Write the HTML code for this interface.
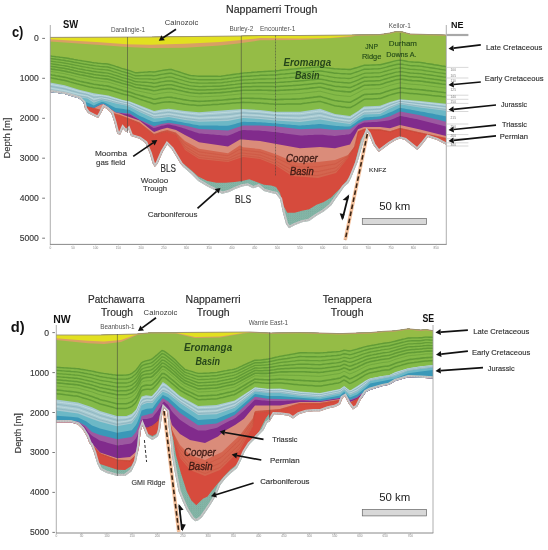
<!DOCTYPE html><html><head><meta charset="utf-8"><style>html,body{margin:0;padding:0;background:#fff;}body{width:548px;height:550px;overflow:hidden;font-family:"Liberation Sans",sans-serif;}svg{display:block}</style></head><body><svg width="548" height="550" viewBox="0 0 548 550" font-family="Liberation Sans, sans-serif"><rect width="548" height="550" fill="#fff"/><defs><pattern id="dots" width="2.2" height="2.2" patternUnits="userSpaceOnUse"><circle cx="0.6" cy="0.6" r="0.45" fill="#4f7a6e" fill-opacity="0.55"/><circle cx="1.7" cy="1.7" r="0.35" fill="#4f7a6e" fill-opacity="0.4"/></pattern></defs>
<clipPath id="clipC"><polygon points="50.0,37.4 100.0,37.2 150.0,37.0 185.0,36.6 240.0,36.0 260.0,35.5 300.0,35.5 350.0,35.0 380.0,34.5 390.0,33.0 396.0,31.5 402.0,31.8 410.0,34.0 446.0,35.0 446.0,144.7 446.2,144.7 437.0,140.0 428.0,137.0 422.5,144.0 417.4,150.0 408.0,142.5 405.0,140.0 400.0,138.5 396.0,140.0 390.0,143.5 386.0,146.6 378.7,152.0 373.2,144.7 368.7,133.8 367.2,132.0 366.5,133.8 363.2,142.5 357.5,162.2 351.0,178.0 348.5,183.0 344.0,187.0 339.9,193.1 335.5,199.0 331.1,205.5 323.8,211.4 316.5,215.8 309.2,220.9 301.9,222.3 294.6,225.3 289.0,228.2 286.0,224.0 283.0,213.0 280.0,199.0 276.0,194.0 271.2,192.9 263.9,191.0 258.5,186.5 253.0,188.3 247.5,185.6 242.0,186.5 234.7,189.2 229.3,192.0 222.0,193.8 216.5,191.0 207.4,186.5 198.2,181.0 191.0,173.7 183.6,167.3 180.3,163.4 176.0,156.1 171.6,148.9 167.2,144.5 162.8,151.8 157.7,163.4 154.8,167.0 152.7,163.4 149.7,153.2 145.4,143.0 139.6,138.7 131.0,136.0 128.5,129.5 126.0,132.0 123.0,128.4 120.0,134.9 117.2,133.5 114.2,121.8 111.3,113.0 106.9,108.7 104.0,107.2 101.1,113.0 98.2,118.1 93.8,116.0 88.0,113.0 85.0,108.7 83.6,102.8 79.2,98.4 71.9,96.2 64.6,94.1 50.0,91.9"/></clipPath>
<g clip-path="url(#clipC)">
<rect x="49" y="21.5" width="398" height="300" fill="#86b8a9"/>
<rect x="49" y="21.5" width="398" height="300" fill="url(#dots)"/>
<polygon points="49.0,21.5 447.0,21.5 447.0,250.0 446.0,250.0 367.6,250.0 366.5,131.0 364.5,133.0 360.8,140.0 357.0,155.0 353.8,167.0 349.5,176.5 346.5,181.0 343.0,185.0 339.9,188.8 335.5,193.1 331.1,197.5 323.8,201.9 316.5,204.8 309.2,209.2 301.9,210.7 294.6,212.8 287.3,212.8 282.9,204.8 280.0,193.0 276.0,187.0 271.2,185.6 263.9,184.7 256.6,181.9 249.3,179.2 242.0,181.0 234.7,181.9 225.6,182.8 216.5,182.8 207.4,181.0 198.2,176.5 191.0,170.1 183.6,163.7 182.0,250.0 50.0,250.0 49.0,250.0" fill="#d64b3d"/>
<polygon points="49.0,21.5 447.0,21.5 447.0,138.5 446.0,138.5 420.0,133.0 400.0,128.5 390.0,131.8 380.0,130.0 364.0,129.5 358.0,132.0 355.0,146.5 348.0,158.0 336.0,173.0 318.0,178.0 292.0,176.0 275.0,165.0 260.0,159.0 243.0,157.0 240.0,158.0 228.0,162.0 199.0,159.0 185.0,150.0 176.0,135.0 167.2,132.0 161.4,133.0 154.1,135.5 139.6,124.0 125.0,118.0 50.0,97.0 49.0,97.0" fill="#d4654f"/>
<polygon points="49.0,21.5 447.0,21.5 447.0,138.2 446.0,138.2 420.0,132.7 400.0,128.3 390.0,131.6 380.0,129.5 364.0,129.2 358.0,131.5 355.0,146.0 348.0,155.0 335.0,160.0 318.0,162.0 300.0,163.0 292.0,161.0 275.0,154.0 260.0,149.0 243.0,147.3 240.0,145.3 228.0,153.2 199.0,148.8 185.0,141.0 176.0,132.5 167.2,130.0 161.4,131.5 154.1,134.0 139.6,122.5 125.0,117.0 120.0,115.0 50.0,96.0 49.0,96.0" fill="#da8c7a"/>
<polygon points="49.0,21.5 447.0,21.5 447.0,136.0 446.0,136.0 420.0,129.4 400.0,125.0 390.0,128.3 380.0,127.0 364.0,127.0 358.0,129.2 350.0,144.5 335.0,148.2 320.0,147.0 300.0,148.2 275.0,143.8 260.0,141.0 243.0,139.5 240.0,139.4 228.0,146.6 199.0,142.2 185.0,135.0 176.0,129.9 167.2,127.8 161.4,129.2 154.1,132.1 151.2,129.9 139.6,120.5 125.0,115.4 120.0,113.5 115.7,112.3 108.4,107.2 104.0,104.0 101.1,104.3 93.8,108.0 86.5,106.5 80.0,101.0 50.0,95.0 49.0,95.0" fill="#812b8c"/>
<polygon points="49.0,21.5 447.0,21.5 447.0,126.5 446.0,126.5 444.0,126.0 442.0,125.5 440.0,125.0 438.0,124.5 436.1,124.0 434.1,123.5 432.1,123.0 430.1,122.4 428.1,121.9 426.1,121.4 424.1,120.9 422.1,120.4 420.1,119.9 418.1,119.5 416.2,119.1 414.2,118.7 412.2,118.3 410.2,117.9 408.2,117.5 406.2,117.1 404.2,116.7 402.2,116.3 400.2,115.9 398.2,116.7 396.3,117.5 394.3,118.4 392.3,119.3 390.3,120.1 388.3,120.5 386.3,120.8 384.3,121.0 382.3,121.3 380.3,121.6 378.3,121.7 376.4,121.9 374.4,122.0 372.4,122.1 370.4,122.2 368.4,122.3 366.4,122.4 364.4,122.6 362.4,123.3 360.4,124.2 358.4,125.1 356.5,127.0 354.5,129.3 352.5,131.5 350.5,133.7 348.5,134.4 346.5,134.6 344.5,134.9 342.5,135.1 340.5,135.3 338.5,135.5 336.6,135.8 334.6,135.9 332.6,135.7 330.6,135.5 328.6,135.4 326.6,135.2 324.6,135.0 322.6,134.8 320.6,134.7 318.6,134.7 316.7,134.7 314.7,134.8 312.7,134.9 310.7,135.0 308.7,135.1 306.7,135.2 304.7,135.3 302.7,135.4 300.7,135.4 298.7,135.3 296.8,135.0 294.8,134.8 292.8,134.5 290.8,134.2 288.8,133.9 286.8,133.7 284.8,133.4 282.8,133.1 280.8,132.9 278.8,132.6 276.9,132.3 274.9,132.1 272.9,131.9 270.9,131.7 268.9,131.5 266.9,131.3 264.9,131.1 262.9,130.9 260.9,130.7 258.9,130.6 257.0,130.5 255.0,130.4 253.0,130.4 251.0,130.3 249.0,130.3 247.0,130.2 245.0,130.1 243.0,130.1 241.0,130.5 239.0,131.1 237.1,132.0 235.1,132.8 233.1,133.7 231.1,134.5 229.1,135.3 227.1,135.7 225.1,135.6 223.1,135.4 221.1,135.2 219.1,135.1 217.2,134.9 215.2,134.8 213.2,134.6 211.2,134.4 209.2,134.3 207.2,134.1 205.2,133.9 203.2,133.8 201.2,133.6 199.2,133.4 197.3,132.8 195.3,132.2 193.3,131.5 191.3,130.8 189.3,130.2 187.3,129.5 185.3,128.8 183.3,128.2 181.3,127.6 179.3,127.0 177.4,126.4 175.4,125.8 173.4,125.4 171.4,125.0 169.4,124.6 167.4,124.6 165.4,124.9 163.4,125.4 161.4,125.8 159.4,126.4 157.5,127.1 155.5,127.8 153.5,127.9 151.5,126.8 149.5,125.6 147.5,124.5 145.5,123.4 143.5,122.2 141.5,121.1 139.5,119.9 137.6,118.8 135.6,117.8 133.6,116.7 131.6,115.6 129.6,114.6 127.6,114.3 125.6,114.0 123.6,113.7 121.6,113.3 119.6,112.9 117.7,112.6 115.7,112.3 113.7,110.9 111.7,109.5 109.7,108.1 107.7,106.7 105.7,105.2 103.7,104.0 101.7,104.2 99.7,105.0 97.8,106.0 95.8,107.0 93.8,108.0 91.8,107.6 89.8,107.2 87.8,106.8 85.8,105.9 83.8,104.2 81.8,102.6 79.8,101.0 77.9,100.6 75.9,100.2 73.9,99.8 71.9,99.4 69.9,99.0 67.9,98.6 65.9,98.2 63.9,97.8 61.9,97.4 59.9,97.0 58.0,96.6 56.0,96.2 54.0,95.8 52.0,95.4 50.0,95.0 49.0,95.0" fill="#9c58a0"/>
<polygon points="49.0,21.5 447.0,21.5 447.0,121.8 446.0,121.8 420.0,115.2 400.0,111.4 390.0,116.3 380.0,119.0 364.0,120.4 358.0,123.4 350.0,129.2 335.0,129.9 320.0,128.5 300.0,129.2 275.0,126.3 260.0,125.5 243.0,125.4 228.0,130.5 199.0,129.1 185.0,125.6 168.7,122.7 161.4,124.1 154.1,126.3 139.6,119.7 130.0,113.5 123.0,113.0 115.7,112.3 108.4,107.2 104.0,104.0 101.1,104.3 93.8,108.0 86.5,106.5 80.0,101.0 50.0,95.0 49.0,95.0" fill="#3a98b8"/>
<polygon points="49.0,21.5 447.0,21.5 447.0,116.3 446.0,116.3 444.0,115.9 442.0,115.5 440.0,115.2 438.0,114.8 436.1,114.4 434.1,114.0 432.1,113.6 430.1,113.3 428.1,112.9 426.1,112.5 424.1,112.1 422.1,111.8 420.1,111.4 418.1,111.0 416.2,110.7 414.2,110.3 412.2,110.0 410.2,109.6 408.2,109.3 406.2,108.9 404.2,108.5 402.2,108.2 400.2,107.8 398.2,108.6 396.3,109.5 394.3,110.5 392.3,111.4 390.3,112.3 388.3,113.1 386.3,113.9 384.3,114.7 382.3,115.5 380.3,116.3 378.3,116.6 376.4,116.7 374.4,116.8 372.4,117.0 370.4,117.1 368.4,117.2 366.4,117.3 364.4,117.5 362.4,118.4 360.4,119.5 358.4,120.6 356.5,121.9 354.5,123.4 352.5,124.8 350.5,126.3 348.5,126.6 346.5,126.5 344.5,126.4 342.5,126.3 340.5,126.2 338.5,126.1 336.6,126.0 334.6,125.8 332.6,125.6 330.6,125.3 328.6,125.1 326.6,124.8 324.6,124.6 322.6,124.3 320.6,124.1 318.6,124.1 316.7,124.3 314.7,124.4 312.7,124.6 310.7,124.7 308.7,124.9 306.7,125.0 304.7,125.2 302.7,125.3 300.7,125.5 298.7,125.4 296.8,125.3 294.8,125.1 292.8,124.9 290.8,124.7 288.8,124.6 286.8,124.4 284.8,124.2 282.8,124.0 280.8,123.9 278.8,123.7 276.9,123.5 274.9,123.3 272.9,123.2 270.9,123.0 268.9,122.9 266.9,122.8 264.9,122.6 262.9,122.5 260.9,122.3 258.9,122.2 257.0,122.2 255.0,122.1 253.0,122.0 251.0,122.0 249.0,121.9 247.0,121.9 245.0,121.8 243.0,121.8 241.0,122.3 239.0,122.8 237.1,123.3 235.1,123.9 233.1,124.4 231.1,124.9 229.1,125.5 227.1,125.7 225.1,125.7 223.1,125.7 221.1,125.7 219.1,125.7 217.2,125.6 215.2,125.6 213.2,125.6 211.2,125.6 209.2,125.6 207.2,125.5 205.2,125.5 203.2,125.5 201.2,125.5 199.2,125.5 197.3,125.1 195.3,124.7 193.3,124.4 191.3,124.0 189.3,123.6 187.3,123.2 185.3,122.9 183.3,122.5 181.3,122.1 179.3,121.8 177.4,121.4 175.4,121.1 173.4,120.7 171.4,120.3 169.4,120.0 167.4,120.1 165.4,120.4 163.4,120.7 161.4,121.0 159.4,121.4 157.5,121.8 155.5,122.1 153.5,122.1 151.5,121.2 149.5,120.3 147.5,119.4 145.5,118.5 143.5,117.6 141.5,116.7 139.5,115.8 137.6,114.7 135.6,113.5 133.6,112.3 131.6,111.2 129.6,110.1 127.6,109.6 125.6,109.4 123.6,109.1 121.6,108.8 119.6,108.5 117.7,108.2 115.7,107.9 113.7,106.9 111.7,105.9 109.7,104.9 107.7,104.0 105.7,103.0 103.7,102.2 101.7,102.1 99.7,102.7 97.8,103.6 95.8,104.5 93.8,105.4 91.8,104.5 89.8,103.6 87.8,102.8 85.8,102.1 83.8,101.2 81.8,100.2 79.8,99.3 77.9,98.9 75.9,98.4 73.9,98.0 71.9,97.5 69.9,97.1 67.9,96.6 65.9,96.2 63.9,95.7 61.9,95.4 59.9,95.0 58.0,94.7 56.0,94.3 54.0,94.0 52.0,93.6 50.0,93.2 49.0,93.2" fill="#6cb8c6"/>
<polygon points="49.0,21.5 447.0,21.5 447.0,110.8 446.0,110.8 420.0,107.5 400.0,104.2 390.0,108.6 380.0,113.9 364.0,114.6 358.0,118.2 350.0,124.1 335.0,121.9 320.0,119.5 300.0,121.9 275.0,120.4 260.0,119.0 243.0,118.1 228.0,121.0 199.0,121.8 185.0,120.0 168.7,117.0 161.4,118.0 154.1,118.5 139.6,112.0 128.0,106.0 115.7,103.5 108.4,101.4 101.1,99.9 93.8,102.8 87.4,98.5 79.2,97.5 64.6,93.8 50.0,91.5 49.0,91.5" fill="#a6c9d0"/>
<polygon points="49.0,21.5 447.0,21.5 447.0,103.7 446.0,103.7 420.0,101.0 400.0,99.3 390.0,102.0 380.0,105.8 364.0,106.6 358.0,111.0 350.0,116.1 335.0,113.9 320.0,108.8 300.0,111.7 275.0,111.7 260.0,110.0 243.0,109.0 228.0,110.1 199.0,112.3 185.0,111.0 168.7,108.8 161.4,109.6 154.1,111.0 139.6,105.2 130.0,101.4 123.0,99.9 108.4,95.5 93.8,93.3 79.2,89.7 64.6,85.3 50.0,82.4 49.0,82.4" fill="#84ba48"/>
<polygon points="49.0,21.5 447.0,21.5 447.0,65.9 446.0,65.9 444.0,65.6 442.0,65.2 440.0,64.9 438.0,64.6 436.1,64.3 434.1,63.9 432.1,63.6 430.1,63.3 428.1,62.9 426.1,62.6 424.1,62.3 422.1,62.0 420.1,61.7 418.1,61.5 416.2,61.5 414.2,61.4 412.2,61.3 410.2,61.2 408.2,60.8 406.2,60.4 404.2,60.1 402.2,59.7 400.2,59.5 398.2,59.7 396.3,59.9 394.3,60.3 392.3,60.9 390.3,61.4 388.3,61.9 386.3,62.4 384.3,62.9 382.3,63.4 380.3,63.9 378.3,64.0 376.4,64.1 374.4,64.2 372.4,64.2 370.4,64.3 368.4,64.4 366.4,64.5 364.4,64.5 362.4,65.1 360.4,65.7 358.4,66.3 356.5,66.9 354.5,67.5 352.5,68.0 350.5,68.6 348.5,68.7 346.5,68.6 344.5,68.5 342.5,68.4 340.5,68.3 338.5,68.2 336.6,68.1 334.6,67.9 332.6,67.7 330.6,67.4 328.6,67.2 326.6,66.9 324.6,66.6 322.6,66.4 320.6,66.1 318.6,66.1 316.7,66.3 314.7,66.4 312.7,66.6 310.7,66.7 308.7,66.9 306.7,67.0 304.7,67.2 302.7,67.3 300.7,67.5 298.7,67.6 296.8,67.9 294.8,68.1 292.8,68.3 290.8,68.5 288.8,68.7 286.8,68.9 284.8,69.1 282.8,69.3 280.8,69.5 278.8,69.8 276.9,70.0 274.9,70.2 272.9,70.3 270.9,70.4 268.9,70.5 266.9,70.6 264.9,70.7 262.9,70.8 260.9,70.9 258.9,71.1 257.0,71.2 255.0,71.4 253.0,71.6 251.0,71.8 249.0,71.9 247.0,72.1 245.0,72.3 243.0,72.4 241.0,72.7 239.0,73.0 237.1,73.3 235.1,73.5 233.1,73.8 231.1,74.1 229.1,74.4 227.1,74.7 225.1,75.0 223.1,75.2 221.1,75.5 219.1,75.7 217.2,75.7 215.2,75.7 213.2,75.7 211.2,75.7 209.2,75.6 207.2,75.6 205.2,75.6 203.2,75.6 201.2,75.6 199.2,75.6 197.3,75.4 195.3,75.2 193.3,75.1 191.3,74.9 189.3,74.5 187.3,73.9 185.3,73.3 183.3,72.6 181.3,72.0 179.3,71.3 177.4,70.6 175.4,70.0 173.4,69.4 171.4,68.7 169.4,68.7 167.4,68.9 165.4,69.2 163.4,69.5 161.4,69.9 159.4,70.3 157.5,70.6 155.5,71.0 153.5,71.3 151.5,71.1 149.5,71.1 147.5,71.3 145.5,71.4 143.5,71.6 141.5,71.8 139.5,71.9 137.6,72.1 135.6,72.2 133.6,71.6 131.6,70.8 129.6,70.1 127.6,69.5 125.6,68.9 123.6,68.3 121.6,67.7 119.6,67.0 117.7,66.4 115.7,65.8 113.7,65.1 111.7,64.5 109.7,63.9 107.7,63.4 105.7,63.2 103.7,63.1 101.7,63.0 99.7,62.8 97.8,62.6 95.8,62.3 93.8,62.1 91.8,61.8 89.8,61.5 87.8,61.1 85.8,60.8 83.8,60.5 81.8,60.2 79.8,59.9 77.9,59.5 75.9,59.2 73.9,58.8 71.9,58.5 69.9,58.1 67.9,57.8 65.9,57.5 63.9,57.1 61.9,56.9 59.9,56.6 58.0,56.4 56.0,56.1 54.0,55.9 52.0,55.6 50.0,55.4 49.0,55.4" fill="#95bc46"/>
<polygon points="49.0,21.5 447.0,21.5 447.0,35.8 446.0,35.8 410.0,34.8 402.0,32.6 396.0,32.3 390.0,33.8 380.0,35.3 356.0,35.8 350.0,37.0 300.0,40.0 260.0,40.3 238.0,43.6 220.0,45.5 185.0,47.8 150.0,48.0 127.0,46.9 100.0,45.0 50.0,41.4 49.0,41.4" fill="#d8a064"/>
<polygon points="49.0,21.5 447.0,21.5 447.0,25.0 446.0,25.0 358.0,25.0 356.0,35.0 350.0,36.0 330.0,38.0 300.0,38.5 260.0,38.0 238.0,40.3 220.0,42.0 185.0,43.8 150.0,44.7 127.0,44.2 100.0,42.3 50.0,39.2 49.0,39.2" fill="#e2e020"/>
<polyline points="50.0,55.9 52.0,56.2 54.0,56.4 56.0,56.7 58.0,56.9 59.9,57.2 61.9,57.4 63.9,57.7 65.9,58.0 67.9,58.3 69.9,58.7 71.9,59.0 73.9,59.4 75.9,59.7 77.9,60.1 79.8,60.4 81.8,60.8 83.8,61.1 85.8,61.4 87.8,61.7 89.8,62.0 91.8,62.4 93.8,62.7 95.8,62.9 97.8,63.2 99.7,63.4 101.7,63.6 103.7,63.7 105.7,63.8 107.7,64.0 109.7,64.5 111.7,65.1 113.7,65.7 115.7,66.4 117.7,67.0 119.6,67.6 121.6,68.3 123.6,68.9 125.6,69.5 127.6,70.1 129.6,70.7 131.6,71.4 133.6,72.2 135.6,72.8 137.6,72.7 139.5,72.5 141.5,72.4 143.5,72.3 145.5,72.1 147.5,72.0 149.5,71.8 151.5,71.9 153.5,72.0 155.5,71.8 157.5,71.4 159.4,71.0 161.4,70.6 163.4,70.3 165.4,70.0 167.4,69.7 169.4,69.4 171.4,69.5 173.4,70.1 175.4,70.8 177.4,71.4 179.3,72.0 181.3,72.7 183.3,73.3 185.3,74.0 187.3,74.6 189.3,75.2 191.3,75.6 193.3,75.7 195.3,75.9 197.3,76.1 199.2,76.3 201.2,76.3 203.2,76.3 205.2,76.3 207.2,76.3 209.2,76.3 211.2,76.3 213.2,76.3 215.2,76.3 217.2,76.3 219.1,76.4 221.1,76.2 223.1,75.9 225.1,75.6 227.1,75.3 229.1,75.1 231.1,74.8 233.1,74.5 235.1,74.2 237.1,73.9 239.0,73.7 241.0,73.4 243.0,73.1 245.0,72.9 247.0,72.8 249.0,72.6 251.0,72.5 253.0,72.3 255.0,72.1 257.0,72.0 258.9,71.8 260.9,71.7 262.9,71.6 264.9,71.5 266.9,71.4 268.9,71.3 270.9,71.2 272.9,71.1 274.9,71.0 276.9,70.8 278.8,70.6 280.8,70.3 282.8,70.1 284.8,69.9 286.8,69.7 288.8,69.5 290.8,69.3 292.8,69.1 294.8,68.9 296.8,68.7 298.7,68.5 300.7,68.3 302.7,68.1 304.7,68.0 306.7,67.8 308.7,67.7 310.7,67.5 312.7,67.4 314.7,67.3 316.7,67.1 318.6,67.0 320.6,66.9 322.6,67.2 324.6,67.5 326.6,67.7 328.6,68.0 330.6,68.3 332.6,68.5 334.6,68.8 336.6,68.9 338.5,69.0 340.5,69.1 342.5,69.2 344.5,69.3 346.5,69.4 348.5,69.5 350.5,69.5 352.5,68.9 354.5,68.3 356.5,67.8 358.4,67.2 360.4,66.5 362.4,65.9 364.4,65.3 366.4,65.3 368.4,65.2 370.4,65.1 372.4,65.0 374.4,65.0 376.4,64.9 378.3,64.8 380.3,64.7 382.3,64.2 384.3,63.7 386.3,63.2 388.3,62.7 390.3,62.2 392.3,61.6 394.3,61.1 396.3,60.6 398.2,60.4 400.2,60.3 402.2,60.4 404.2,60.8 406.2,61.2 408.2,61.6 410.2,61.9 412.2,62.0 414.2,62.1 416.2,62.2 418.1,62.3 420.1,62.4 422.1,62.7 424.1,63.0 426.1,63.4 428.1,63.7 430.1,64.0 432.1,64.3 434.1,64.7 436.1,65.0 438.0,65.3 440.0,65.6 442.0,66.0 444.0,66.3 446.0,66.6" fill="none" stroke="#4e8a2c" stroke-width="1.4" stroke-opacity="0.65"/>
<polyline points="50.0,58.5 52.0,58.7 54.0,59.0 56.0,59.3 58.0,59.5 59.9,59.8 61.9,60.1 63.9,60.3 65.9,60.7 67.9,61.0 69.9,61.4 71.9,61.8 73.9,62.2 75.9,62.5 77.9,62.9 79.8,63.3 81.8,63.6 83.8,64.0 85.8,64.3 87.8,64.6 89.8,65.0 91.8,65.3 93.8,65.6 95.8,65.9 97.8,66.1 99.7,66.4 101.7,66.6 103.7,66.7 105.7,66.9 107.7,67.0 109.7,67.5 111.7,68.1 113.7,68.7 115.7,69.4 117.7,70.0 119.6,70.6 121.6,71.3 123.6,71.9 125.6,72.5 127.6,73.0 129.6,73.6 131.6,74.4 133.6,75.1 135.6,75.7 137.6,75.7 139.5,75.7 141.5,75.6 143.5,75.6 145.5,75.5 147.5,75.5 149.5,75.4 151.5,75.5 153.5,75.7 155.5,75.5 157.5,75.2 159.4,74.8 161.4,74.4 163.4,74.1 165.4,73.8 167.4,73.5 169.4,73.2 171.4,73.3 173.4,73.9 175.4,74.5 177.4,75.1 179.3,75.7 181.3,76.3 183.3,76.9 185.3,77.5 187.3,78.1 189.3,78.7 191.3,79.0 193.3,79.2 195.3,79.4 197.3,79.6 199.2,79.7 201.2,79.7 203.2,79.7 205.2,79.7 207.2,79.7 209.2,79.7 211.2,79.7 213.2,79.7 215.2,79.7 217.2,79.6 219.1,79.6 221.1,79.5 223.1,79.2 225.1,78.9 227.1,78.7 229.1,78.4 231.1,78.1 233.1,77.9 235.1,77.6 237.1,77.3 239.0,77.1 241.0,76.8 243.0,76.5 245.0,76.4 247.0,76.3 249.0,76.2 251.0,76.0 253.0,75.9 255.0,75.7 257.0,75.6 258.9,75.5 260.9,75.3 262.9,75.3 264.9,75.2 266.9,75.2 268.9,75.1 270.9,75.0 272.9,75.0 274.9,74.9 276.9,74.7 278.8,74.5 280.8,74.3 282.8,74.1 284.8,74.0 286.8,73.8 288.8,73.6 290.8,73.4 292.8,73.2 294.8,73.0 296.8,72.8 298.7,72.7 300.7,72.5 302.7,72.3 304.7,72.2 306.7,72.0 308.7,71.8 310.7,71.7 312.7,71.5 314.7,71.3 316.7,71.2 318.6,71.0 320.6,71.0 322.6,71.3 324.6,71.6 326.6,71.9 328.6,72.2 330.6,72.5 332.6,72.8 334.6,73.2 336.6,73.3 338.5,73.4 340.5,73.6 342.5,73.7 344.5,73.8 346.5,73.9 348.5,74.0 350.5,74.0 352.5,73.3 354.5,72.7 356.5,72.0 358.4,71.4 360.4,70.7 362.4,69.9 364.4,69.3 366.4,69.2 368.4,69.2 370.4,69.1 372.4,69.0 374.4,68.9 376.4,68.9 378.3,68.8 380.3,68.6 382.3,68.1 384.3,67.6 386.3,67.1 388.3,66.5 390.3,66.0 392.3,65.5 394.3,65.0 396.3,64.5 398.2,64.2 400.2,64.1 402.2,64.2 404.2,64.6 406.2,64.9 408.2,65.3 410.2,65.6 412.2,65.7 414.2,65.8 416.2,65.9 418.1,66.0 420.1,66.1 422.1,66.4 424.1,66.8 426.1,67.1 428.1,67.4 430.1,67.7 432.1,68.0 434.1,68.3 436.1,68.6 438.0,68.9 440.0,69.3 442.0,69.6 444.0,69.9 446.0,70.2" fill="none" stroke="#4e8a2c" stroke-width="1.4" stroke-opacity="0.65"/>
<polyline points="50.0,61.0 52.0,61.3 54.0,61.6 56.0,61.9 58.0,62.1 59.9,62.4 61.9,62.7 63.9,63.0 65.9,63.3 67.9,63.7 69.9,64.1 71.9,64.5 73.9,64.9 75.9,65.3 77.9,65.7 79.8,66.1 81.8,66.5 83.8,66.8 85.8,67.2 87.8,67.5 89.8,67.9 91.8,68.2 93.8,68.6 95.8,68.9 97.8,69.1 99.7,69.4 101.7,69.5 103.7,69.7 105.7,69.9 107.7,70.0 109.7,70.5 111.7,71.1 113.7,71.8 115.7,72.4 117.7,73.0 119.6,73.6 121.6,74.3 123.6,74.9 125.6,75.4 127.6,76.0 129.6,76.5 131.6,77.3 133.6,78.1 135.6,78.7 137.6,78.7 139.5,78.8 141.5,78.8 143.5,78.9 145.5,78.9 147.5,78.9 149.5,79.0 151.5,79.2 153.5,79.5 155.5,79.3 157.5,78.9 159.4,78.5 161.4,78.1 163.4,77.8 165.4,77.5 167.4,77.2 169.4,77.0 171.4,77.1 173.4,77.7 175.4,78.3 177.4,78.8 179.3,79.4 181.3,79.9 183.3,80.5 185.3,81.1 187.3,81.6 189.3,82.1 191.3,82.5 193.3,82.6 195.3,82.8 197.3,83.0 199.2,83.2 201.2,83.1 203.2,83.1 205.2,83.1 207.2,83.1 209.2,83.0 211.2,83.0 213.2,83.0 215.2,83.0 217.2,82.9 219.1,82.9 221.1,82.8 223.1,82.5 225.1,82.2 227.1,82.0 229.1,81.7 231.1,81.5 233.1,81.2 235.1,81.0 237.1,80.7 239.0,80.5 241.0,80.2 243.0,80.0 245.0,79.9 247.0,79.8 249.0,79.7 251.0,79.6 253.0,79.5 255.0,79.3 257.0,79.2 258.9,79.1 260.9,79.0 262.9,79.0 264.9,79.0 266.9,78.9 268.9,78.9 270.9,78.9 272.9,78.8 274.9,78.8 276.9,78.7 278.8,78.5 280.8,78.3 282.8,78.2 284.8,78.0 286.8,77.8 288.8,77.7 290.8,77.5 292.8,77.3 294.8,77.2 296.8,77.0 298.7,76.8 300.7,76.7 302.7,76.5 304.7,76.3 306.7,76.1 308.7,76.0 310.7,75.8 312.7,75.6 314.7,75.4 316.7,75.3 318.6,75.1 320.6,75.1 322.6,75.4 324.6,75.8 326.6,76.1 328.6,76.5 330.6,76.8 332.6,77.2 334.6,77.5 336.6,77.7 338.5,77.8 340.5,78.0 342.5,78.1 344.5,78.2 346.5,78.4 348.5,78.5 350.5,78.4 352.5,77.7 354.5,77.0 356.5,76.3 358.4,75.6 360.4,74.8 362.4,74.0 364.4,73.3 366.4,73.2 368.4,73.2 370.4,73.1 372.4,73.0 374.4,72.9 376.4,72.8 378.3,72.8 380.3,72.6 382.3,72.1 384.3,71.5 386.3,71.0 388.3,70.4 390.3,69.9 392.3,69.3 394.3,68.8 396.3,68.3 398.2,68.1 400.2,67.8 402.2,68.0 404.2,68.3 406.2,68.7 408.2,69.0 410.2,69.3 412.2,69.4 414.2,69.5 416.2,69.6 418.1,69.8 420.1,69.9 422.1,70.2 424.1,70.5 426.1,70.8 428.1,71.1 430.1,71.4 432.1,71.7 434.1,72.0 436.1,72.3 438.0,72.6 440.0,72.9 442.0,73.2 444.0,73.5 446.0,73.8" fill="none" stroke="#4e8a2c" stroke-width="1.3" stroke-opacity="0.6"/>
<polyline points="50.0,63.6 52.0,63.9 54.0,64.2 56.0,64.5 58.0,64.8 59.9,65.1 61.9,65.4 63.9,65.6 65.9,66.0 67.9,66.4 69.9,66.9 71.9,67.3 73.9,67.7 75.9,68.1 77.9,68.6 79.8,69.0 81.8,69.3 83.8,69.7 85.8,70.1 87.8,70.4 89.8,70.8 91.8,71.2 93.8,71.5 95.8,71.8 97.8,72.1 99.7,72.3 101.7,72.5 103.7,72.7 105.7,72.9 107.7,73.1 109.7,73.6 111.7,74.2 113.7,74.8 115.7,75.4 117.7,76.0 119.6,76.6 121.6,77.3 123.6,77.9 125.6,78.4 127.6,78.9 129.6,79.5 131.6,80.2 133.6,81.0 135.6,81.6 137.6,81.8 139.5,81.9 141.5,82.1 143.5,82.2 145.5,82.3 147.5,82.4 149.5,82.6 151.5,82.8 153.5,83.2 155.5,83.0 157.5,82.7 159.4,82.3 161.4,81.9 163.4,81.6 165.4,81.3 167.4,81.0 169.4,80.9 171.4,81.0 173.4,81.5 175.4,82.0 177.4,82.5 179.3,83.1 181.3,83.6 183.3,84.1 185.3,84.6 187.3,85.1 189.3,85.6 191.3,85.9 193.3,86.1 195.3,86.3 197.3,86.4 199.2,86.6 201.2,86.6 203.2,86.5 205.2,86.5 207.2,86.4 209.2,86.4 211.2,86.4 213.2,86.3 215.2,86.3 217.2,86.2 219.1,86.2 221.1,86.0 223.1,85.8 225.1,85.6 227.1,85.3 229.1,85.1 231.1,84.8 233.1,84.6 235.1,84.4 237.1,84.1 239.0,83.9 241.0,83.7 243.0,83.4 245.0,83.3 247.0,83.3 249.0,83.2 251.0,83.1 253.0,83.0 255.0,83.0 257.0,82.9 258.9,82.8 260.9,82.7 262.9,82.7 264.9,82.7 266.9,82.7 268.9,82.7 270.9,82.7 272.9,82.7 274.9,82.7 276.9,82.6 278.8,82.4 280.8,82.3 282.8,82.2 284.8,82.0 286.8,81.9 288.8,81.7 290.8,81.6 292.8,81.4 294.8,81.3 296.8,81.2 298.7,81.0 300.7,80.8 302.7,80.7 304.7,80.5 306.7,80.3 308.7,80.1 310.7,79.9 312.7,79.7 314.7,79.5 316.7,79.3 318.6,79.2 320.6,79.1 322.6,79.5 324.6,79.9 326.6,80.3 328.6,80.7 330.6,81.1 332.6,81.5 334.6,81.8 336.6,82.1 338.5,82.2 340.5,82.4 342.5,82.5 344.5,82.7 346.5,82.8 348.5,83.0 350.5,82.9 352.5,82.1 354.5,81.4 356.5,80.6 358.4,79.8 360.4,78.9 362.4,78.0 364.4,77.3 366.4,77.2 368.4,77.1 370.4,77.1 372.4,77.0 374.4,76.9 376.4,76.8 378.3,76.7 380.3,76.6 382.3,76.0 384.3,75.4 386.3,74.8 388.3,74.3 390.3,73.7 392.3,73.2 394.3,72.6 396.3,72.1 398.2,71.9 400.2,71.6 402.2,71.8 404.2,72.1 406.2,72.4 408.2,72.7 410.2,73.0 412.2,73.1 414.2,73.3 416.2,73.4 418.1,73.5 420.1,73.6 422.1,73.9 424.1,74.2 426.1,74.5 428.1,74.7 430.1,75.0 432.1,75.3 434.1,75.6 436.1,75.9 438.0,76.2 440.0,76.5 442.0,76.8 444.0,77.1 446.0,77.3" fill="none" stroke="#4e8a2c" stroke-width="1.4" stroke-opacity="0.65"/>
<polyline points="50.0,66.2 52.0,66.5 54.0,66.8 56.0,67.1 58.0,67.4 59.9,67.7 61.9,68.0 63.9,68.3 65.9,68.7 67.9,69.1 69.9,69.6 71.9,70.0 73.9,70.5 75.9,70.9 77.9,71.4 79.8,71.8 81.8,72.2 83.8,72.6 85.8,73.0 87.8,73.3 89.8,73.7 91.8,74.1 93.8,74.5 95.8,74.8 97.8,75.0 99.7,75.3 101.7,75.5 103.7,75.7 105.7,75.9 107.7,76.1 109.7,76.6 111.7,77.2 113.7,77.8 115.7,78.4 117.7,79.0 119.6,79.6 121.6,80.3 123.6,80.9 125.6,81.4 127.6,81.9 129.6,82.4 131.6,83.1 133.6,83.9 135.6,84.5 137.6,84.8 139.5,85.0 141.5,85.3 143.5,85.5 145.5,85.7 147.5,85.9 149.5,86.2 151.5,86.5 153.5,86.9 155.5,86.8 157.5,86.4 159.4,86.0 161.4,85.6 163.4,85.4 165.4,85.1 167.4,84.8 169.4,84.7 171.4,84.8 173.4,85.3 175.4,85.8 177.4,86.2 179.3,86.7 181.3,87.2 183.3,87.7 185.3,88.2 187.3,88.6 189.3,89.1 191.3,89.3 193.3,89.5 195.3,89.7 197.3,89.9 199.2,90.0 201.2,90.0 203.2,89.9 205.2,89.9 207.2,89.8 209.2,89.8 211.2,89.7 213.2,89.7 215.2,89.6 217.2,89.5 219.1,89.5 221.1,89.3 223.1,89.1 225.1,88.9 227.1,88.6 229.1,88.4 231.1,88.2 233.1,88.0 235.1,87.8 237.1,87.5 239.0,87.3 241.0,87.1 243.0,86.9 245.0,86.8 247.0,86.8 249.0,86.7 251.0,86.7 253.0,86.6 255.0,86.6 257.0,86.5 258.9,86.4 260.9,86.4 262.9,86.5 264.9,86.5 266.9,86.5 268.9,86.6 270.9,86.6 272.9,86.6 274.9,86.7 276.9,86.5 278.8,86.4 280.8,86.3 282.8,86.2 284.8,86.0 286.8,85.9 288.8,85.8 290.8,85.7 292.8,85.6 294.8,85.4 296.8,85.3 298.7,85.2 300.7,85.0 302.7,84.8 304.7,84.6 306.7,84.4 308.7,84.2 310.7,84.0 312.7,83.8 314.7,83.6 316.7,83.4 318.6,83.2 320.6,83.2 322.6,83.6 324.6,84.1 326.6,84.5 328.6,84.9 330.6,85.3 332.6,85.8 334.6,86.2 336.6,86.4 338.5,86.6 340.5,86.8 342.5,86.9 344.5,87.1 346.5,87.3 348.5,87.5 350.5,87.4 352.5,86.6 354.5,85.7 356.5,84.9 358.4,84.0 360.4,83.0 362.4,82.1 364.4,81.3 366.4,81.2 368.4,81.1 370.4,81.0 372.4,81.0 374.4,80.9 376.4,80.8 378.3,80.7 380.3,80.5 382.3,79.9 384.3,79.3 386.3,78.7 388.3,78.1 390.3,77.5 392.3,77.0 394.3,76.5 396.3,76.0 398.2,75.7 400.2,75.4 402.2,75.6 404.2,75.8 406.2,76.1 408.2,76.4 410.2,76.7 412.2,76.8 414.2,77.0 416.2,77.1 418.1,77.2 420.1,77.3 422.1,77.6 424.1,77.9 426.1,78.2 428.1,78.4 430.1,78.7 432.1,79.0 434.1,79.3 436.1,79.5 438.0,79.8 440.0,80.1 442.0,80.4 444.0,80.6 446.0,80.9" fill="none" stroke="#4e8a2c" stroke-width="1.5" stroke-opacity="0.65"/>
<polyline points="50.0,68.7 52.0,69.1 54.0,69.4 56.0,69.7 58.0,70.0 59.9,70.3 61.9,70.6 63.9,71.0 65.9,71.4 67.9,71.9 69.9,72.3 71.9,72.8 73.9,73.3 75.9,73.7 77.9,74.2 79.8,74.7 81.8,75.0 83.8,75.4 85.8,75.8 87.8,76.2 89.8,76.6 91.8,77.0 93.8,77.5 95.8,77.7 97.8,78.0 99.7,78.3 101.7,78.5 103.7,78.7 105.7,78.9 107.7,79.1 109.7,79.6 111.7,80.2 113.7,80.8 115.7,81.4 117.7,82.0 119.6,82.6 121.6,83.3 123.6,83.8 125.6,84.3 127.6,84.8 129.6,85.3 131.6,86.0 133.6,86.8 135.6,87.5 137.6,87.8 139.5,88.1 141.5,88.5 143.5,88.8 145.5,89.1 147.5,89.4 149.5,89.7 151.5,90.2 153.5,90.7 155.5,90.5 157.5,90.2 159.4,89.8 161.4,89.4 163.4,89.1 165.4,88.9 167.4,88.6 169.4,88.5 171.4,88.6 173.4,89.1 175.4,89.5 177.4,90.0 179.3,90.4 181.3,90.8 183.3,91.3 185.3,91.7 187.3,92.1 189.3,92.5 191.3,92.8 193.3,93.0 195.3,93.2 197.3,93.3 199.2,93.5 201.2,93.4 203.2,93.3 205.2,93.3 207.2,93.2 209.2,93.1 211.2,93.1 213.2,93.0 215.2,92.9 217.2,92.8 219.1,92.8 221.1,92.6 223.1,92.4 225.1,92.2 227.1,92.0 229.1,91.8 231.1,91.6 233.1,91.3 235.1,91.1 237.1,90.9 239.0,90.7 241.0,90.5 243.0,90.3 245.0,90.3 247.0,90.3 249.0,90.2 251.0,90.2 253.0,90.2 255.0,90.2 257.0,90.1 258.9,90.1 260.9,90.1 262.9,90.2 264.9,90.3 266.9,90.3 268.9,90.4 270.9,90.4 272.9,90.5 274.9,90.6 276.9,90.5 278.8,90.4 280.8,90.3 282.8,90.2 284.8,90.1 286.8,90.0 288.8,89.9 290.8,89.8 292.8,89.7 294.8,89.6 296.8,89.5 298.7,89.4 300.7,89.2 302.7,89.0 304.7,88.8 306.7,88.6 308.7,88.4 310.7,88.1 312.7,87.9 314.7,87.7 316.7,87.5 318.6,87.3 320.6,87.3 322.6,87.7 324.6,88.2 326.6,88.7 328.6,89.1 330.6,89.6 332.6,90.1 334.6,90.5 336.6,90.8 338.5,91.0 340.5,91.2 342.5,91.4 344.5,91.6 346.5,91.8 348.5,91.9 350.5,91.9 352.5,91.0 354.5,90.1 356.5,89.1 358.4,88.2 360.4,87.2 362.4,86.1 364.4,85.3 366.4,85.2 368.4,85.1 370.4,85.0 372.4,84.9 374.4,84.9 376.4,84.8 378.3,84.7 380.3,84.5 382.3,83.9 384.3,83.3 386.3,82.6 388.3,82.0 390.3,81.4 392.3,80.9 394.3,80.3 396.3,79.8 398.2,79.5 400.2,79.2 402.2,79.3 404.2,79.6 406.2,79.9 408.2,80.2 410.2,80.4 412.2,80.6 414.2,80.7 416.2,80.8 418.1,80.9 420.1,81.1 422.1,81.3 424.1,81.6 426.1,81.9 428.1,82.1 430.1,82.4 432.1,82.6 434.1,82.9 436.1,83.2 438.0,83.4 440.0,83.7 442.0,84.0 444.0,84.2 446.0,84.5" fill="none" stroke="#4e8a2c" stroke-width="1.6" stroke-opacity="0.65"/>
<polyline points="50.0,71.3 52.0,71.6 54.0,72.0 56.0,72.3 58.0,72.6 59.9,73.0 61.9,73.3 63.9,73.6 65.9,74.1 67.9,74.6 69.9,75.0 71.9,75.5 73.9,76.0 75.9,76.5 77.9,77.0 79.8,77.5 81.8,77.9 83.8,78.3 85.8,78.7 87.8,79.1 89.8,79.6 91.8,80.0 93.8,80.4 95.8,80.7 97.8,80.9 99.7,81.2 101.7,81.5 103.7,81.7 105.7,81.9 107.7,82.1 109.7,82.6 111.7,83.2 113.7,83.8 115.7,84.4 117.7,85.0 119.6,85.6 121.6,86.3 123.6,86.8 125.6,87.3 127.6,87.8 129.6,88.3 131.6,89.0 133.6,89.7 135.6,90.4 137.6,90.8 139.5,91.3 141.5,91.7 143.5,92.1 145.5,92.5 147.5,92.9 149.5,93.3 151.5,93.8 153.5,94.4 155.5,94.3 157.5,93.9 159.4,93.5 161.4,93.1 163.4,92.9 165.4,92.6 167.4,92.4 169.4,92.3 171.4,92.4 173.4,92.9 175.4,93.3 177.4,93.7 179.3,94.1 181.3,94.5 183.3,94.9 185.3,95.3 187.3,95.6 189.3,96.0 191.3,96.2 193.3,96.4 195.3,96.6 197.3,96.8 199.2,96.9 201.2,96.8 203.2,96.8 205.2,96.7 207.2,96.6 209.2,96.5 211.2,96.4 213.2,96.3 215.2,96.2 217.2,96.1 219.1,96.1 221.1,95.9 223.1,95.7 225.1,95.5 227.1,95.3 229.1,95.1 231.1,94.9 233.1,94.7 235.1,94.5 237.1,94.3 239.0,94.1 241.0,93.9 243.0,93.7 245.0,93.7 247.0,93.8 249.0,93.8 251.0,93.8 253.0,93.8 255.0,93.8 257.0,93.8 258.9,93.8 260.9,93.8 262.9,93.9 264.9,94.0 266.9,94.1 268.9,94.2 270.9,94.3 272.9,94.4 274.9,94.5 276.9,94.4 278.8,94.3 280.8,94.3 282.8,94.2 284.8,94.1 286.8,94.0 288.8,93.9 290.8,93.9 292.8,93.8 294.8,93.7 296.8,93.6 298.7,93.5 300.7,93.4 302.7,93.2 304.7,92.9 306.7,92.7 308.7,92.5 310.7,92.3 312.7,92.0 314.7,91.8 316.7,91.6 318.6,91.3 320.6,91.3 322.6,91.9 324.6,92.4 326.6,92.9 328.6,93.4 330.6,93.9 332.6,94.4 334.6,94.9 336.6,95.2 338.5,95.4 340.5,95.6 342.5,95.8 344.5,96.0 346.5,96.2 348.5,96.4 350.5,96.4 352.5,95.4 354.5,94.4 356.5,93.4 358.4,92.4 360.4,91.3 362.4,90.2 364.4,89.3 366.4,89.2 368.4,89.1 370.4,89.0 372.4,88.9 374.4,88.8 376.4,88.7 378.3,88.7 380.3,88.5 382.3,87.8 384.3,87.2 386.3,86.5 388.3,85.9 390.3,85.2 392.3,84.7 394.3,84.2 396.3,83.7 398.2,83.3 400.2,82.9 402.2,83.1 404.2,83.4 406.2,83.6 408.2,83.9 410.2,84.1 412.2,84.3 414.2,84.4 416.2,84.5 418.1,84.7 420.1,84.8 422.1,85.1 424.1,85.3 426.1,85.6 428.1,85.8 430.1,86.1 432.1,86.3 434.1,86.6 436.1,86.8 438.0,87.1 440.0,87.3 442.0,87.6 444.0,87.8 446.0,88.1" fill="none" stroke="#4e8a2c" stroke-width="0.9" stroke-opacity="0.4"/>
<polyline points="50.0,74.6 52.0,75.0 54.0,75.3 56.0,75.7 58.0,76.0 59.9,76.4 61.9,76.7 63.9,77.1 65.9,77.5 67.9,78.1 69.9,78.6 71.9,79.1 73.9,79.6 75.9,80.2 77.9,80.7 79.8,81.2 81.8,81.6 83.8,82.1 85.8,82.5 87.8,82.9 89.8,83.4 91.8,83.8 93.8,84.2 95.8,84.5 97.8,84.8 99.7,85.1 101.7,85.3 103.7,85.6 105.7,85.8 107.7,86.1 109.7,86.6 111.7,87.2 113.7,87.8 115.7,88.3 117.7,88.9 119.6,89.5 121.6,90.1 123.6,90.7 125.6,91.1 127.6,91.6 129.6,92.1 131.6,92.8 133.6,93.5 135.6,94.2 137.6,94.8 139.5,95.3 141.5,95.9 143.5,96.4 145.5,96.9 147.5,97.5 149.5,98.0 151.5,98.6 153.5,99.2 155.5,99.2 157.5,98.8 159.4,98.4 161.4,98.0 163.4,97.8 165.4,97.5 167.4,97.3 169.4,97.2 171.4,97.4 173.4,97.8 175.4,98.1 177.4,98.5 179.3,98.8 181.3,99.2 183.3,99.6 185.3,99.9 187.3,100.2 189.3,100.5 191.3,100.7 193.3,100.9 195.3,101.1 197.3,101.3 199.2,101.4 201.2,101.3 203.2,101.2 205.2,101.1 207.2,101.0 209.2,100.9 211.2,100.8 213.2,100.6 215.2,100.5 217.2,100.4 219.1,100.3 221.1,100.2 223.1,100.0 225.1,99.8 227.1,99.6 229.1,99.4 231.1,99.3 233.1,99.1 235.1,98.9 237.1,98.7 239.0,98.6 241.0,98.4 243.0,98.2 245.0,98.3 247.0,98.3 249.0,98.3 251.0,98.4 253.0,98.4 255.0,98.5 257.0,98.5 258.9,98.5 260.9,98.6 262.9,98.8 264.9,98.9 266.9,99.0 268.9,99.2 270.9,99.3 272.9,99.5 274.9,99.6 276.9,99.6 278.8,99.5 280.8,99.4 282.8,99.4 284.8,99.3 286.8,99.3 288.8,99.2 290.8,99.2 292.8,99.1 294.8,99.1 296.8,99.0 298.7,99.0 300.7,98.8 302.7,98.6 304.7,98.4 306.7,98.1 308.7,97.9 310.7,97.6 312.7,97.4 314.7,97.1 316.7,96.9 318.6,96.6 320.6,96.6 322.6,97.2 324.6,97.7 326.6,98.3 328.6,98.9 330.6,99.4 332.6,100.0 334.6,100.5 336.6,100.8 338.5,101.1 340.5,101.3 342.5,101.5 344.5,101.8 346.5,102.0 348.5,102.3 350.5,102.2 352.5,101.1 354.5,100.0 356.5,99.0 358.4,97.9 360.4,96.7 362.4,95.4 364.4,94.5 366.4,94.4 368.4,94.3 370.4,94.2 372.4,94.1 374.4,94.0 376.4,93.9 378.3,93.8 380.3,93.6 382.3,92.9 384.3,92.3 386.3,91.6 388.3,90.9 390.3,90.2 392.3,89.7 394.3,89.2 396.3,88.7 398.2,88.2 400.2,87.9 402.2,88.0 404.2,88.2 406.2,88.5 408.2,88.7 410.2,88.9 412.2,89.1 414.2,89.2 416.2,89.4 418.1,89.5 420.1,89.7 422.1,89.9 424.1,90.1 426.1,90.4 428.1,90.6 430.1,90.8 432.1,91.1 434.1,91.3 436.1,91.5 438.0,91.8 440.0,92.0 442.0,92.2 444.0,92.5 446.0,92.7" fill="none" stroke="#4e8a2c" stroke-width="1.6" stroke-opacity="0.65"/>
<polyline points="50.0,77.7 52.0,78.1 54.0,78.4 56.0,78.8 58.0,79.2 59.9,79.5 61.9,79.9 63.9,80.3 65.9,80.8 67.9,81.3 69.9,81.9 71.9,82.4 73.9,83.0 75.9,83.5 77.9,84.1 79.8,84.6 81.8,85.0 83.8,85.5 85.8,86.0 87.8,86.4 89.8,86.9 91.8,87.3 93.8,87.8 95.8,88.1 97.8,88.3 99.7,88.6 101.7,88.9 103.7,89.2 105.7,89.4 107.7,89.7 109.7,90.2 111.7,90.8 113.7,91.4 115.7,92.0 117.7,92.5 119.6,93.1 121.6,93.7 123.6,94.3 125.6,94.7 127.6,95.1 129.6,95.6 131.6,96.3 133.6,97.0 135.6,97.8 137.6,98.4 139.5,99.1 141.5,99.7 143.5,100.4 145.5,101.0 147.5,101.7 149.5,102.3 151.5,103.0 153.5,103.7 155.5,103.7 157.5,103.3 159.4,102.9 161.4,102.5 163.4,102.3 165.4,102.1 167.4,101.9 169.4,101.8 171.4,102.0 173.4,102.3 175.4,102.6 177.4,102.9 179.3,103.3 181.3,103.6 183.3,103.9 185.3,104.2 187.3,104.4 189.3,104.7 191.3,104.9 193.3,105.0 195.3,105.2 197.3,105.4 199.2,105.5 201.2,105.4 203.2,105.3 205.2,105.2 207.2,105.0 209.2,104.9 211.2,104.8 213.2,104.6 215.2,104.5 217.2,104.4 219.1,104.3 221.1,104.1 223.1,104.0 225.1,103.8 227.1,103.6 229.1,103.5 231.1,103.3 233.1,103.1 235.1,103.0 237.1,102.8 239.0,102.7 241.0,102.5 243.0,102.3 245.0,102.4 247.0,102.5 249.0,102.6 251.0,102.6 253.0,102.7 255.0,102.8 257.0,102.9 258.9,102.9 260.9,103.1 262.9,103.2 264.9,103.4 266.9,103.6 268.9,103.8 270.9,103.9 272.9,104.1 274.9,104.3 276.9,104.3 278.8,104.3 280.8,104.2 282.8,104.2 284.8,104.2 286.8,104.1 288.8,104.1 290.8,104.1 292.8,104.1 294.8,104.0 296.8,104.0 298.7,104.0 300.7,103.9 302.7,103.6 304.7,103.3 306.7,103.1 308.7,102.8 310.7,102.6 312.7,102.3 314.7,102.0 316.7,101.8 318.6,101.5 320.6,101.5 322.6,102.1 324.6,102.7 326.6,103.3 328.6,103.9 330.6,104.5 332.6,105.1 334.6,105.7 336.6,106.1 338.5,106.3 340.5,106.6 342.5,106.9 344.5,107.1 346.5,107.4 348.5,107.6 350.5,107.5 352.5,106.4 354.5,105.3 356.5,104.1 358.4,102.9 360.4,101.6 362.4,100.3 364.4,99.2 366.4,99.1 368.4,99.1 370.4,99.0 372.4,98.9 374.4,98.8 376.4,98.7 378.3,98.6 380.3,98.4 382.3,97.7 384.3,97.0 386.3,96.3 388.3,95.5 390.3,94.9 392.3,94.3 394.3,93.8 396.3,93.3 398.2,92.8 400.2,92.4 402.2,92.5 404.2,92.8 406.2,93.0 408.2,93.2 410.2,93.4 412.2,93.5 414.2,93.7 416.2,93.8 418.1,94.0 420.1,94.2 422.1,94.4 424.1,94.6 426.1,94.8 428.1,95.0 430.1,95.2 432.1,95.5 434.1,95.7 436.1,95.9 438.0,96.1 440.0,96.3 442.0,96.6 444.0,96.8 446.0,97.0" fill="none" stroke="#4e8a2c" stroke-width="1.5" stroke-opacity="0.65"/>
<polyline points="50.0,84.2 52.0,84.6 54.0,85.0 56.0,85.4 58.0,85.7 59.9,86.1 61.9,86.5 63.9,86.9 65.9,87.4 67.9,88.0 69.9,88.5 71.9,89.1 73.9,89.7 75.9,90.3 77.9,90.9 79.8,91.4 81.8,91.8 83.8,92.3 85.8,92.7 87.8,93.2 89.8,93.9 91.8,94.5 93.8,95.2 95.8,95.3 97.8,95.4 99.7,95.4 101.7,95.6 103.7,95.9 105.7,96.2 107.7,96.6 109.7,97.1 111.7,97.7 113.7,98.3 115.7,98.9 117.7,99.4 119.6,100.0 121.6,100.5 123.6,101.0 125.6,101.5 127.6,101.9 129.6,102.4 131.6,103.2 133.6,104.0 135.6,104.9 137.6,105.7 139.5,106.5 141.5,107.4 143.5,108.2 145.5,109.0 147.5,109.8 149.5,110.6 151.5,111.4 153.5,112.2 155.5,112.3 157.5,111.9 159.4,111.6 161.4,111.3 163.4,111.0 165.4,110.8 167.4,110.6 169.4,110.5 171.4,110.8 173.4,111.1 175.4,111.4 177.4,111.7 179.3,112.0 181.3,112.3 183.3,112.6 185.3,112.8 187.3,113.0 189.3,113.2 191.3,113.4 193.3,113.6 195.3,113.8 197.3,114.0 199.2,114.2 201.2,114.1 203.2,113.9 205.2,113.8 207.2,113.7 209.2,113.5 211.2,113.4 213.2,113.3 215.2,113.1 217.2,113.0 219.1,112.9 221.1,112.7 223.1,112.6 225.1,112.5 227.1,112.3 229.1,112.2 231.1,112.0 233.1,111.8 235.1,111.6 237.1,111.4 239.0,111.2 241.0,111.0 243.0,110.8 245.0,110.9 247.0,111.1 249.0,111.2 251.0,111.3 253.0,111.4 255.0,111.5 257.0,111.6 258.9,111.7 260.9,111.9 262.9,112.1 264.9,112.3 266.9,112.6 268.9,112.8 270.9,113.0 272.9,113.2 274.9,113.4 276.9,113.5 278.8,113.5 280.8,113.5 282.8,113.5 284.8,113.6 286.8,113.6 288.8,113.6 290.8,113.6 292.8,113.7 294.8,113.7 296.8,113.7 298.7,113.7 300.7,113.6 302.7,113.4 304.7,113.1 306.7,112.8 308.7,112.5 310.7,112.2 312.7,112.0 314.7,111.7 316.7,111.4 318.6,111.1 320.6,111.1 322.6,111.7 324.6,112.3 326.6,112.9 328.6,113.6 330.6,114.2 332.6,114.8 334.6,115.4 336.6,115.7 338.5,116.0 340.5,116.3 342.5,116.6 344.5,116.9 346.5,117.2 348.5,117.5 350.5,117.4 352.5,116.1 354.5,114.8 356.5,113.5 358.4,112.1 360.4,110.7 362.4,109.3 364.4,108.2 366.4,108.1 368.4,108.0 370.4,107.9 372.4,107.8 374.4,107.7 376.4,107.6 378.3,107.5 380.3,107.3 382.3,106.5 384.3,105.7 386.3,104.8 388.3,104.0 390.3,103.2 392.3,102.6 394.3,102.0 396.3,101.4 398.2,100.8 400.2,100.3 402.2,100.5 404.2,100.7 406.2,100.9 408.2,101.1 410.2,101.3 412.2,101.5 414.2,101.7 416.2,101.9 418.1,102.1 420.1,102.3 422.1,102.5 424.1,102.7 426.1,103.0 428.1,103.2 430.1,103.4 432.1,103.6 434.1,103.8 436.1,104.0 438.0,104.3 440.0,104.5 442.0,104.7 444.0,104.9 446.0,105.1" fill="none" stroke="#c4dde2" stroke-width="0.8"/>
<polyline points="50.0,86.2 52.0,86.6 54.0,86.9 56.0,87.3 58.0,87.7 59.9,88.0 61.9,88.4 63.9,88.7 65.9,89.2 67.9,89.8 69.9,90.4 71.9,90.9 73.9,91.5 75.9,92.0 77.9,92.6 79.8,93.1 81.8,93.5 83.8,93.9 85.8,94.3 87.8,94.7 89.8,95.6 91.8,96.4 93.8,97.3 95.8,97.1 97.8,97.0 99.7,96.8 101.7,96.8 103.7,97.2 105.7,97.5 107.7,97.9 109.7,98.4 111.7,99.0 113.7,99.5 115.7,100.1 117.7,100.6 119.6,101.2 121.6,101.7 123.6,102.2 125.6,102.6 127.6,103.0 129.6,103.6 131.6,104.5 133.6,105.4 135.6,106.3 137.6,107.1 139.5,108.0 141.5,108.9 143.5,109.7 145.5,110.5 147.5,111.4 149.5,112.2 151.5,113.1 153.5,113.9 155.5,114.0 157.5,113.7 159.4,113.4 161.4,113.1 163.4,112.9 165.4,112.6 167.4,112.4 169.4,112.4 171.4,112.7 173.4,113.0 175.4,113.3 177.4,113.6 179.3,113.9 181.3,114.2 183.3,114.5 185.3,114.8 187.3,115.0 189.3,115.2 191.3,115.5 193.3,115.7 195.3,115.9 197.3,116.1 199.2,116.3 201.2,116.2 203.2,116.1 205.2,115.9 207.2,115.8 209.2,115.7 211.2,115.6 213.2,115.5 215.2,115.4 217.2,115.3 219.1,115.2 221.1,115.1 223.1,114.9 225.1,114.8 227.1,114.7 229.1,114.5 231.1,114.3 233.1,114.1 235.1,113.8 237.1,113.6 239.0,113.3 241.0,113.1 243.0,112.8 245.0,112.9 247.0,113.0 249.0,113.2 251.0,113.3 253.0,113.4 255.0,113.5 257.0,113.6 258.9,113.7 260.9,113.9 262.9,114.1 264.9,114.3 266.9,114.5 268.9,114.7 270.9,114.9 272.9,115.1 274.9,115.3 276.9,115.4 278.8,115.5 280.8,115.5 282.8,115.6 284.8,115.6 286.8,115.7 288.8,115.7 290.8,115.8 292.8,115.8 294.8,115.9 296.8,115.9 298.7,116.0 300.7,115.9 302.7,115.6 304.7,115.4 306.7,115.1 308.7,114.8 310.7,114.5 312.7,114.3 314.7,114.0 316.7,113.7 318.6,113.5 320.6,113.5 322.6,114.0 324.6,114.5 326.6,115.0 328.6,115.6 330.6,116.1 332.6,116.6 334.6,117.1 336.6,117.5 338.5,117.8 340.5,118.1 342.5,118.4 344.5,118.7 346.5,118.9 348.5,119.2 350.5,119.1 352.5,117.8 354.5,116.4 356.5,115.1 358.4,113.7 360.4,112.4 362.4,111.0 364.4,109.9 366.4,109.8 368.4,109.8 370.4,109.7 372.4,109.6 374.4,109.5 376.4,109.4 378.3,109.3 380.3,109.1 382.3,108.2 384.3,107.3 386.3,106.4 388.3,105.5 390.3,104.7 392.3,104.0 394.3,103.3 396.3,102.6 398.2,102.0 400.2,101.4 402.2,101.6 404.2,101.9 406.2,102.1 408.2,102.3 410.2,102.6 412.2,102.8 414.2,103.0 416.2,103.3 418.1,103.5 420.1,103.7 422.1,104.0 424.1,104.2 426.1,104.4 428.1,104.6 430.1,104.9 432.1,105.1 434.1,105.3 436.1,105.6 438.0,105.8 440.0,106.0 442.0,106.2 444.0,106.5 446.0,106.7" fill="none" stroke="#8ab3bf" stroke-width="0.8"/>
<polyline points="50.0,88.0 52.0,88.4 54.0,88.7 56.0,89.1 58.0,89.4 59.9,89.8 61.9,90.1 63.9,90.5 65.9,90.9 67.9,91.5 69.9,92.0 71.9,92.6 73.9,93.1 75.9,93.6 77.9,94.2 79.8,94.6 81.8,95.0 83.8,95.3 85.8,95.7 87.8,96.1 89.8,97.1 91.8,98.2 93.8,99.2 95.8,98.8 97.8,98.4 99.7,98.1 101.7,97.9 103.7,98.3 105.7,98.7 107.7,99.0 109.7,99.5 111.7,100.1 113.7,100.7 115.7,101.3 117.7,101.8 119.6,102.2 121.6,102.7 123.6,103.2 125.6,103.6 127.6,104.0 129.6,104.7 131.6,105.6 133.6,106.6 135.6,107.5 137.6,108.5 139.5,109.4 141.5,110.2 143.5,111.1 145.5,112.0 147.5,112.8 149.5,113.7 151.5,114.5 153.5,115.4 155.5,115.5 157.5,115.3 159.4,115.0 161.4,114.8 163.4,114.6 165.4,114.3 167.4,114.0 169.4,114.0 171.4,114.3 173.4,114.7 175.4,115.0 177.4,115.3 179.3,115.6 181.3,116.0 183.3,116.3 185.3,116.6 187.3,116.8 189.3,117.1 191.3,117.3 193.3,117.5 195.3,117.8 197.3,118.0 199.2,118.2 201.2,118.1 203.2,118.0 205.2,117.9 207.2,117.8 209.2,117.7 211.2,117.6 213.2,117.5 215.2,117.4 217.2,117.4 219.1,117.3 221.1,117.2 223.1,117.1 225.1,117.0 227.1,116.9 229.1,116.7 231.1,116.4 233.1,116.1 235.1,115.8 237.1,115.5 239.0,115.2 241.0,114.9 243.0,114.6 245.0,114.8 247.0,114.9 249.0,115.0 251.0,115.1 253.0,115.2 255.0,115.3 257.0,115.4 258.9,115.5 260.9,115.7 262.9,115.9 264.9,116.1 266.9,116.3 268.9,116.5 270.9,116.7 272.9,116.9 274.9,117.1 276.9,117.2 278.8,117.2 280.8,117.3 282.8,117.4 284.8,117.5 286.8,117.5 288.8,117.6 290.8,117.7 292.8,117.8 294.8,117.8 296.8,117.9 298.7,118.0 300.7,117.9 302.7,117.7 304.7,117.4 306.7,117.2 308.7,116.9 310.7,116.6 312.7,116.4 314.7,116.1 316.7,115.9 318.6,115.6 320.6,115.6 322.6,116.0 324.6,116.5 326.6,116.9 328.6,117.4 330.6,117.9 332.6,118.3 334.6,118.8 336.6,119.1 338.5,119.4 340.5,119.7 342.5,120.0 344.5,120.3 346.5,120.5 348.5,120.8 350.5,120.7 352.5,119.3 354.5,117.9 356.5,116.5 358.4,115.2 360.4,113.9 362.4,112.6 364.4,111.5 366.4,111.4 368.4,111.4 370.4,111.3 372.4,111.2 374.4,111.1 376.4,111.0 378.3,110.9 380.3,110.7 382.3,109.7 384.3,108.8 386.3,107.8 388.3,106.9 390.3,106.0 392.3,105.2 394.3,104.5 396.3,103.7 398.2,103.0 400.2,102.4 402.2,102.6 404.2,102.9 406.2,103.2 408.2,103.4 410.2,103.7 412.2,104.0 414.2,104.2 416.2,104.5 418.1,104.8 420.1,105.0 422.1,105.3 424.1,105.5 426.1,105.8 428.1,106.0 430.1,106.2 432.1,106.5 434.1,106.7 436.1,106.9 438.0,107.2 440.0,107.4 442.0,107.6 444.0,107.9 446.0,108.1" fill="none" stroke="#c0dbe0" stroke-width="0.8"/>
<polyline points="50.0,89.9 52.0,90.2 54.0,90.5 56.0,90.8 58.0,91.2 59.9,91.5 61.9,91.8 63.9,92.2 65.9,92.6 67.9,93.1 69.9,93.7 71.9,94.2 73.9,94.7 75.9,95.2 77.9,95.7 79.8,96.2 81.8,96.5 83.8,96.8 85.8,97.1 87.8,97.5 89.8,98.7 91.8,99.9 93.8,101.1 95.8,100.5 97.8,99.9 99.7,99.3 101.7,99.0 103.7,99.4 105.7,99.8 107.7,100.2 109.7,100.7 111.7,101.3 113.7,101.9 115.7,102.4 117.7,102.9 119.6,103.3 121.6,103.8 123.6,104.2 125.6,104.6 127.6,105.0 129.6,105.8 131.6,106.8 133.6,107.8 135.6,108.8 137.6,109.8 139.5,110.8 141.5,111.6 143.5,112.5 145.5,113.4 147.5,114.3 149.5,115.1 151.5,116.0 153.5,116.9 155.5,117.0 157.5,116.8 159.4,116.7 161.4,116.5 163.4,116.2 165.4,116.0 167.4,115.7 169.4,115.6 171.4,116.0 173.4,116.3 175.4,116.7 177.4,117.0 179.3,117.4 181.3,117.7 183.3,118.1 185.3,118.4 187.3,118.7 189.3,118.9 191.3,119.1 193.3,119.4 195.3,119.6 197.3,119.9 199.2,120.1 201.2,120.0 203.2,119.9 205.2,119.9 207.2,119.8 209.2,119.7 211.2,119.6 213.2,119.6 215.2,119.5 217.2,119.4 219.1,119.4 221.1,119.3 223.1,119.2 225.1,119.1 227.1,119.1 229.1,118.8 231.1,118.5 233.1,118.2 235.1,117.8 237.1,117.5 239.0,117.1 241.0,116.8 243.0,116.5 245.0,116.6 247.0,116.7 249.0,116.8 251.0,116.9 253.0,117.0 255.0,117.1 257.0,117.2 258.9,117.3 260.9,117.5 262.9,117.7 264.9,117.9 266.9,118.0 268.9,118.2 270.9,118.4 272.9,118.6 274.9,118.8 276.9,118.9 278.8,119.0 280.8,119.1 282.8,119.2 284.8,119.3 286.8,119.4 288.8,119.5 290.8,119.6 292.8,119.7 294.8,119.8 296.8,119.9 298.7,120.0 300.7,120.0 302.7,119.7 304.7,119.5 306.7,119.2 308.7,119.0 310.7,118.7 312.7,118.5 314.7,118.2 316.7,118.0 318.6,117.7 320.6,117.7 322.6,118.1 324.6,118.5 326.6,118.8 328.6,119.2 330.6,119.6 332.6,120.0 334.6,120.4 336.6,120.7 338.5,121.0 340.5,121.3 342.5,121.6 344.5,121.9 346.5,122.1 348.5,122.4 350.5,122.3 352.5,120.9 354.5,119.4 356.5,118.0 358.4,116.6 360.4,115.4 362.4,114.1 364.4,113.1 366.4,113.1 368.4,113.0 370.4,112.9 372.4,112.8 374.4,112.7 376.4,112.6 378.3,112.5 380.3,112.3 382.3,111.3 384.3,110.3 386.3,109.3 388.3,108.3 390.3,107.3 392.3,106.5 394.3,105.7 396.3,104.9 398.2,104.0 400.2,103.4 402.2,103.7 404.2,104.0 406.2,104.3 408.2,104.6 410.2,104.9 412.2,105.2 414.2,105.5 416.2,105.8 418.1,106.0 420.1,106.3 422.1,106.6 424.1,106.8 426.1,107.1 428.1,107.3 430.1,107.6 432.1,107.8 434.1,108.1 436.1,108.3 438.0,108.5 440.0,108.8 442.0,109.0 444.0,109.3 446.0,109.5" fill="none" stroke="#8ab3bf" stroke-width="0.8"/>
<polyline points="50.0,96.3 52.0,96.8 54.0,97.4 56.0,97.9 58.0,98.5 59.9,99.0 61.9,99.6 63.9,100.1 65.9,100.7 67.9,101.2 69.9,101.8 71.9,102.3 73.9,102.8 75.9,103.4 77.9,103.9 79.8,104.5 81.8,105.0 83.8,105.6 85.8,106.1 87.8,106.7 89.8,107.2 91.8,107.8 93.8,108.3 95.8,108.8 97.8,109.4 99.7,109.9 101.7,110.5 103.7,111.0 105.7,111.6 107.7,112.1 109.7,112.7 111.7,113.2 113.7,113.7 115.7,114.3 117.7,114.8 119.6,115.4 121.6,116.1 123.6,116.8 125.6,117.5 127.6,118.3 129.6,119.1 131.6,119.8 133.6,120.6 135.6,121.4 137.6,122.2 139.5,122.9 141.5,124.5 143.5,126.1 145.5,127.6 147.5,129.2 149.5,130.8 151.5,132.4 153.5,134.0 155.5,134.0 157.5,133.3 159.4,132.6 161.4,131.9 163.4,131.5 165.4,131.0 167.4,130.7 169.4,131.3 171.4,131.9 173.4,132.5 175.4,133.1 177.4,134.8 179.3,137.1 181.3,139.4 183.3,141.8 185.3,143.9 187.3,145.0 189.3,146.2 191.3,147.4 193.3,148.5 195.3,149.7 197.3,150.8 199.2,151.9 201.2,152.2 203.2,152.4 205.2,152.7 207.2,153.0 209.2,153.3 211.2,153.5 213.2,153.8 215.2,154.1 217.2,154.4 219.1,154.6 221.1,154.9 223.1,155.2 225.1,155.4 227.1,155.7 229.1,155.2 231.1,154.1 233.1,153.0 235.1,151.9 237.1,150.8 239.0,149.6 241.0,149.5 243.0,150.2 245.0,150.4 247.0,150.6 249.0,150.8 251.0,151.1 253.0,151.3 255.0,151.5 257.0,151.7 258.9,151.9 260.9,152.3 262.9,153.0 264.9,153.7 266.9,154.4 268.9,155.1 270.9,155.8 272.9,156.5 274.9,157.3 276.9,158.2 278.8,159.2 280.8,160.1 282.8,161.1 284.8,162.0 286.8,163.0 288.8,164.0 290.8,164.9 292.8,165.7 294.8,166.0 296.8,166.4 298.7,166.8 300.7,167.1 302.7,167.0 304.7,167.0 306.7,167.0 308.7,166.9 310.7,166.9 312.7,166.9 314.7,166.9 316.7,166.8 318.6,166.7 320.6,166.4 322.6,166.0 324.6,165.7 326.6,165.4 328.6,165.0 330.6,164.7 332.6,164.4 334.6,164.1 336.6,163.3 338.5,162.0 340.5,160.7 342.5,159.4 344.5,158.1 346.5,156.9 348.5,155.2 350.5,152.4 352.5,149.7 354.5,146.9 356.5,139.1 358.4,131.5 360.4,130.7 362.4,129.9 364.4,129.3 366.4,129.3 368.4,129.4 370.4,129.4 372.4,129.5 374.4,129.5 376.4,129.6 378.3,129.6 380.3,129.7 382.3,130.1 384.3,130.5 386.3,130.9 388.3,131.3 390.3,131.6 392.3,130.9 394.3,130.3 396.3,129.6 398.2,128.9 400.2,128.4 402.2,128.9 404.2,129.3 406.2,129.7 408.2,130.2 410.2,130.6 412.2,131.1 414.2,131.5 416.2,131.9 418.1,132.4 420.1,132.8 422.1,133.2 424.1,133.7 426.1,134.1 428.1,134.5 430.1,134.9 432.1,135.3 434.1,135.8 436.1,136.2 438.0,136.6 440.0,137.0 442.0,137.4 444.0,137.9 446.0,138.3" fill="none" stroke="#c84a38" stroke-width="0.6" stroke-opacity="0.6"/>
<polyline points="50.0,96.6 52.0,97.2 54.0,97.7 56.0,98.3 58.0,98.8 59.9,99.4 61.9,99.9 63.9,100.5 65.9,101.0 67.9,101.6 69.9,102.1 71.9,102.7 73.9,103.2 75.9,103.8 77.9,104.3 79.8,104.9 81.8,105.4 83.8,106.0 85.8,106.5 87.8,107.1 89.8,107.6 91.8,108.2 93.8,108.7 95.8,109.3 97.8,109.8 99.7,110.4 101.7,110.9 103.7,111.5 105.7,112.0 107.7,112.6 109.7,113.1 111.7,113.7 113.7,114.2 115.7,114.8 117.7,115.3 119.6,115.9 121.6,116.5 123.6,117.2 125.6,117.8 127.6,118.6 129.6,119.4 131.6,120.2 133.6,121.0 135.6,121.8 137.6,122.6 139.5,123.4 141.5,124.9 143.5,126.5 145.5,128.1 147.5,129.7 149.5,131.2 151.5,132.8 153.5,134.4 155.5,134.4 157.5,133.8 159.4,133.1 161.4,132.4 163.4,132.0 165.4,131.6 167.4,131.3 169.4,131.9 171.4,132.5 173.4,133.2 175.4,133.8 177.4,135.9 179.3,138.6 181.3,141.4 183.3,144.1 185.3,146.6 187.3,147.8 189.3,149.0 191.3,150.2 193.3,151.4 195.3,152.6 197.3,153.9 199.2,155.0 201.2,155.2 203.2,155.4 205.2,155.7 207.2,155.9 209.2,156.2 211.2,156.4 213.2,156.7 215.2,156.9 217.2,157.1 219.1,157.4 221.1,157.6 223.1,157.9 225.1,158.1 227.1,158.4 229.1,158.0 231.1,157.1 233.1,156.1 235.1,155.2 237.1,154.3 239.0,153.4 241.0,153.0 243.0,153.1 245.0,153.3 247.0,153.6 249.0,153.8 251.0,154.0 253.0,154.2 255.0,154.4 257.0,154.7 258.9,154.9 260.9,155.3 262.9,156.1 264.9,156.8 266.9,157.6 268.9,158.3 270.9,159.1 272.9,159.8 274.9,160.5 276.9,161.6 278.8,162.7 280.8,163.8 282.8,164.9 284.8,166.0 286.8,167.1 288.8,168.2 290.8,169.3 292.8,170.1 294.8,170.4 296.8,170.7 298.7,171.0 300.7,171.2 302.7,171.2 304.7,171.3 306.7,171.3 308.7,171.4 310.7,171.4 312.7,171.5 314.7,171.5 316.7,171.6 318.6,171.5 320.6,171.0 322.6,170.6 324.6,170.2 326.6,169.8 328.6,169.3 330.6,168.9 332.6,168.5 334.6,168.1 336.6,167.1 338.5,165.3 340.5,163.5 342.5,161.8 344.5,160.0 346.5,158.2 348.5,156.1 350.5,153.1 352.5,150.1 354.5,147.1 356.5,139.3 358.4,131.6 360.4,130.8 362.4,130.0 364.4,129.4 366.4,129.4 368.4,129.5 370.4,129.5 372.4,129.6 374.4,129.7 376.4,129.7 378.3,129.8 380.3,129.9 382.3,130.2 384.3,130.6 386.3,131.0 388.3,131.4 390.3,131.6 392.3,131.0 394.3,130.3 396.3,129.7 398.2,129.0 400.2,128.5 402.2,128.9 404.2,129.4 406.2,129.8 408.2,130.2 410.2,130.7 412.2,131.1 414.2,131.6 416.2,132.0 418.1,132.5 420.1,132.9 422.1,133.3 424.1,133.7 426.1,134.2 428.1,134.6 430.1,135.0 432.1,135.4 434.1,135.9 436.1,136.3 438.0,136.7 440.0,137.1 442.0,137.5 444.0,138.0 446.0,138.4" fill="none" stroke="#c84a38" stroke-width="0.6" stroke-opacity="0.6"/>
<polyline points="50.0,96.8 52.0,97.4 54.0,98.0 56.0,98.5 58.0,99.1 59.9,99.6 61.9,100.2 63.9,100.7 65.9,101.3 67.9,101.8 69.9,102.4 71.9,103.0 73.9,103.5 75.9,104.1 77.9,104.6 79.8,105.2 81.8,105.7 83.8,106.3 85.8,106.8 87.8,107.4 89.8,107.9 91.8,108.5 93.8,109.1 95.8,109.6 97.8,110.2 99.7,110.7 101.7,111.3 103.7,111.8 105.7,112.4 107.7,112.9 109.7,113.5 111.7,114.0 113.7,114.6 115.7,115.2 117.7,115.7 119.6,116.3 121.6,116.8 123.6,117.4 125.6,118.1 127.6,118.9 129.6,119.7 131.6,120.5 133.6,121.3 135.6,122.1 137.6,122.9 139.5,123.8 141.5,125.3 143.5,126.9 145.5,128.5 147.5,130.0 149.5,131.6 151.5,133.2 153.5,134.8 155.5,134.8 157.5,134.1 159.4,133.4 161.4,132.8 163.4,132.4 165.4,132.0 167.4,131.8 169.4,132.4 171.4,133.1 173.4,133.8 175.4,134.4 177.4,136.7 179.3,139.8 181.3,142.9 183.3,146.0 185.3,148.8 187.3,150.1 189.3,151.4 191.3,152.6 193.3,153.9 195.3,155.1 197.3,156.4 199.2,157.5 201.2,157.7 203.2,157.9 205.2,158.2 207.2,158.4 209.2,158.6 211.2,158.8 213.2,159.0 215.2,159.3 217.2,159.5 219.1,159.7 221.1,159.9 223.1,160.1 225.1,160.4 227.1,160.6 229.1,160.3 231.1,159.5 233.1,158.7 235.1,158.0 237.1,157.2 239.0,156.5 241.0,155.9 243.0,155.5 245.0,155.8 247.0,156.0 249.0,156.2 251.0,156.5 253.0,156.7 255.0,156.9 257.0,157.1 258.9,157.4 260.9,157.9 262.9,158.6 264.9,159.4 266.9,160.2 268.9,161.0 270.9,161.7 272.9,162.5 274.9,163.3 276.9,164.5 278.8,165.7 280.8,166.9 282.8,168.1 284.8,169.4 286.8,170.6 288.8,171.8 290.8,173.0 292.8,173.8 294.8,174.0 296.8,174.2 298.7,174.4 300.7,174.6 302.7,174.7 304.7,174.8 306.7,175.0 308.7,175.1 310.7,175.2 312.7,175.3 314.7,175.4 316.7,175.5 318.6,175.4 320.6,174.9 322.6,174.4 324.6,173.9 326.6,173.4 328.6,172.9 330.6,172.4 332.6,171.9 334.6,171.4 336.6,170.4 338.5,168.1 340.5,165.9 342.5,163.7 344.5,161.5 346.5,159.2 348.5,156.8 350.5,153.6 352.5,150.4 354.5,147.3 356.5,139.4 358.4,131.7 360.4,130.9 362.4,130.1 364.4,129.5 366.4,129.5 368.4,129.6 370.4,129.6 372.4,129.7 374.4,129.8 376.4,129.8 378.3,129.9 380.3,130.0 382.3,130.4 384.3,130.7 386.3,131.1 388.3,131.5 390.3,131.7 392.3,131.0 394.3,130.4 396.3,129.7 398.2,129.1 400.2,128.5 402.2,129.0 404.2,129.4 406.2,129.9 408.2,130.3 410.2,130.8 412.2,131.2 414.2,131.6 416.2,132.1 418.1,132.5 420.1,133.0 422.1,133.4 424.1,133.8 426.1,134.2 428.1,134.7 430.1,135.1 432.1,135.5 434.1,135.9 436.1,136.4 438.0,136.8 440.0,137.2 442.0,137.6 444.0,138.0 446.0,138.5" fill="none" stroke="#c84a38" stroke-width="0.6" stroke-opacity="0.6"/>
<polyline points="50.0,91.9 64.6,94.1 71.9,96.2 79.2,98.4 83.6,102.8 85.0,108.7 88.0,113.0 93.8,116.0 98.2,118.1 101.1,113.0 104.0,107.2 106.9,108.7 111.3,113.0 114.2,121.8 117.2,133.5 120.0,134.9 123.0,128.4 126.0,132.0 128.5,129.5 131.0,136.0 139.6,138.7 145.4,143.0 149.7,153.2 152.7,163.4 154.8,167.0 157.7,163.4 162.8,151.8 167.2,144.5 171.6,148.9 176.0,156.1 180.3,163.4 183.6,167.3 191.0,173.7 198.2,181.0 207.4,186.5 216.5,191.0 222.0,193.8 229.3,192.0 234.7,189.2 242.0,186.5 247.5,185.6 253.0,188.3 258.5,186.5 263.9,191.0 271.2,192.9 276.0,194.0 280.0,199.0 283.0,213.0 286.0,224.0 289.0,228.2 294.6,225.3 301.9,222.3 309.2,220.9 316.5,215.8 323.8,211.4 331.1,205.5 335.5,199.0 339.9,193.1 344.0,187.0 348.5,183.0 351.0,178.0 357.5,162.2 363.2,142.5 366.5,133.8 367.2,132.0 368.7,133.8 373.2,144.7 378.7,152.0 386.0,146.6 390.0,143.5 396.0,140.0 400.0,138.5 405.0,140.0 408.0,142.5 417.4,150.0 422.5,144.0 428.0,137.0 437.0,140.0 446.2,144.7" fill="none" stroke="#c8c8c8" stroke-width="4.4"/>
<polyline points="50.0,90.8 64.6,93.0 71.9,95.1 79.2,97.3 83.6,101.7 85.0,107.6 88.0,111.9 93.8,114.9 98.2,117.0 101.1,111.9 104.0,106.1 106.9,107.6 111.3,111.9 114.2,120.7 117.2,132.4 120.0,133.8 123.0,127.3 126.0,130.9 128.5,128.4 131.0,134.9 139.6,137.6 145.4,141.9 149.7,152.1 152.7,162.3 154.8,165.9 157.7,162.3 162.8,150.7 167.2,143.4 171.6,147.8 176.0,155.0 180.3,162.3 183.6,166.2 191.0,172.6 198.2,179.9 207.4,185.4 216.5,189.9 222.0,192.7 229.3,190.9 234.7,188.1 242.0,185.4 247.5,184.5 253.0,187.2 258.5,185.4 263.9,189.9 271.2,191.8 276.0,192.9 280.0,197.9 283.0,211.9 286.0,222.9 289.0,227.1 294.6,224.2 301.9,221.2 309.2,219.8 316.5,214.7 323.8,210.3 331.1,204.4 335.5,197.9 339.9,192.0 344.0,185.9 348.5,181.9 351.0,176.9 357.5,161.1 363.2,141.4 366.5,132.7 367.2,130.9 368.7,132.7 373.2,143.6 378.7,150.9 386.0,145.5 390.0,142.4 396.0,138.9 400.0,137.4 405.0,138.9 408.0,141.4 417.4,148.9 422.5,142.9 428.0,135.9 437.0,138.9 446.2,143.6" fill="none" stroke="#9a9a9a" stroke-width="0.6" stroke-dasharray="0.8,0.8"/>
</g>
<polyline points="50.0,37.4 100.0,37.2 150.0,37.0 185.0,36.6 240.0,36.0 260.0,35.5 300.0,35.5 350.0,35.0 380.0,34.5 390.0,33.0 396.0,31.5 402.0,31.8 410.0,34.0 446.0,35.0" fill="none" stroke="#9a9070" stroke-width="0.9"/>
<clipPath id="clipD"><polygon points="56.0,335.0 100.0,335.0 137.0,334.0 150.0,332.8 176.0,332.5 250.0,332.0 270.0,333.0 300.0,332.5 340.0,333.6 370.0,332.6 382.7,331.4 395.4,330.7 408.2,328.8 420.9,330.1 426.0,329.5 433.0,330.7 433.0,378.4 433.0,378.4 420.9,377.8 408.2,377.2 395.4,381.0 389.1,384.8 382.7,386.1 370.0,389.9 366.0,391.9 361.0,399.2 357.3,406.5 352.9,409.4 348.6,403.6 344.9,396.3 342.7,397.7 340.0,404.5 335.0,406.9 328.0,408.4 320.0,411.3 313.4,411.3 306.1,412.0 298.8,414.2 293.0,418.6 288.6,415.7 279.8,414.5 274.0,414.2 269.6,421.5 267.0,423.0 263.7,430.0 256.1,437.7 249.7,444.0 244.6,451.7 240.8,460.7 236.9,468.3 230.5,473.4 225.4,478.5 220.3,484.9 216.0,495.5 211.6,503.1 207.2,509.7 201.8,517.4 198.0,520.5 195.2,521.2 191.9,518.5 186.4,509.7 182.3,500.5 178.6,491.4 175.0,473.2 171.8,455.0 170.5,440.0 168.8,427.9 167.2,411.4 163.9,408.1 161.7,417.0 160.0,430.0 157.9,436.6 152.4,439.9 146.9,436.6 144.7,431.1 142.5,425.7 140.7,431.0 139.1,446.5 136.0,462.0 131.4,471.4 125.1,476.0 117.4,476.0 106.5,472.9 100.3,469.8 97.2,463.6 94.1,452.7 91.0,445.0 89.6,443.4 86.7,436.1 82.3,428.8 77.9,424.4 70.6,422.2 56.0,422.2"/></clipPath>
<g clip-path="url(#clipD)">
<rect x="55" y="318.8" width="379" height="300" fill="#86b8a9"/>
<rect x="55" y="318.8" width="379" height="300" fill="url(#dots)"/>
<polygon points="55.0,318.8 434.0,318.8 434.0,500.0 433.0,500.0 270.0,500.0 269.0,414.0 265.7,418.5 258.6,432.6 251.0,440.2 245.9,447.9 240.8,458.1 236.9,464.5 230.5,469.6 224.2,476.0 217.8,483.6 211.4,491.3 207.6,496.4 202.9,498.8 196.3,505.3 191.4,500.5 186.8,491.4 180.9,473.2 175.9,455.0 173.5,440.0 171.0,428.0 168.5,414.0 167.5,500.0 160.5,500.0 159.5,428.0 157.9,433.0 152.4,436.0 146.0,433.0 144.7,500.0 139.0,500.0 138.0,448.0 136.0,457.5 131.4,466.0 125.1,470.0 117.4,469.8 100.0,464.0 95.0,458.0 93.0,500.0 56.0,500.0 55.0,500.0" fill="#d64b3d"/>
<polygon points="55.0,318.8 434.0,318.8 434.0,420.0 433.0,420.0 364.0,420.0 362.0,396.0 350.0,403.5 340.0,400.5 320.0,404.0 300.0,404.0 280.0,410.5 255.0,413.0 253.0,426.0 240.0,450.0 220.0,470.0 205.0,476.0 190.0,470.0 180.0,458.0 172.0,434.0 168.0,416.0 163.9,408.5 157.9,421.5 152.4,426.0 146.9,428.0 141.6,427.0 140.0,444.0 137.0,455.0 130.0,461.0 117.4,460.4 100.0,453.8 92.0,445.0 88.0,442.0 56.0,424.0 55.0,424.0" fill="#d4654f"/>
<polygon points="55.0,318.8 434.0,318.8 434.0,420.0 433.0,420.0 364.0,420.0 362.0,396.0 350.0,403.0 340.0,400.0 320.0,403.0 300.0,403.0 280.0,409.0 255.0,411.0 253.0,418.0 240.0,435.0 222.0,452.0 205.0,460.0 190.0,455.0 180.0,445.0 172.0,430.0 168.0,414.0 163.9,408.0 157.9,421.5 152.4,426.0 146.9,428.0 141.6,426.0 140.0,443.0 137.0,454.0 130.0,460.5 117.4,459.7 100.0,453.5 92.0,444.5 88.0,441.0 56.0,424.0 55.0,424.0" fill="#da8c7a"/>
<polygon points="55.0,318.8 434.0,318.8 434.0,420.0 433.0,420.0 364.0,420.0 362.0,396.0 357.3,399.0 350.0,402.0 344.2,395.0 340.0,399.0 320.0,402.0 300.0,402.0 280.0,405.4 255.0,405.4 244.0,418.8 235.0,425.0 224.0,431.3 218.0,436.4 205.0,443.0 190.0,440.0 180.0,434.0 172.0,425.0 168.0,412.0 163.9,407.0 160.5,418.0 157.9,421.3 152.4,425.7 146.9,427.9 141.6,425.0 139.5,440.0 137.0,451.0 130.0,457.0 117.4,458.2 100.0,452.4 92.0,443.6 88.0,440.0 85.0,430.0 78.0,424.0 56.0,423.0 55.0,423.0" fill="#812b8c"/>
<polygon points="55.0,318.8 434.0,318.8 434.0,420.0 433.0,420.0 431.1,420.0 429.2,420.0 427.3,420.0 425.4,420.0 423.5,420.0 421.6,420.0 419.7,420.0 417.8,420.0 415.9,420.0 414.1,420.0 412.2,420.0 410.3,420.0 408.4,420.0 406.5,420.0 404.6,420.0 402.7,420.0 400.8,420.0 398.9,420.0 397.0,420.0 395.1,420.0 393.2,420.0 391.3,420.0 389.4,420.0 387.5,420.0 385.6,420.0 383.7,420.0 381.8,420.0 380.0,420.0 378.1,420.0 376.2,420.0 374.3,420.0 372.4,420.0 370.5,420.0 368.6,420.0 366.7,420.0 364.8,420.0 362.9,405.8 361.0,394.8 359.1,396.2 357.2,397.7 355.3,398.5 353.4,399.2 351.5,400.0 349.6,400.3 347.7,398.2 345.9,396.1 344.0,394.5 342.1,396.3 340.2,398.0 338.3,398.4 336.4,398.7 334.5,399.0 332.6,399.3 330.7,399.6 328.8,399.9 326.9,400.2 325.0,400.5 323.1,400.8 321.2,401.1 319.3,401.3 317.4,401.2 315.5,401.1 313.6,401.0 311.8,400.9 309.9,400.9 308.0,400.8 306.1,400.7 304.2,400.6 302.3,400.5 300.4,400.4 298.5,400.4 296.6,400.5 294.7,400.6 292.8,400.6 290.9,400.7 289.0,400.8 287.1,400.8 285.2,400.9 283.3,400.9 281.4,401.0 279.5,401.0 277.7,401.0 275.8,401.0 273.9,401.0 272.0,401.0 270.1,400.9 268.2,400.9 266.3,400.8 264.4,400.6 262.5,400.4 260.6,400.2 258.7,400.0 256.8,399.8 254.9,399.7 253.0,401.6 251.1,403.5 249.2,405.4 247.3,407.3 245.4,409.2 243.6,411.0 241.7,412.6 239.8,414.2 237.9,415.8 236.0,417.4 234.1,418.7 232.2,419.7 230.3,420.6 228.4,421.5 226.5,422.5 224.6,423.4 222.7,424.5 220.8,425.6 218.9,426.7 217.0,427.7 215.1,428.3 213.2,428.7 211.3,429.1 209.5,429.6 207.6,430.0 205.7,430.5 203.8,430.6 201.9,430.6 200.0,430.6 198.1,430.6 196.2,429.6 194.3,428.6 192.4,427.6 190.5,426.7 188.6,425.5 186.7,424.3 184.8,423.1 182.9,421.8 181.0,420.6 179.1,419.0 177.2,417.1 175.4,415.2 173.5,413.2 171.6,411.0 169.7,407.7 167.8,404.7 165.9,403.2 164.0,401.6 162.1,403.7 160.2,407.3 158.3,409.9 156.4,412.4 154.5,414.8 152.6,417.3 150.7,417.9 148.8,418.4 146.9,419.0 145.0,419.0 143.1,419.0 141.3,420.6 139.4,429.3 137.5,435.3 135.6,439.0 133.7,441.1 131.8,443.1 129.9,443.8 128.0,444.1 126.1,444.3 124.2,444.6 122.3,444.9 120.4,445.1 118.5,445.4 116.6,445.3 114.7,444.8 112.8,444.3 110.9,443.7 109.0,443.2 107.2,442.7 105.3,442.1 103.4,441.6 101.5,441.1 99.6,440.4 97.7,439.3 95.8,438.1 93.9,437.0 92.0,435.8 90.1,434.0 88.2,432.2 86.3,429.0 84.4,426.6 82.5,425.3 80.6,424.1 78.7,422.8 76.8,422.3 74.9,422.1 73.1,422.0 71.2,421.9 69.3,421.9 67.4,421.8 65.5,421.8 63.6,421.8 61.7,421.7 59.8,421.7 57.9,421.7 56.0,421.7 55.0,421.7" fill="#9c58a0"/>
<polygon points="55.0,318.8 434.0,318.8 434.0,420.0 433.0,420.0 364.0,420.0 362.0,393.0 357.3,397.0 350.0,400.0 344.2,394.0 340.0,397.7 320.0,401.0 300.0,399.6 280.0,398.9 267.6,398.7 255.0,396.7 234.7,415.1 216.5,423.4 198.2,425.2 180.0,413.0 168.2,401.5 162.8,398.2 157.3,406.0 152.4,413.6 150.0,413.8 146.0,414.9 141.6,416.0 139.0,425.0 136.0,432.0 131.8,437.0 117.4,439.3 100.0,434.9 92.0,432.0 86.0,426.0 78.0,421.5 70.6,421.0 56.0,421.0 55.0,421.0" fill="#3a98b8"/>
<polygon points="55.0,318.8 434.0,318.8 434.0,370.1 433.0,370.1 420.9,371.4 408.2,373.3 395.4,378.4 382.7,380.9 370.0,383.5 366.0,387.5 357.3,394.5 350.0,397.5 344.2,392.0 340.0,395.5 320.0,399.2 300.0,397.8 280.0,395.9 267.6,395.9 255.0,394.1 234.7,411.5 216.5,418.8 198.2,420.1 180.0,408.0 168.2,397.6 162.8,394.9 157.3,401.6 152.4,408.3 150.0,408.4 147.1,408.7 146.0,409.1 141.6,410.6 139.0,418.3 137.3,422.5 136.0,424.9 131.8,430.3 117.4,432.7 117.0,432.7 100.0,428.4 92.0,425.4 86.0,421.3 78.0,417.5 70.6,416.7 56.0,415.8 55.0,415.8" fill="#6cb8c6"/>
<polygon points="55.0,318.8 434.0,318.8 434.0,367.6 433.0,367.6 420.9,368.9 408.2,370.8 395.4,375.9 382.7,378.4 370.0,381.0 366.0,385.0 357.3,392.0 350.0,395.0 344.2,390.0 340.0,393.4 320.0,397.4 300.0,396.0 280.0,393.0 267.6,393.0 255.0,391.6 234.7,407.8 216.5,414.2 198.2,415.1 180.0,403.0 168.2,393.8 162.8,391.7 157.3,397.1 152.4,403.0 147.1,402.9 141.6,405.1 137.3,416.0 131.8,423.6 117.0,426.2 100.0,421.8 92.0,418.9 78.0,413.5 56.0,410.5 55.0,410.5" fill="#a6c9d0"/>
<polygon points="55.0,318.8 434.0,318.8 434.0,365.1 433.0,365.1 420.9,366.3 408.2,368.3 395.4,372.1 389.1,375.3 382.7,375.9 370.0,378.4 366.0,380.2 357.3,386.1 350.0,390.4 344.2,386.1 339.8,389.0 320.0,393.0 300.0,391.6 280.0,388.6 267.6,388.7 255.0,387.2 234.7,400.5 216.5,405.1 198.2,406.0 180.0,396.0 173.7,390.6 166.0,384.0 162.8,382.0 157.3,390.0 151.8,396.0 146.0,395.3 141.6,396.4 139.4,401.8 136.2,409.4 131.8,413.8 126.4,416.0 117.0,416.0 100.0,410.9 92.0,407.3 78.0,402.5 56.0,399.6 55.0,399.6" fill="#84ba48"/>
<polygon points="55.0,318.8 434.0,318.8 434.0,336.9 433.0,336.9 431.1,336.8 429.2,336.6 427.3,336.5 425.4,336.5 423.5,336.8 421.6,337.2 419.7,337.3 417.8,337.3 415.9,337.3 414.1,337.3 412.2,337.3 410.3,337.4 408.4,337.4 406.5,337.8 404.6,338.3 402.7,338.7 400.8,339.2 398.9,339.6 397.0,340.1 395.1,340.6 393.2,341.0 391.3,341.4 389.4,341.9 387.5,342.2 385.6,342.4 383.7,342.7 381.8,342.9 380.0,343.3 378.1,343.6 376.2,344.0 374.3,344.3 372.4,344.7 370.5,345.0 368.6,345.4 366.7,345.8 364.8,346.2 362.9,346.8 361.0,347.3 359.1,347.8 357.2,348.3 355.3,348.8 353.4,349.3 351.5,349.9 349.6,350.2 347.7,350.0 345.9,349.7 344.0,349.6 342.1,350.1 340.2,350.7 338.3,350.9 336.4,351.0 334.5,351.2 332.6,351.3 330.7,351.4 328.8,351.6 326.9,351.7 325.0,351.9 323.1,352.0 321.2,352.1 319.3,352.2 317.4,352.2 315.5,352.2 313.6,352.2 311.8,352.1 309.9,352.1 308.0,352.1 306.1,352.1 304.2,352.1 302.3,352.0 300.4,352.0 298.5,352.3 296.6,352.7 294.7,353.0 292.8,353.4 290.9,353.7 289.0,354.1 287.1,354.4 285.2,354.8 283.3,355.1 281.4,355.4 279.5,355.8 277.7,356.3 275.8,356.7 273.9,357.1 272.0,357.6 270.1,358.0 268.2,358.4 266.3,358.7 264.4,359.0 262.5,359.2 260.6,359.5 258.7,359.6 256.8,359.6 254.9,359.7 253.0,360.5 251.1,361.2 249.2,362.1 247.3,362.9 245.4,363.8 243.6,364.6 241.7,365.5 239.8,366.4 237.9,367.2 236.0,368.0 234.1,368.6 232.2,368.9 230.3,369.3 228.4,369.6 226.5,370.0 224.6,370.3 222.7,370.7 220.8,371.0 218.9,371.4 217.0,371.7 215.1,371.9 213.2,372.1 211.3,372.2 209.5,372.4 207.6,372.5 205.7,372.6 203.8,372.7 201.9,372.7 200.0,372.8 198.1,372.8 196.2,372.3 194.3,371.7 192.4,371.1 190.5,370.6 188.6,370.0 186.7,369.4 184.8,368.7 182.9,366.9 181.0,365.2 179.1,363.3 177.2,361.4 175.4,359.5 173.5,357.8 171.6,356.2 169.7,354.7 167.8,353.2 165.9,351.7 164.0,350.5 162.1,349.8 160.2,351.4 158.3,353.1 156.4,354.7 154.5,356.3 152.6,357.9 150.7,359.0 148.8,359.5 146.9,359.9 145.0,360.5 143.1,361.2 141.3,362.3 139.4,364.9 137.5,367.6 135.6,369.8 133.7,371.2 131.8,372.7 129.9,373.6 128.0,374.0 126.1,374.3 124.2,374.4 122.3,374.4 120.4,374.4 118.5,374.4 116.6,374.4 114.7,374.2 112.8,373.9 110.9,373.6 109.0,373.4 107.2,373.1 105.3,372.9 103.4,372.6 101.5,372.4 99.6,372.1 97.7,371.7 95.8,371.3 93.9,370.8 92.0,370.4 90.1,370.1 88.2,369.8 86.3,369.5 84.4,369.2 82.5,368.8 80.6,368.5 78.7,368.2 76.8,368.0 74.9,367.9 73.1,367.8 71.2,367.6 69.3,367.5 67.4,367.4 65.5,367.3 63.6,367.1 61.7,367.0 59.8,366.9 57.9,366.8 56.0,366.7 55.0,366.7" fill="#95bc46"/>
<polygon points="55.0,318.8 434.0,318.8 434.0,331.5 433.0,331.5 426.0,330.3 420.9,330.9 408.2,329.6 395.4,331.5 382.7,332.2 370.0,333.4 340.0,334.4 300.0,333.3 270.0,333.8 250.0,332.8 243.0,333.5 220.0,337.6 195.0,338.0 176.0,333.5 150.0,333.3 137.0,335.0 121.0,342.0 104.0,344.0 88.0,343.2 56.0,340.0 55.0,340.0" fill="#d8a064"/>
<polygon points="55.0,318.8 434.0,318.8 434.0,320.0 433.0,320.0 252.0,320.0 250.0,332.0 243.0,333.0 220.0,336.6 195.0,337.0 176.0,332.8 150.0,332.5 137.0,334.3 121.0,340.0 104.0,341.6 88.0,340.8 56.0,338.3 55.0,338.3" fill="#e2e020"/>
<polyline points="56.0,367.3 57.9,367.4 59.8,367.5 61.7,367.6 63.6,367.8 65.5,367.9 67.4,368.0 69.3,368.1 71.2,368.3 73.1,368.4 74.9,368.5 76.8,368.6 78.7,368.8 80.6,369.2 82.5,369.5 84.4,369.8 86.3,370.1 88.2,370.5 90.1,370.8 92.0,371.1 93.9,371.5 95.8,372.0 97.7,372.4 99.6,372.8 101.5,373.1 103.4,373.4 105.3,373.6 107.2,373.9 109.0,374.2 110.9,374.4 112.8,374.7 114.7,374.9 116.6,375.2 118.5,375.2 120.4,375.2 122.3,375.2 124.2,375.1 126.1,375.1 128.0,374.8 129.9,374.4 131.8,373.5 133.7,372.0 135.6,370.6 137.5,368.3 139.4,365.6 141.3,363.0 143.1,361.9 145.0,361.2 146.9,360.6 148.8,360.2 150.7,359.7 152.6,358.6 154.5,357.0 156.4,355.4 158.3,353.7 160.2,352.0 162.1,350.5 164.0,351.1 165.9,352.4 167.8,353.8 169.7,355.3 171.6,356.8 173.5,358.4 175.4,360.1 177.2,362.0 179.1,363.9 181.0,365.8 182.9,367.5 184.8,369.3 186.7,370.0 188.6,370.6 190.5,371.1 192.4,371.7 194.3,372.3 196.2,372.9 198.1,373.4 200.0,373.4 201.9,373.4 203.8,373.3 205.7,373.2 207.6,373.1 209.5,373.0 211.3,372.8 213.2,372.7 215.1,372.6 217.0,372.4 218.9,372.0 220.8,371.6 222.7,371.3 224.6,370.9 226.5,370.6 228.4,370.2 230.3,369.9 232.2,369.6 234.1,369.2 236.0,368.6 237.9,367.8 239.8,366.9 241.7,366.1 243.6,365.2 245.4,364.3 247.3,363.5 249.2,362.6 251.1,361.8 253.0,361.0 254.9,360.2 256.8,360.2 258.7,360.1 260.6,360.0 262.5,359.8 264.4,359.5 266.3,359.3 268.2,359.0 270.1,358.6 272.0,358.2 273.9,357.7 275.8,357.3 277.7,356.9 279.5,356.4 281.4,356.1 283.3,355.8 285.2,355.4 287.1,355.1 289.0,354.8 290.9,354.4 292.8,354.1 294.7,353.8 296.6,353.4 298.5,353.0 300.4,352.8 302.3,352.8 304.2,352.8 306.1,352.8 308.0,352.9 309.9,352.9 311.8,352.9 313.6,352.9 315.5,353.0 317.4,353.0 319.3,353.0 321.2,352.9 323.1,352.8 325.0,352.6 326.9,352.5 328.8,352.3 330.7,352.2 332.6,352.0 334.5,351.9 336.4,351.8 338.3,351.6 340.2,351.4 342.1,350.8 344.0,350.3 345.9,350.4 347.7,350.7 349.6,351.0 351.5,350.6 353.4,350.1 355.3,349.6 357.2,349.1 359.1,348.5 361.0,348.0 362.9,347.4 364.8,346.9 366.7,346.4 368.6,346.0 370.5,345.6 372.4,345.3 374.3,345.0 376.2,344.6 378.1,344.3 380.0,343.9 381.8,343.6 383.7,343.3 385.6,343.0 387.5,342.8 389.4,342.5 391.3,342.1 393.2,341.6 395.1,341.2 397.0,340.7 398.9,340.2 400.8,339.8 402.7,339.3 404.6,338.9 406.5,338.4 408.4,338.0 410.3,338.0 412.2,337.9 414.1,337.9 415.9,337.9 417.8,337.9 419.7,337.8 421.6,337.7 423.5,337.4 425.4,337.1 427.3,337.1 429.2,337.2 431.1,337.3 433.0,337.4" fill="none" stroke="#4e8a2c" stroke-width="1.4" stroke-opacity="0.65"/>
<polyline points="56.0,370.4 57.9,370.5 59.8,370.6 61.7,370.8 63.6,370.9 65.5,371.1 67.4,371.2 69.3,371.3 71.2,371.5 73.1,371.6 74.9,371.7 76.8,371.9 78.7,372.1 80.6,372.5 82.5,372.8 84.4,373.2 86.3,373.5 88.2,373.9 90.1,374.2 92.0,374.6 93.9,375.1 95.8,375.5 97.7,376.0 99.6,376.5 101.5,376.8 103.4,377.1 105.3,377.4 107.2,377.7 109.0,377.9 110.9,378.2 112.8,378.5 114.7,378.8 116.6,379.1 118.5,379.1 120.4,379.1 122.3,379.1 124.2,379.1 126.1,379.0 128.0,378.7 129.9,378.2 131.8,377.3 133.7,375.8 135.6,374.3 137.5,372.0 139.4,369.1 141.3,366.3 143.1,365.2 145.0,364.5 146.9,364.0 148.8,363.6 150.7,363.2 152.6,362.1 154.5,360.5 156.4,358.8 158.3,357.1 160.2,355.3 162.1,353.6 164.0,354.2 165.9,355.4 167.8,356.9 169.7,358.4 171.6,359.9 173.5,361.5 175.4,363.2 177.2,365.0 179.1,366.9 181.0,368.7 182.9,370.4 184.8,372.1 186.7,372.8 188.6,373.4 190.5,374.1 192.4,374.7 194.3,375.3 196.2,375.9 198.1,376.5 200.0,376.5 201.9,376.5 203.8,376.4 205.7,376.3 207.6,376.2 209.5,376.1 211.3,375.9 213.2,375.8 215.1,375.7 217.0,375.5 218.9,375.1 220.8,374.7 222.7,374.4 224.6,374.0 226.5,373.6 228.4,373.3 230.3,372.9 232.2,372.6 234.1,372.2 236.0,371.5 237.9,370.8 239.8,369.8 241.7,368.9 243.6,368.0 245.4,367.1 247.3,366.2 249.2,365.3 251.1,364.5 253.0,363.6 254.9,362.8 256.8,362.8 258.7,362.8 260.6,362.7 262.5,362.5 264.4,362.3 266.3,362.1 268.2,361.9 270.1,361.5 272.0,361.1 273.9,360.7 275.8,360.3 277.7,359.9 279.5,359.5 281.4,359.3 283.3,359.0 285.2,358.7 287.1,358.5 289.0,358.2 290.9,357.9 292.8,357.6 294.7,357.4 296.6,357.1 298.5,356.8 300.4,356.5 302.3,356.6 304.2,356.6 306.1,356.7 308.0,356.7 309.9,356.7 311.8,356.8 313.6,356.8 315.5,356.8 317.4,356.9 319.3,356.9 321.2,356.8 323.1,356.6 325.0,356.5 326.9,356.3 328.8,356.1 330.7,356.0 332.6,355.8 334.5,355.6 336.4,355.5 338.3,355.3 340.2,355.1 342.1,354.4 344.0,353.8 345.9,354.0 347.7,354.4 349.6,354.8 351.5,354.4 353.4,353.8 355.3,353.3 357.2,352.7 359.1,352.1 361.0,351.5 362.9,350.8 364.8,350.2 366.7,349.7 368.6,349.2 370.5,348.8 372.4,348.5 374.3,348.1 376.2,347.8 378.1,347.5 380.0,347.1 381.8,346.8 383.7,346.5 385.6,346.2 387.5,346.0 389.4,345.7 391.3,345.2 393.2,344.7 395.1,344.2 397.0,343.7 398.9,343.3 400.8,342.8 402.7,342.3 404.6,341.9 406.5,341.4 408.4,341.0 410.3,340.9 412.2,340.8 414.1,340.8 415.9,340.7 417.8,340.7 419.7,340.7 421.6,340.5 423.5,340.2 425.4,339.9 427.3,339.9 429.2,340.0 431.1,340.1 433.0,340.2" fill="none" stroke="#4e8a2c" stroke-width="1.4" stroke-opacity="0.65"/>
<polyline points="56.0,373.5 57.9,373.6 59.8,373.8 61.7,373.9 63.6,374.1 65.5,374.2 67.4,374.4 69.3,374.5 71.2,374.7 73.1,374.8 74.9,375.0 76.8,375.1 78.7,375.4 80.6,375.7 82.5,376.1 84.4,376.5 86.3,376.9 88.2,377.3 90.1,377.7 92.0,378.1 93.9,378.6 95.8,379.1 97.7,379.6 99.6,380.1 101.5,380.5 103.4,380.8 105.3,381.1 107.2,381.4 109.0,381.7 110.9,382.0 112.8,382.4 114.7,382.7 116.6,383.0 118.5,383.0 120.4,383.0 122.3,383.0 124.2,383.0 126.1,383.0 128.0,382.6 129.9,382.1 131.8,381.2 133.7,379.7 135.6,378.1 137.5,375.6 139.4,372.6 141.3,369.6 143.1,368.5 145.0,367.8 146.9,367.3 148.8,367.0 150.7,366.7 152.6,365.6 154.5,364.0 156.4,362.3 158.3,360.5 160.2,358.6 162.1,356.8 164.0,357.3 165.9,358.5 167.8,359.9 169.7,361.5 171.6,363.0 173.5,364.6 175.4,366.3 177.2,368.1 179.1,369.9 181.0,371.7 182.9,373.3 184.8,374.9 186.7,375.6 188.6,376.3 190.5,377.0 192.4,377.6 194.3,378.3 196.2,379.0 198.1,379.6 200.0,379.6 201.9,379.5 203.8,379.5 205.7,379.4 207.6,379.3 209.5,379.2 211.3,379.0 213.2,378.9 215.1,378.8 217.0,378.6 218.9,378.2 220.8,377.8 222.7,377.4 224.6,377.1 226.5,376.7 228.4,376.3 230.3,375.9 232.2,375.6 234.1,375.2 236.0,374.5 237.9,373.7 239.8,372.7 241.7,371.8 243.6,370.8 245.4,369.9 247.3,369.0 249.2,368.0 251.1,367.1 253.0,366.3 254.9,365.4 256.8,365.4 258.7,365.4 260.6,365.4 262.5,365.2 264.4,365.1 266.3,364.9 268.2,364.7 270.1,364.4 272.0,364.1 273.9,363.7 275.8,363.4 277.7,363.0 279.5,362.7 281.4,362.4 283.3,362.2 285.2,362.0 287.1,361.8 289.0,361.6 290.9,361.4 292.8,361.2 294.7,361.0 296.6,360.7 298.5,360.5 300.4,360.3 302.3,360.4 304.2,360.4 306.1,360.5 308.0,360.5 309.9,360.6 311.8,360.6 313.6,360.7 315.5,360.7 317.4,360.7 319.3,360.8 321.2,360.7 323.1,360.5 325.0,360.3 326.9,360.1 328.8,359.9 330.7,359.7 332.6,359.5 334.5,359.3 336.4,359.2 338.3,359.0 340.2,358.7 342.1,358.0 344.0,357.3 345.9,357.6 347.7,358.1 349.6,358.6 351.5,358.2 353.4,357.6 355.3,356.9 357.2,356.3 359.1,355.6 361.0,354.9 362.9,354.2 364.8,353.6 366.7,353.0 368.6,352.5 370.5,352.0 372.4,351.7 374.3,351.3 376.2,351.0 378.1,350.6 380.0,350.3 381.8,349.9 383.7,349.7 385.6,349.4 387.5,349.2 389.4,348.9 391.3,348.3 393.2,347.8 395.1,347.3 397.0,346.8 398.9,346.3 400.8,345.8 402.7,345.3 404.6,344.8 406.5,344.4 408.4,343.9 410.3,343.8 412.2,343.8 414.1,343.7 415.9,343.6 417.8,343.5 419.7,343.5 421.6,343.3 423.5,343.0 425.4,342.7 427.3,342.7 429.2,342.7 431.1,342.8 433.0,342.9" fill="none" stroke="#4e8a2c" stroke-width="1.3" stroke-opacity="0.6"/>
<polyline points="56.0,376.6 57.9,376.7 59.8,376.9 61.7,377.1 63.6,377.2 65.5,377.4 67.4,377.5 69.3,377.7 71.2,377.9 73.1,378.0 74.9,378.2 76.8,378.3 78.7,378.6 80.6,379.0 82.5,379.4 84.4,379.9 86.3,380.3 88.2,380.7 90.1,381.1 92.0,381.5 93.9,382.1 95.8,382.6 97.7,383.2 99.6,383.7 101.5,384.1 103.4,384.5 105.3,384.8 107.2,385.2 109.0,385.5 110.9,385.9 112.8,386.2 114.7,386.6 116.6,386.9 118.5,387.0 120.4,386.9 122.3,386.9 124.2,386.9 126.1,386.9 128.0,386.4 129.9,385.9 131.8,385.1 133.7,383.5 135.6,381.9 137.5,379.3 139.4,376.1 141.3,372.9 143.1,371.8 145.0,371.1 146.9,370.7 148.8,370.5 150.7,370.2 152.6,369.2 154.5,367.4 156.4,365.8 158.3,363.9 160.2,361.9 162.1,360.0 164.0,360.3 165.9,361.6 167.8,363.0 169.7,364.5 171.6,366.1 173.5,367.7 175.4,369.3 177.2,371.1 179.1,372.9 181.0,374.6 182.9,376.1 184.8,377.7 186.7,378.5 188.6,379.2 190.5,379.9 192.4,380.6 194.3,381.3 196.2,382.0 198.1,382.7 200.0,382.7 201.9,382.6 203.8,382.6 205.7,382.5 207.6,382.4 209.5,382.2 211.3,382.1 213.2,382.0 215.1,381.9 217.0,381.7 218.9,381.3 220.8,380.9 222.7,380.5 224.6,380.1 226.5,379.7 228.4,379.4 230.3,379.0 232.2,378.6 234.1,378.2 236.0,377.5 237.9,376.6 239.8,375.6 241.7,374.6 243.6,373.6 245.4,372.7 247.3,371.7 249.2,370.7 251.1,369.8 253.0,368.9 254.9,368.0 256.8,368.0 258.7,368.1 260.6,368.1 262.5,367.9 264.4,367.8 266.3,367.7 268.2,367.6 270.1,367.3 272.0,367.0 273.9,366.7 275.8,366.4 277.7,366.1 279.5,365.8 281.4,365.6 283.3,365.5 285.2,365.3 287.1,365.2 289.0,365.0 290.9,364.9 292.8,364.7 294.7,364.6 296.6,364.4 298.5,364.2 300.4,364.1 302.3,364.2 304.2,364.2 306.1,364.3 308.0,364.3 309.9,364.4 311.8,364.5 313.6,364.5 315.5,364.6 317.4,364.6 319.3,364.7 321.2,364.6 323.1,364.3 325.0,364.1 326.9,363.9 328.8,363.7 330.7,363.5 332.6,363.3 334.5,363.1 336.4,362.9 338.3,362.6 340.2,362.3 342.1,361.6 344.0,360.8 345.9,361.2 347.7,361.8 349.6,362.4 351.5,362.0 353.4,361.3 355.3,360.6 357.2,359.9 359.1,359.2 361.0,358.4 362.9,357.7 364.8,356.9 366.7,356.2 368.6,355.7 370.5,355.2 372.4,354.9 374.3,354.5 376.2,354.2 378.1,353.8 380.0,353.5 381.8,353.1 383.7,352.8 385.6,352.6 387.5,352.4 389.4,352.1 391.3,351.5 393.2,350.9 395.1,350.3 397.0,349.8 398.9,349.3 400.8,348.8 402.7,348.3 404.6,347.8 406.5,347.3 408.4,346.9 410.3,346.8 412.2,346.7 414.1,346.6 415.9,346.5 417.8,346.4 419.7,346.3 421.6,346.1 423.5,345.8 425.4,345.6 427.3,345.5 429.2,345.5 431.1,345.6 433.0,345.6" fill="none" stroke="#4e8a2c" stroke-width="1.4" stroke-opacity="0.65"/>
<polyline points="56.0,379.7 57.9,379.9 59.8,380.0 61.7,380.2 63.6,380.4 65.5,380.5 67.4,380.7 69.3,380.9 71.2,381.1 73.1,381.2 74.9,381.4 76.8,381.6 78.7,381.9 80.6,382.3 82.5,382.8 84.4,383.2 86.3,383.7 88.2,384.1 90.1,384.6 92.0,385.0 93.9,385.6 95.8,386.2 97.7,386.8 99.6,387.4 101.5,387.8 103.4,388.2 105.3,388.5 107.2,388.9 109.0,389.3 110.9,389.7 112.8,390.0 114.7,390.4 116.6,390.8 118.5,390.9 120.4,390.8 122.3,390.8 124.2,390.8 126.1,390.8 128.0,390.3 129.9,389.8 131.8,389.0 133.7,387.3 135.6,385.7 137.5,383.0 139.4,379.6 141.3,376.2 143.1,375.0 145.0,374.4 146.9,374.0 148.8,373.9 150.7,373.7 152.6,372.7 154.5,370.9 156.4,369.2 158.3,367.3 160.2,365.2 162.1,363.1 164.0,363.4 165.9,364.6 167.8,366.1 169.7,367.6 171.6,369.2 173.5,370.8 175.4,372.4 177.2,374.2 179.1,376.0 181.0,377.6 182.9,379.0 184.8,380.5 186.7,381.3 188.6,382.0 190.5,382.8 192.4,383.5 194.3,384.3 196.2,385.1 198.1,385.8 200.0,385.8 201.9,385.7 203.8,385.6 205.7,385.6 207.6,385.5 209.5,385.3 211.3,385.2 213.2,385.1 215.1,385.0 217.0,384.8 218.9,384.4 220.8,384.0 222.7,383.6 224.6,383.2 226.5,382.8 228.4,382.4 230.3,382.0 232.2,381.6 234.1,381.2 236.0,380.4 237.9,379.5 239.8,378.5 241.7,377.5 243.6,376.5 245.4,375.5 247.3,374.5 249.2,373.5 251.1,372.5 253.0,371.5 254.9,370.6 256.8,370.6 258.7,370.7 260.6,370.7 262.5,370.7 264.4,370.6 266.3,370.5 268.2,370.4 270.1,370.2 272.0,369.9 273.9,369.7 275.8,369.4 277.7,369.1 279.5,368.9 281.4,368.8 283.3,368.7 285.2,368.6 287.1,368.5 289.0,368.4 290.9,368.3 292.8,368.3 294.7,368.2 296.6,368.1 298.5,368.0 300.4,367.9 302.3,368.0 304.2,368.0 306.1,368.1 308.0,368.2 309.9,368.2 311.8,368.3 313.6,368.4 315.5,368.4 317.4,368.5 319.3,368.6 321.2,368.4 323.1,368.2 325.0,368.0 326.9,367.7 328.8,367.5 330.7,367.3 332.6,367.0 334.5,366.8 336.4,366.6 338.3,366.3 340.2,366.0 342.1,365.1 344.0,364.3 345.9,364.8 347.7,365.6 349.6,366.3 351.5,365.8 353.4,365.0 355.3,364.3 357.2,363.6 359.1,362.7 361.0,361.9 362.9,361.1 364.8,360.2 366.7,359.5 368.6,358.9 370.5,358.4 372.4,358.1 374.3,357.7 376.2,357.4 378.1,357.0 380.0,356.7 381.8,356.3 383.7,356.0 385.6,355.8 387.5,355.6 389.4,355.3 391.3,354.6 393.2,354.0 395.1,353.3 397.0,352.8 398.9,352.3 400.8,351.8 402.7,351.3 404.6,350.8 406.5,350.3 408.4,349.9 410.3,349.7 412.2,349.6 414.1,349.5 415.9,349.3 417.8,349.2 419.7,349.1 421.6,348.9 423.5,348.6 425.4,348.4 427.3,348.3 429.2,348.3 431.1,348.3 433.0,348.3" fill="none" stroke="#4e8a2c" stroke-width="1.5" stroke-opacity="0.65"/>
<polyline points="56.0,382.8 57.9,383.0 59.8,383.1 61.7,383.3 63.6,383.5 65.5,383.7 67.4,383.9 69.3,384.1 71.2,384.3 73.1,384.4 74.9,384.6 76.8,384.8 78.7,385.1 80.6,385.6 82.5,386.1 84.4,386.6 86.3,387.0 88.2,387.5 90.1,388.0 92.0,388.5 93.9,389.1 95.8,389.7 97.7,390.4 99.6,391.0 101.5,391.5 103.4,391.9 105.3,392.3 107.2,392.7 109.0,393.1 110.9,393.5 112.8,393.9 114.7,394.3 116.6,394.7 118.5,394.8 120.4,394.8 122.3,394.8 124.2,394.7 126.1,394.7 128.0,394.2 129.9,393.6 131.8,392.8 133.7,391.2 135.6,389.5 137.5,386.6 139.4,383.1 141.3,379.5 143.1,378.3 145.0,377.7 146.9,377.4 148.8,377.3 150.7,377.2 152.6,376.3 154.5,374.4 156.4,372.7 158.3,370.6 160.2,368.4 162.1,366.3 164.0,366.5 165.9,367.7 167.8,369.2 169.7,370.7 171.6,372.3 173.5,373.9 175.4,375.5 177.2,377.2 179.1,379.0 181.0,380.5 182.9,381.9 184.8,383.3 186.7,384.1 188.6,384.9 190.5,385.7 192.4,386.5 194.3,387.3 196.2,388.1 198.1,388.9 200.0,388.9 201.9,388.8 203.8,388.7 205.7,388.6 207.6,388.5 209.5,388.4 211.3,388.3 213.2,388.2 215.1,388.1 217.0,387.9 218.9,387.5 220.8,387.1 222.7,386.6 224.6,386.2 226.5,385.8 228.4,385.4 230.3,385.0 232.2,384.6 234.1,384.2 236.0,383.4 237.9,382.4 239.8,381.4 241.7,380.3 243.6,379.3 245.4,378.2 247.3,377.2 249.2,376.2 251.1,375.2 253.0,374.2 254.9,373.2 256.8,373.2 258.7,373.3 260.6,373.4 262.5,373.4 264.4,373.4 266.3,373.4 268.2,373.3 270.1,373.1 272.0,372.9 273.9,372.7 275.8,372.4 277.7,372.2 279.5,372.0 281.4,371.9 283.3,371.9 285.2,371.9 287.1,371.9 289.0,371.8 290.9,371.8 292.8,371.8 294.7,371.8 296.6,371.7 298.5,371.7 300.4,371.7 302.3,371.8 304.2,371.8 306.1,371.9 308.0,372.0 309.9,372.1 311.8,372.2 313.6,372.2 315.5,372.3 317.4,372.4 319.3,372.5 321.2,372.3 323.1,372.1 325.0,371.8 326.9,371.5 328.8,371.3 330.7,371.0 332.6,370.8 334.5,370.5 336.4,370.3 338.3,370.0 340.2,369.6 342.1,368.7 344.0,367.8 345.9,368.4 347.7,369.3 349.6,370.1 351.5,369.6 353.4,368.8 355.3,368.0 357.2,367.2 359.1,366.3 361.0,365.4 362.9,364.5 364.8,363.6 366.7,362.8 368.6,362.2 370.5,361.6 372.4,361.2 374.3,360.9 376.2,360.5 378.1,360.2 380.0,359.8 381.8,359.5 383.7,359.2 385.6,359.0 387.5,358.8 389.4,358.5 391.3,357.8 393.2,357.1 395.1,356.4 397.0,355.9 398.9,355.3 400.8,354.8 402.7,354.3 404.6,353.8 406.5,353.3 408.4,352.8 410.3,352.7 412.2,352.5 414.1,352.4 415.9,352.2 417.8,352.0 419.7,351.9 421.6,351.7 423.5,351.5 425.4,351.2 427.3,351.1 429.2,351.1 431.1,351.0 433.0,351.0" fill="none" stroke="#4e8a2c" stroke-width="1.6" stroke-opacity="0.65"/>
<polyline points="56.0,385.9 57.9,386.1 59.8,386.3 61.7,386.5 63.6,386.7 65.5,386.9 67.4,387.1 69.3,387.3 71.2,387.5 73.1,387.6 74.9,387.8 76.8,388.0 78.7,388.4 80.6,388.9 82.5,389.4 84.4,389.9 86.3,390.4 88.2,390.9 90.1,391.4 92.0,391.9 93.9,392.6 95.8,393.3 97.7,394.0 99.6,394.6 101.5,395.1 103.4,395.6 105.3,396.0 107.2,396.4 109.0,396.9 110.9,397.3 112.8,397.7 114.7,398.2 116.6,398.6 118.5,398.7 120.4,398.7 122.3,398.7 124.2,398.7 126.1,398.6 128.0,398.1 129.9,397.5 131.8,396.7 133.7,395.0 135.6,393.3 137.5,390.3 139.4,386.6 141.3,382.8 143.1,381.6 145.0,381.1 146.9,380.8 148.8,380.7 150.7,380.7 152.6,379.8 154.5,377.9 156.4,376.1 158.3,374.0 160.2,371.7 162.1,369.5 164.0,369.6 165.9,370.7 167.8,372.2 169.7,373.8 171.6,375.4 173.5,376.9 175.4,378.6 177.2,380.2 179.1,382.0 181.0,383.4 182.9,384.7 184.8,386.1 186.7,386.9 188.6,387.8 190.5,388.6 192.4,389.5 194.3,390.3 196.2,391.1 198.1,392.0 200.0,392.0 201.9,391.9 203.8,391.8 205.7,391.7 207.6,391.6 209.5,391.5 211.3,391.4 213.2,391.3 215.1,391.2 217.0,391.0 218.9,390.6 220.8,390.1 222.7,389.7 224.6,389.3 226.5,388.9 228.4,388.5 230.3,388.0 232.2,387.6 234.1,387.2 236.0,386.4 237.9,385.3 239.8,384.3 241.7,383.2 243.6,382.1 245.4,381.0 247.3,380.0 249.2,378.9 251.1,377.8 253.0,376.8 254.9,375.8 256.8,375.8 258.7,376.0 260.6,376.1 262.5,376.1 264.4,376.1 266.3,376.2 268.2,376.2 270.1,376.0 272.0,375.8 273.9,375.6 275.8,375.5 277.7,375.3 279.5,375.1 281.4,375.1 283.3,375.1 285.2,375.2 287.1,375.2 289.0,375.3 290.9,375.3 292.8,375.3 294.7,375.4 296.6,375.4 298.5,375.4 300.4,375.5 302.3,375.6 304.2,375.7 306.1,375.7 308.0,375.8 309.9,375.9 311.8,376.0 313.6,376.1 315.5,376.2 317.4,376.3 319.3,376.4 321.2,376.2 323.1,375.9 325.0,375.6 326.9,375.4 328.8,375.1 330.7,374.8 332.6,374.5 334.5,374.2 336.4,374.0 338.3,373.7 340.2,373.3 342.1,372.3 344.0,371.3 345.9,372.0 347.7,373.0 349.6,373.9 351.5,373.4 353.4,372.5 355.3,371.7 357.2,370.8 359.1,369.8 361.0,368.8 362.9,367.9 364.8,366.9 366.7,366.0 368.6,365.4 370.5,364.8 372.4,364.4 374.3,364.1 376.2,363.7 378.1,363.4 380.0,363.0 381.8,362.7 383.7,362.4 385.6,362.2 387.5,362.0 389.4,361.7 391.3,360.9 393.2,360.2 395.1,359.4 397.0,358.9 398.9,358.4 400.8,357.8 402.7,357.3 404.6,356.8 406.5,356.3 408.4,355.8 410.3,355.6 412.2,355.4 414.1,355.3 415.9,355.1 417.8,354.9 419.7,354.7 421.6,354.5 423.5,354.3 425.4,354.0 427.3,353.9 429.2,353.9 431.1,353.8 433.0,353.7" fill="none" stroke="#4e8a2c" stroke-width="0.9" stroke-opacity="0.4"/>
<polyline points="56.0,389.9 57.9,390.1 59.8,390.3 61.7,390.5 63.6,390.8 65.5,391.0 67.4,391.2 69.3,391.4 71.2,391.6 73.1,391.8 74.9,392.0 76.8,392.2 78.7,392.6 80.6,393.1 82.5,393.7 84.4,394.2 86.3,394.8 88.2,395.3 90.1,395.9 92.0,396.5 93.9,397.2 95.8,397.9 97.7,398.6 99.6,399.4 101.5,399.9 103.4,400.4 105.3,400.8 107.2,401.3 109.0,401.8 110.9,402.3 112.8,402.7 114.7,403.2 116.6,403.7 118.5,403.8 120.4,403.8 122.3,403.8 124.2,403.8 126.1,403.7 128.0,403.2 129.9,402.5 131.8,401.7 133.7,400.0 135.6,398.3 137.5,395.1 139.4,391.1 141.3,387.1 143.1,385.9 145.0,385.4 146.9,385.1 148.8,385.2 150.7,385.2 152.6,384.4 154.5,382.5 156.4,380.6 158.3,378.4 160.2,376.0 162.1,373.6 164.0,373.6 165.9,374.7 167.8,376.2 169.7,377.8 171.6,379.4 173.5,380.9 175.4,382.5 177.2,384.2 179.1,385.9 181.0,387.3 182.9,388.5 184.8,389.7 186.7,390.6 188.6,391.5 190.5,392.4 192.4,393.3 194.3,394.2 196.2,395.1 198.1,396.0 200.0,396.0 201.9,395.9 203.8,395.8 205.7,395.7 207.6,395.6 209.5,395.5 211.3,395.4 213.2,395.3 215.1,395.2 217.0,395.0 218.9,394.6 220.8,394.1 222.7,393.7 224.6,393.3 226.5,392.8 228.4,392.4 230.3,392.0 232.2,391.5 234.1,391.1 236.0,390.2 237.9,389.1 239.8,388.0 241.7,386.9 243.6,385.8 245.4,384.7 247.3,383.5 249.2,382.4 251.1,381.3 253.0,380.2 254.9,379.1 256.8,379.2 258.7,379.4 260.6,379.5 262.5,379.6 264.4,379.7 266.3,379.8 268.2,379.9 270.1,379.8 272.0,379.6 273.9,379.5 275.8,379.4 277.7,379.3 279.5,379.1 281.4,379.2 283.3,379.3 285.2,379.5 287.1,379.6 289.0,379.7 290.9,379.8 292.8,379.9 294.7,380.1 296.6,380.2 298.5,380.3 300.4,380.4 302.3,380.5 304.2,380.6 306.1,380.7 308.0,380.8 309.9,380.9 311.8,381.0 313.6,381.1 315.5,381.2 317.4,381.3 319.3,381.4 321.2,381.3 323.1,380.9 325.0,380.6 326.9,380.3 328.8,380.0 330.7,379.7 332.6,379.4 334.5,379.1 336.4,378.8 338.3,378.4 340.2,378.0 342.1,376.9 344.0,375.9 345.9,376.7 347.7,377.8 349.6,378.9 351.5,378.3 353.4,377.4 355.3,376.4 357.2,375.5 359.1,374.4 361.0,373.4 362.9,372.3 364.8,371.2 366.7,370.3 368.6,369.6 370.5,368.9 372.4,368.6 374.3,368.2 376.2,367.9 378.1,367.5 380.0,367.1 381.8,366.8 383.7,366.5 385.6,366.3 387.5,366.1 389.4,365.8 391.3,365.0 393.2,364.2 395.1,363.4 397.0,362.8 398.9,362.3 400.8,361.8 402.7,361.2 404.6,360.7 406.5,360.2 408.4,359.7 410.3,359.4 412.2,359.2 414.1,359.0 415.9,358.8 417.8,358.6 419.7,358.4 421.6,358.1 423.5,357.9 425.4,357.7 427.3,357.6 429.2,357.5 431.1,357.4 433.0,357.3" fill="none" stroke="#4e8a2c" stroke-width="1.6" stroke-opacity="0.65"/>
<polyline points="56.0,393.6 57.9,393.9 59.8,394.1 61.7,394.3 63.6,394.5 65.5,394.8 67.4,395.0 69.3,395.2 71.2,395.4 73.1,395.7 74.9,395.9 76.8,396.1 78.7,396.5 80.6,397.1 82.5,397.7 84.4,398.3 86.3,398.8 88.2,399.4 90.1,400.0 92.0,400.6 93.9,401.4 95.8,402.2 97.7,402.9 99.6,403.7 101.5,404.3 103.4,404.8 105.3,405.3 107.2,405.8 109.0,406.3 110.9,406.8 112.8,407.3 114.7,407.9 116.6,408.4 118.5,408.5 120.4,408.5 122.3,408.5 124.2,408.5 126.1,408.5 128.0,407.9 129.9,407.2 131.8,406.4 133.7,404.6 135.6,402.8 137.5,399.5 139.4,395.3 141.3,391.0 143.1,389.9 145.0,389.4 146.9,389.2 148.8,389.3 150.7,389.4 152.6,388.6 154.5,386.7 156.4,384.7 158.3,382.5 160.2,379.9 162.1,377.4 164.0,377.2 165.9,378.4 167.8,379.9 169.7,381.5 171.6,383.1 173.5,384.6 175.4,386.2 177.2,387.9 179.1,389.5 181.0,390.8 182.9,391.9 184.8,393.0 186.7,394.0 188.6,395.0 190.5,395.9 192.4,396.9 194.3,397.8 196.2,398.8 198.1,399.7 200.0,399.7 201.9,399.6 203.8,399.5 205.7,399.4 207.6,399.3 209.5,399.2 211.3,399.1 213.2,399.0 215.1,398.9 217.0,398.7 218.9,398.3 220.8,397.8 222.7,397.4 224.6,396.9 226.5,396.5 228.4,396.0 230.3,395.6 232.2,395.1 234.1,394.7 236.0,393.8 237.9,392.6 239.8,391.5 241.7,390.3 243.6,389.2 245.4,388.0 247.3,386.8 249.2,385.7 251.1,384.5 253.0,383.4 254.9,382.2 256.8,382.4 258.7,382.6 260.6,382.7 262.5,382.9 264.4,383.1 266.3,383.2 268.2,383.3 270.1,383.2 272.0,383.2 273.9,383.1 275.8,383.0 277.7,383.0 279.5,382.9 281.4,383.0 283.3,383.2 285.2,383.4 287.1,383.6 289.0,383.8 290.9,384.0 292.8,384.2 294.7,384.4 296.6,384.6 298.5,384.8 300.4,384.9 302.3,385.0 304.2,385.2 306.1,385.3 308.0,385.4 309.9,385.5 311.8,385.6 313.6,385.7 315.5,385.9 317.4,386.0 319.3,386.1 321.2,385.9 323.1,385.6 325.0,385.2 326.9,384.9 328.8,384.6 330.7,384.2 332.6,383.9 334.5,383.5 336.4,383.2 338.3,382.9 340.2,382.4 342.1,381.2 344.0,380.1 345.9,381.0 347.7,382.2 349.6,383.5 351.5,382.9 353.4,381.9 355.3,380.9 357.2,379.8 359.1,378.7 361.0,377.5 362.9,376.4 364.8,375.2 366.7,374.2 368.6,373.4 370.5,372.8 372.4,372.4 374.3,372.1 376.2,371.7 378.1,371.3 380.0,371.0 381.8,370.6 383.7,370.3 385.6,370.1 387.5,370.0 389.4,369.7 391.3,368.8 393.2,367.9 395.1,367.0 397.0,366.5 398.9,365.9 400.8,365.4 402.7,364.8 404.6,364.3 406.5,363.7 408.4,363.2 410.3,363.0 412.2,362.7 414.1,362.5 415.9,362.2 417.8,362.0 419.7,361.7 421.6,361.5 423.5,361.3 425.4,361.1 427.3,360.9 429.2,360.8 431.1,360.7 433.0,360.5" fill="none" stroke="#4e8a2c" stroke-width="1.5" stroke-opacity="0.65"/>
<polyline points="56.0,401.8 57.9,402.0 59.8,402.3 61.7,402.5 63.6,402.8 65.5,403.0 67.4,403.3 69.3,403.5 71.2,403.8 73.1,404.0 74.9,404.3 76.8,404.5 78.7,405.0 80.6,405.6 82.5,406.3 84.4,407.0 86.3,407.6 88.2,408.3 90.1,409.0 92.0,409.6 93.9,410.4 95.8,411.3 97.7,412.1 99.6,412.9 101.5,413.5 103.4,414.1 105.3,414.6 107.2,415.2 109.0,415.7 110.9,416.3 112.8,416.8 114.7,417.4 116.6,417.9 118.5,418.0 120.4,417.9 122.3,417.9 124.2,417.8 126.1,417.7 128.0,417.1 129.9,416.5 131.8,415.8 133.7,413.7 135.6,411.7 137.5,408.2 139.4,403.7 141.3,399.0 143.1,397.7 145.0,397.2 146.9,396.9 148.8,397.1 150.7,397.3 152.6,396.6 154.5,394.5 156.4,392.4 158.3,390.1 160.2,387.5 162.1,384.9 164.0,384.6 165.9,385.7 167.8,387.1 169.7,388.7 171.6,390.3 173.5,391.9 175.4,393.5 177.2,395.1 179.1,396.7 181.0,398.0 182.9,399.1 184.8,400.2 186.7,401.2 188.6,402.3 190.5,403.4 192.4,404.5 194.3,405.6 196.2,406.7 198.1,407.8 200.0,407.7 201.9,407.6 203.8,407.5 205.7,407.5 207.6,407.4 209.5,407.3 211.3,407.2 213.2,407.1 215.1,407.0 217.0,406.8 218.9,406.3 220.8,405.7 222.7,405.2 224.6,404.7 226.5,404.2 228.4,403.7 230.3,403.2 232.2,402.6 234.1,402.1 236.0,401.1 237.9,399.8 239.8,398.5 241.7,397.2 243.6,395.9 245.4,394.6 247.3,393.3 249.2,392.0 251.1,390.7 253.0,389.4 254.9,388.1 256.8,388.3 258.7,388.5 260.6,388.7 262.5,389.0 264.4,389.2 266.3,389.4 268.2,389.6 270.1,389.5 272.0,389.5 273.9,389.5 275.8,389.5 277.7,389.5 279.5,389.5 281.4,389.7 283.3,390.0 285.2,390.3 287.1,390.5 289.0,390.8 290.9,391.1 292.8,391.4 294.7,391.7 296.6,392.0 298.5,392.3 300.4,392.5 302.3,392.6 304.2,392.8 306.1,392.9 308.0,393.0 309.9,393.2 311.8,393.3 313.6,393.4 315.5,393.6 317.4,393.7 319.3,393.8 321.2,393.6 323.1,393.3 325.0,392.9 326.9,392.5 328.8,392.1 330.7,391.7 332.6,391.3 334.5,391.0 336.4,390.6 338.3,390.2 340.2,389.7 342.1,388.4 344.0,387.0 345.9,388.1 347.7,389.6 349.6,391.0 351.5,390.5 353.4,389.4 355.3,388.4 357.2,387.3 359.1,386.0 361.0,384.7 362.9,383.3 364.8,382.0 366.7,380.8 368.6,379.7 370.5,378.8 372.4,378.4 374.3,378.1 376.2,377.7 378.1,377.3 380.0,376.9 381.8,376.6 383.7,376.3 385.6,376.1 387.5,375.8 389.4,375.5 391.3,374.7 393.2,373.8 395.1,373.0 397.0,372.4 398.9,371.8 400.8,371.1 402.7,370.5 404.6,369.9 406.5,369.3 408.4,368.8 410.3,368.5 412.2,368.2 414.1,367.9 415.9,367.6 417.8,367.3 419.7,367.0 421.6,366.7 423.5,366.6 425.4,366.4 427.3,366.2 429.2,366.0 431.1,365.8 433.0,365.6" fill="none" stroke="#c4dde2" stroke-width="0.8"/>
<polyline points="56.0,404.2 57.9,404.4 59.8,404.7 61.7,404.9 63.6,405.2 65.5,405.4 67.4,405.7 69.3,406.0 71.2,406.2 73.1,406.5 74.9,406.7 76.8,407.0 78.7,407.4 80.6,408.1 82.5,408.8 84.4,409.4 86.3,410.1 88.2,410.8 90.1,411.5 92.0,412.2 93.9,413.0 95.8,413.7 97.7,414.5 99.6,415.3 101.5,415.9 103.4,416.4 105.3,417.0 107.2,417.5 109.0,418.0 110.9,418.6 112.8,419.1 114.7,419.6 116.6,420.2 118.5,420.2 120.4,420.0 122.3,419.9 124.2,419.8 126.1,419.6 128.0,419.1 129.9,418.5 131.8,417.9 133.7,415.7 135.6,413.5 137.5,410.3 139.4,405.6 141.3,400.9 143.1,399.6 145.0,399.0 146.9,398.6 148.8,398.7 150.7,398.9 152.6,398.3 154.5,396.2 156.4,394.0 158.3,391.7 160.2,389.3 162.1,387.0 164.0,386.7 165.9,387.7 167.8,388.9 169.7,390.4 171.6,392.0 173.5,393.5 175.4,395.1 177.2,396.7 179.1,398.2 181.0,399.6 182.9,400.7 184.8,401.8 186.7,403.0 188.6,404.1 190.5,405.2 192.4,406.4 194.3,407.5 196.2,408.6 198.1,409.8 200.0,409.7 201.9,409.6 203.8,409.5 205.7,409.5 207.6,409.4 209.5,409.3 211.3,409.2 213.2,409.1 215.1,409.0 217.0,408.8 218.9,408.2 220.8,407.7 222.7,407.1 224.6,406.5 226.5,406.0 228.4,405.4 230.3,404.9 232.2,404.3 234.1,403.7 236.0,402.7 237.9,401.3 239.8,399.9 241.7,398.6 243.6,397.2 245.4,395.9 247.3,394.5 249.2,393.2 251.1,391.8 253.0,390.5 254.9,389.1 256.8,389.3 258.7,389.5 260.6,389.7 262.5,389.9 264.4,390.1 266.3,390.4 268.2,390.5 270.1,390.5 272.0,390.5 273.9,390.5 275.8,390.5 277.7,390.5 279.5,390.5 281.4,390.7 283.3,390.9 285.2,391.2 287.1,391.5 289.0,391.8 290.9,392.1 292.8,392.4 294.7,392.7 296.6,392.9 298.5,393.2 300.4,393.5 302.3,393.6 304.2,393.7 306.1,393.9 308.0,394.0 309.9,394.1 311.8,394.3 313.6,394.4 315.5,394.5 317.4,394.7 319.3,394.8 321.2,394.6 323.1,394.2 325.0,393.8 326.9,393.5 328.8,393.1 330.7,392.7 332.6,392.3 334.5,391.9 336.4,391.6 338.3,391.2 340.2,390.6 342.1,389.3 344.0,387.9 345.9,389.0 347.7,390.5 349.6,392.0 351.5,391.5 353.4,390.6 355.3,389.6 357.2,388.6 359.1,387.3 361.0,385.9 362.9,384.5 364.8,383.1 366.7,381.7 368.6,380.5 370.5,379.4 372.4,379.0 374.3,378.6 376.2,378.3 378.1,377.9 380.0,377.5 381.8,377.1 383.7,376.8 385.6,376.5 387.5,376.3 389.4,375.9 391.3,375.2 393.2,374.5 395.1,373.8 397.0,373.2 398.9,372.5 400.8,371.9 402.7,371.2 404.6,370.6 406.5,369.9 408.4,369.3 410.3,369.0 412.2,368.7 414.1,368.4 415.9,368.2 417.8,367.9 419.7,367.6 421.6,367.3 423.5,367.1 425.4,366.9 427.3,366.7 429.2,366.5 431.1,366.3 433.0,366.2" fill="none" stroke="#8ab3bf" stroke-width="0.8"/>
<polyline points="56.0,406.4 57.9,406.6 59.8,406.9 61.7,407.1 63.6,407.4 65.5,407.6 67.4,407.9 69.3,408.1 71.2,408.4 73.1,408.7 74.9,408.9 76.8,409.2 78.7,409.6 80.6,410.3 82.5,411.0 84.4,411.7 86.3,412.4 88.2,413.1 90.1,413.8 92.0,414.5 93.9,415.2 95.8,416.0 97.7,416.7 99.6,417.5 101.5,418.1 103.4,418.6 105.3,419.1 107.2,419.6 109.0,420.1 110.9,420.7 112.8,421.2 114.7,421.7 116.6,422.2 118.5,422.2 120.4,422.0 122.3,421.7 124.2,421.5 126.1,421.3 128.0,420.9 129.9,420.4 131.8,419.9 133.7,417.6 135.6,415.2 137.5,412.1 139.4,407.4 141.3,402.7 143.1,401.3 145.0,400.6 146.9,400.1 148.8,400.2 150.7,400.3 152.6,399.8 154.5,397.6 156.4,395.4 158.3,393.2 160.2,391.0 162.1,388.8 164.0,388.6 165.9,389.5 167.8,390.6 169.7,392.0 171.6,393.5 173.5,395.0 175.4,396.6 177.2,398.1 179.1,399.6 181.0,401.0 182.9,402.2 184.8,403.3 186.7,404.5 188.6,405.7 190.5,406.9 192.4,408.0 194.3,409.2 196.2,410.4 198.1,411.6 200.0,411.6 201.9,411.5 203.8,411.4 205.7,411.3 207.6,411.2 209.5,411.1 211.3,411.0 213.2,410.9 215.1,410.8 217.0,410.6 218.9,410.0 220.8,409.4 222.7,408.8 224.6,408.2 226.5,407.6 228.4,407.0 230.3,406.4 232.2,405.8 234.1,405.2 236.0,404.1 237.9,402.7 239.8,401.3 241.7,399.9 243.6,398.4 245.4,397.0 247.3,395.6 249.2,394.2 251.1,392.8 253.0,391.4 254.9,390.0 256.8,390.1 258.7,390.4 260.6,390.6 262.5,390.8 264.4,391.0 266.3,391.2 268.2,391.4 270.1,391.4 272.0,391.4 273.9,391.3 275.8,391.3 277.7,391.3 279.5,391.3 281.4,391.5 283.3,391.8 285.2,392.1 287.1,392.4 289.0,392.7 290.9,393.0 292.8,393.2 294.7,393.5 296.6,393.8 298.5,394.1 300.4,394.4 302.3,394.5 304.2,394.6 306.1,394.8 308.0,394.9 309.9,395.0 311.8,395.2 313.6,395.3 315.5,395.4 317.4,395.5 319.3,395.7 321.2,395.5 323.1,395.1 325.0,394.7 326.9,394.3 328.8,394.0 330.7,393.6 332.6,393.2 334.5,392.8 336.4,392.4 338.3,392.1 340.2,391.5 342.1,390.1 344.0,388.7 345.9,389.9 347.7,391.4 349.6,393.0 351.5,392.5 353.4,391.6 355.3,390.7 357.2,389.8 359.1,388.4 361.0,387.0 362.9,385.5 364.8,384.1 366.7,382.6 368.6,381.1 370.5,379.9 372.4,379.5 374.3,379.2 376.2,378.8 378.1,378.4 380.0,378.0 381.8,377.6 383.7,377.3 385.6,377.0 387.5,376.7 389.4,376.3 391.3,375.7 393.2,375.1 395.1,374.5 397.0,373.9 398.9,373.2 400.8,372.5 402.7,371.8 404.6,371.2 406.5,370.5 408.4,369.8 410.3,369.5 412.2,369.2 414.1,369.0 415.9,368.7 417.8,368.4 419.7,368.1 421.6,367.8 423.5,367.6 425.4,367.4 427.3,367.2 429.2,367.0 431.1,366.8 433.0,366.7" fill="none" stroke="#c0dbe0" stroke-width="0.8"/>
<polyline points="56.0,408.5 57.9,408.8 59.8,409.1 61.7,409.3 63.6,409.6 65.5,409.8 67.4,410.1 69.3,410.3 71.2,410.6 73.1,410.8 74.9,411.1 76.8,411.4 78.7,411.8 80.6,412.5 82.5,413.2 84.4,413.9 86.3,414.7 88.2,415.4 90.1,416.1 92.0,416.8 93.9,417.5 95.8,418.2 97.7,419.0 99.6,419.7 101.5,420.2 103.4,420.7 105.3,421.2 107.2,421.7 109.0,422.2 110.9,422.8 112.8,423.3 114.7,423.8 116.6,424.3 118.5,424.1 120.4,423.9 122.3,423.6 124.2,423.3 126.1,423.1 128.0,422.7 129.9,422.3 131.8,421.8 133.7,419.4 135.6,416.9 137.5,413.9 139.4,409.2 141.3,404.4 143.1,403.0 145.0,402.3 146.9,401.6 148.8,401.6 150.7,401.7 152.6,401.4 154.5,399.1 156.4,396.9 158.3,394.8 160.2,392.7 162.1,390.7 164.0,390.5 165.9,391.3 167.8,392.2 169.7,393.5 171.6,395.0 173.5,396.5 175.4,398.1 177.2,399.6 179.1,401.1 181.0,402.4 182.9,403.6 184.8,404.8 186.7,406.1 188.6,407.3 190.5,408.5 192.4,409.7 194.3,410.9 196.2,412.2 198.1,413.4 200.0,413.4 201.9,413.3 203.8,413.2 205.7,413.1 207.6,413.0 209.5,412.9 211.3,412.8 213.2,412.7 215.1,412.6 217.0,412.4 218.9,411.8 220.8,411.1 222.7,410.5 224.6,409.9 226.5,409.2 228.4,408.6 230.3,408.0 232.2,407.3 234.1,406.7 236.0,405.5 237.9,404.0 239.8,402.6 241.7,401.1 243.6,399.6 245.4,398.2 247.3,396.7 249.2,395.3 251.1,393.8 253.0,392.3 254.9,390.9 256.8,391.0 258.7,391.2 260.6,391.4 262.5,391.7 264.4,391.9 266.3,392.1 268.2,392.2 270.1,392.2 272.0,392.2 273.9,392.2 275.8,392.2 277.7,392.2 279.5,392.2 281.4,392.4 283.3,392.7 285.2,393.0 287.1,393.3 289.0,393.6 290.9,393.8 292.8,394.1 294.7,394.4 296.6,394.7 298.5,395.0 300.4,395.2 302.3,395.4 304.2,395.5 306.1,395.6 308.0,395.8 309.9,395.9 311.8,396.0 313.6,396.2 315.5,396.3 317.4,396.4 319.3,396.6 321.2,396.4 323.1,396.0 325.0,395.6 326.9,395.2 328.8,394.8 330.7,394.5 332.6,394.1 334.5,393.7 336.4,393.3 338.3,392.9 340.2,392.5 342.1,391.0 344.0,389.5 345.9,390.7 347.7,392.3 349.6,393.9 351.5,393.5 353.4,392.7 355.3,391.8 357.2,391.0 359.1,389.5 361.0,388.0 362.9,386.6 364.8,385.1 366.7,383.5 368.6,381.8 370.5,380.4 372.4,380.0 374.3,379.7 376.2,379.3 378.1,378.9 380.0,378.5 381.8,378.1 383.7,377.8 385.6,377.4 387.5,377.1 389.4,376.7 391.3,376.2 393.2,375.8 395.1,375.3 397.0,374.6 398.9,373.9 400.8,373.2 402.7,372.4 404.6,371.7 406.5,371.0 408.4,370.3 410.3,370.0 412.2,369.8 414.1,369.5 415.9,369.2 417.8,368.9 419.7,368.6 421.6,368.4 423.5,368.2 425.4,368.0 427.3,367.8 429.2,367.6 431.1,367.4 433.0,367.2" fill="none" stroke="#8ab3bf" stroke-width="0.8"/>
<polyline points="56.0,424.0 57.9,425.0 59.8,426.0 61.7,427.1 63.6,428.1 65.5,429.1 67.4,430.1 69.3,431.2 71.2,432.2 73.1,433.2 74.9,434.2 76.8,435.3 78.7,436.3 80.6,437.3 82.5,438.3 84.4,439.4 86.3,440.4 88.2,441.5 90.1,443.1 92.0,444.6 93.9,446.8 95.8,448.9 97.7,451.0 99.6,453.1 101.5,454.1 103.4,454.8 105.3,455.5 107.2,456.2 109.0,456.9 110.9,457.6 112.8,458.3 114.7,458.9 116.6,459.6 118.5,460.0 120.4,460.1 122.3,460.2 124.2,460.3 126.1,460.4 128.0,460.5 129.9,460.6 131.8,459.0 133.7,457.3 135.6,455.6 137.5,452.6 139.4,445.7 141.3,430.0 143.1,426.8 145.0,427.4 146.9,428.0 148.8,427.3 150.7,426.6 152.6,425.8 154.5,424.3 156.4,422.7 158.3,420.6 160.2,416.4 162.1,412.2 164.0,408.3 165.9,411.3 167.8,414.2 169.7,421.5 171.6,429.4 173.5,434.4 175.4,438.6 177.2,442.8 179.1,447.0 181.0,450.0 182.9,452.0 184.8,454.0 186.7,456.0 188.6,458.0 190.5,459.7 192.4,460.3 194.3,461.0 196.2,461.7 198.1,462.4 200.0,463.0 201.9,463.7 203.8,464.4 205.7,464.5 207.6,463.7 209.5,462.8 211.3,461.9 213.2,461.1 215.1,460.2 217.0,459.4 218.9,458.5 220.8,457.5 222.7,456.1 224.6,454.3 226.5,452.5 228.4,450.7 230.3,448.8 232.2,447.0 234.1,445.2 236.0,443.4 237.9,441.5 239.8,439.7 241.7,437.1 243.6,434.3 245.4,431.5 247.3,428.7 249.2,425.9 251.1,423.1 253.0,420.3 254.9,412.0 256.8,411.4 258.7,411.3 260.6,411.1 262.5,411.0 264.4,410.8 266.3,410.6 268.2,410.5 270.1,410.3 272.0,410.1 273.9,410.0 275.8,409.8 277.7,409.7 279.5,409.5 281.4,409.0 283.3,408.4 285.2,407.8 287.1,407.3 289.0,406.7 290.9,406.1 292.8,405.5 294.7,404.9 296.6,404.3 298.5,403.8 300.4,403.3 302.3,403.3 304.2,403.3 306.1,403.3 308.0,403.3 309.9,403.3 311.8,403.3 313.6,403.3 315.5,403.3 317.4,403.3 319.3,403.3 321.2,403.1 323.1,402.8 325.0,402.5 326.9,402.2 328.8,401.9 330.7,401.6 332.6,401.3 334.5,401.0 336.4,400.7 338.3,400.4 340.2,400.2 342.1,400.8 344.0,401.3 345.9,401.9 347.7,402.5 349.6,403.0 351.5,402.2 353.4,401.1 355.3,400.0 357.2,398.8 359.1,397.7 361.0,396.6 362.9,406.9 364.8,420.0 366.7,420.0 368.6,420.0 370.5,420.0 372.4,420.0 374.3,420.0 376.2,420.0 378.1,420.0 380.0,420.0 381.8,420.0 383.7,420.0 385.6,420.0 387.5,420.0 389.4,420.0 391.3,420.0 393.2,420.0 395.1,420.0 397.0,420.0 398.9,420.0 400.8,420.0 402.7,420.0 404.6,420.0 406.5,420.0 408.4,420.0 410.3,420.0 412.2,420.0 414.1,420.0 415.9,420.0 417.8,420.0 419.7,420.0 421.6,420.0 423.5,420.0 425.4,420.0 427.3,420.0 429.2,420.0 431.1,420.0 433.0,420.0" fill="none" stroke="#c84a38" stroke-width="0.6" stroke-opacity="0.6"/>
<polyline points="56.0,424.0 57.9,425.0 59.8,426.1 61.7,427.1 63.6,428.2 65.5,429.2 67.4,430.3 69.3,431.3 71.2,432.3 73.1,433.4 74.9,434.4 76.8,435.5 78.7,436.5 80.6,437.5 82.5,438.6 84.4,439.6 86.3,440.7 88.2,441.8 90.1,443.3 92.0,444.8 93.9,446.9 95.8,449.0 97.7,451.1 99.6,453.2 101.5,454.2 103.4,454.9 105.3,455.6 107.2,456.3 109.0,457.0 110.9,457.7 112.8,458.4 114.7,459.1 116.6,459.8 118.5,460.2 120.4,460.3 122.3,460.4 124.2,460.5 126.1,460.6 128.0,460.7 129.9,460.8 131.8,459.2 133.7,457.5 135.6,455.9 137.5,452.9 139.4,446.0 141.3,430.3 143.1,427.0 145.0,427.5 146.9,428.0 148.8,427.3 150.7,426.6 152.6,425.8 154.5,424.3 156.4,422.7 158.3,420.6 160.2,416.4 162.1,412.3 164.0,408.4 165.9,411.6 167.8,414.8 169.7,422.4 171.6,430.5 173.5,436.1 175.4,440.9 177.2,445.8 179.1,450.6 181.0,454.0 182.9,456.1 184.8,458.2 186.7,460.3 188.6,462.4 190.5,464.2 192.4,464.9 194.3,465.6 196.2,466.3 198.1,467.0 200.0,467.7 201.9,468.4 203.8,469.1 205.7,469.3 207.6,468.5 209.5,467.7 211.3,466.9 213.2,466.1 215.1,465.3 217.0,464.4 218.9,463.6 220.8,462.5 222.7,460.9 224.6,459.0 226.5,457.2 228.4,455.3 230.3,453.5 232.2,451.6 234.1,449.8 236.0,447.9 237.9,446.1 239.8,444.2 241.7,441.3 243.6,438.2 245.4,435.1 247.3,432.0 249.2,428.9 251.1,425.8 253.0,422.7 254.9,412.6 256.8,412.0 258.7,411.9 260.6,411.7 262.5,411.5 264.4,411.3 266.3,411.2 268.2,411.0 270.1,410.8 272.0,410.6 273.9,410.5 275.8,410.3 277.7,410.1 279.5,409.9 281.4,409.4 283.3,408.8 285.2,408.3 287.1,407.7 289.0,407.1 290.9,406.5 292.8,405.9 294.7,405.3 296.6,404.7 298.5,404.1 300.4,403.6 302.3,403.6 304.2,403.6 306.1,403.6 308.0,403.6 309.9,403.6 311.8,403.6 313.6,403.6 315.5,403.6 317.4,403.6 319.3,403.6 321.2,403.4 323.1,403.1 325.0,402.8 326.9,402.5 328.8,402.1 330.7,401.8 332.6,401.5 334.5,401.2 336.4,400.9 338.3,400.6 340.2,400.4 342.1,400.9 344.0,401.5 345.9,402.1 347.7,402.6 349.6,403.2 351.5,402.4 353.4,401.2 355.3,400.1 357.2,398.9 359.1,397.8 361.0,396.6 362.9,406.9 364.8,420.0 366.7,420.0 368.6,420.0 370.5,420.0 372.4,420.0 374.3,420.0 376.2,420.0 378.1,420.0 380.0,420.0 381.8,420.0 383.7,420.0 385.6,420.0 387.5,420.0 389.4,420.0 391.3,420.0 393.2,420.0 395.1,420.0 397.0,420.0 398.9,420.0 400.8,420.0 402.7,420.0 404.6,420.0 406.5,420.0 408.4,420.0 410.3,420.0 412.2,420.0 414.1,420.0 415.9,420.0 417.8,420.0 419.7,420.0 421.6,420.0 423.5,420.0 425.4,420.0 427.3,420.0 429.2,420.0 431.1,420.0 433.0,420.0" fill="none" stroke="#c84a38" stroke-width="0.6" stroke-opacity="0.6"/>
<polyline points="56.0,424.0 57.9,425.1 59.8,426.1 61.7,427.2 63.6,428.2 65.5,429.3 67.4,430.3 69.3,431.4 71.2,432.5 73.1,433.5 74.9,434.6 76.8,435.6 78.7,436.7 80.6,437.7 82.5,438.8 84.4,439.9 86.3,440.9 88.2,442.0 90.1,443.5 92.0,444.9 93.9,447.0 95.8,449.1 97.7,451.2 99.6,453.3 101.5,454.3 103.4,455.0 105.3,455.7 107.2,456.4 109.0,457.2 110.9,457.9 112.8,458.6 114.7,459.3 116.6,460.0 118.5,460.4 120.4,460.4 122.3,460.5 124.2,460.6 126.1,460.7 128.0,460.8 129.9,460.9 131.8,459.4 133.7,457.7 135.6,456.1 137.5,453.2 139.4,446.2 141.3,430.6 143.1,427.2 145.0,427.6 146.9,428.0 148.8,427.3 150.7,426.6 152.6,425.8 154.5,424.3 156.4,422.7 158.3,420.6 160.2,416.5 162.1,412.4 164.0,408.6 165.9,411.9 167.8,415.3 169.7,423.1 171.6,431.5 173.5,437.5 175.4,442.9 177.2,448.3 179.1,453.6 181.0,457.3 182.9,459.5 184.8,461.7 186.7,463.9 188.6,466.1 190.5,467.9 192.4,468.7 194.3,469.4 196.2,470.2 198.1,470.9 200.0,471.6 201.9,472.4 203.8,473.1 205.7,473.3 207.6,472.5 209.5,471.8 211.3,471.0 213.2,470.2 215.1,469.4 217.0,468.7 218.9,467.9 220.8,466.7 222.7,464.9 224.6,463.0 226.5,461.1 228.4,459.3 230.3,457.4 232.2,455.5 234.1,453.6 236.0,451.7 237.9,449.9 239.8,448.0 241.7,444.8 243.6,441.5 245.4,438.1 247.3,434.8 249.2,431.4 251.1,428.1 253.0,424.6 254.9,413.2 256.8,412.5 258.7,412.3 260.6,412.2 262.5,412.0 264.4,411.8 266.3,411.6 268.2,411.4 270.1,411.2 272.0,411.1 273.9,410.9 275.8,410.7 277.7,410.5 279.5,410.3 281.4,409.8 283.3,409.2 285.2,408.6 287.1,408.0 289.0,407.4 290.9,406.8 292.8,406.2 294.7,405.6 296.6,404.9 298.5,404.3 300.4,403.9 302.3,403.9 304.2,403.9 306.1,403.9 308.0,403.9 309.9,403.9 311.8,403.9 313.6,403.9 315.5,403.9 317.4,403.9 319.3,403.9 321.2,403.6 323.1,403.3 325.0,403.0 326.9,402.7 328.8,402.3 330.7,402.0 332.6,401.7 334.5,401.4 336.4,401.0 338.3,400.7 340.2,400.5 342.1,401.0 344.0,401.6 345.9,402.2 347.7,402.7 349.6,403.3 351.5,402.5 353.4,401.3 355.3,400.1 357.2,399.0 359.1,397.8 361.0,396.6 362.9,406.9 364.8,420.0 366.7,420.0 368.6,420.0 370.5,420.0 372.4,420.0 374.3,420.0 376.2,420.0 378.1,420.0 380.0,420.0 381.8,420.0 383.7,420.0 385.6,420.0 387.5,420.0 389.4,420.0 391.3,420.0 393.2,420.0 395.1,420.0 397.0,420.0 398.9,420.0 400.8,420.0 402.7,420.0 404.6,420.0 406.5,420.0 408.4,420.0 410.3,420.0 412.2,420.0 414.1,420.0 415.9,420.0 417.8,420.0 419.7,420.0 421.6,420.0 423.5,420.0 425.4,420.0 427.3,420.0 429.2,420.0 431.1,420.0 433.0,420.0" fill="none" stroke="#c84a38" stroke-width="0.6" stroke-opacity="0.6"/>
<polyline points="56.0,422.2 70.6,422.2 77.9,424.4 82.3,428.8 86.7,436.1 89.6,443.4 91.0,445.0 94.1,452.7 97.2,463.6 100.3,469.8 106.5,472.9 117.4,476.0 125.1,476.0 131.4,471.4 136.0,462.0 139.1,446.5 140.7,431.0 142.5,425.7 144.7,431.1 146.9,436.6 152.4,439.9 157.9,436.6 160.0,430.0 161.7,417.0 163.9,408.1 167.2,411.4 168.8,427.9 170.5,440.0 171.8,455.0 175.0,473.2 178.6,491.4 182.3,500.5 186.4,509.7 191.9,518.5 195.2,521.2 198.0,520.5 201.8,517.4 207.2,509.7 211.6,503.1 216.0,495.5 220.3,484.9 225.4,478.5 230.5,473.4 236.9,468.3 240.8,460.7 244.6,451.7 249.7,444.0 256.1,437.7 263.7,430.0 267.0,423.0 269.6,421.5 274.0,414.2 279.8,414.5 288.6,415.7 293.0,418.6 298.8,414.2 306.1,412.0 313.4,411.3 320.0,411.3 328.0,408.4 335.0,406.9 340.0,404.5 342.7,397.7 344.9,396.3 348.6,403.6 352.9,409.4 357.3,406.5 361.0,399.2 366.0,391.9 370.0,389.9 382.7,386.1 389.1,384.8 395.4,381.0 408.2,377.2 420.9,377.8 433.0,378.4" fill="none" stroke="#c8c8c8" stroke-width="4.4"/>
<polyline points="56.0,421.1 70.6,421.1 77.9,423.3 82.3,427.7 86.7,435.0 89.6,442.3 91.0,443.9 94.1,451.6 97.2,462.5 100.3,468.7 106.5,471.8 117.4,474.9 125.1,474.9 131.4,470.3 136.0,460.9 139.1,445.4 140.7,429.9 142.5,424.6 144.7,430.0 146.9,435.5 152.4,438.8 157.9,435.5 160.0,428.9 161.7,415.9 163.9,407.0 167.2,410.3 168.8,426.8 170.5,438.9 171.8,453.9 175.0,472.1 178.6,490.3 182.3,499.4 186.4,508.6 191.9,517.4 195.2,520.1 198.0,519.4 201.8,516.3 207.2,508.6 211.6,502.0 216.0,494.4 220.3,483.8 225.4,477.4 230.5,472.3 236.9,467.2 240.8,459.6 244.6,450.6 249.7,442.9 256.1,436.6 263.7,428.9 267.0,421.9 269.6,420.4 274.0,413.1 279.8,413.4 288.6,414.6 293.0,417.5 298.8,413.1 306.1,410.9 313.4,410.2 320.0,410.2 328.0,407.3 335.0,405.8 340.0,403.4 342.7,396.6 344.9,395.2 348.6,402.5 352.9,408.3 357.3,405.4 361.0,398.1 366.0,390.8 370.0,388.8 382.7,385.0 389.1,383.7 395.4,379.9 408.2,376.1 420.9,376.7 433.0,377.3" fill="none" stroke="#9a9a9a" stroke-width="0.6" stroke-dasharray="0.8,0.8"/>
</g>
<polyline points="56.0,335.0 100.0,335.0 137.0,334.0 150.0,332.8 176.0,332.5 250.0,332.0 270.0,333.0 300.0,332.5 340.0,333.6 370.0,332.6 382.7,331.4 395.4,330.7 408.2,328.8 420.9,330.1 426.0,329.5 433.0,330.7" fill="none" stroke="#9a9070" stroke-width="0.9"/>
<g stroke="#9a9a9a" stroke-width="0.8" fill="none">
<line x1="50.3" y1="25" x2="50.3" y2="244.4"/><line x1="446.3" y1="25" x2="446.3" y2="244.4"/>
<line x1="56.3" y1="325" x2="56.3" y2="533"/><line x1="433" y1="325" x2="433" y2="533"/>
<line x1="50" y1="244.4" x2="446.6" y2="244.4" stroke="#7a7a7a" stroke-width="0.9"/><line x1="56" y1="533" x2="433.3" y2="533" stroke="#7a7a7a" stroke-width="0.9"/>
</g>
<line x1="50.3" y1="244" x2="50.3" y2="245.5" stroke="#999" stroke-width="0.5"/><line x1="73.0" y1="244" x2="73.0" y2="245.5" stroke="#999" stroke-width="0.5"/><line x1="95.7" y1="244" x2="95.7" y2="245.5" stroke="#999" stroke-width="0.5"/><line x1="118.4" y1="244" x2="118.4" y2="245.5" stroke="#999" stroke-width="0.5"/><line x1="141.1" y1="244" x2="141.1" y2="245.5" stroke="#999" stroke-width="0.5"/><line x1="163.8" y1="244" x2="163.8" y2="245.5" stroke="#999" stroke-width="0.5"/><line x1="186.5" y1="244" x2="186.5" y2="245.5" stroke="#999" stroke-width="0.5"/><line x1="209.2" y1="244" x2="209.2" y2="245.5" stroke="#999" stroke-width="0.5"/><line x1="231.9" y1="244" x2="231.9" y2="245.5" stroke="#999" stroke-width="0.5"/><line x1="254.6" y1="244" x2="254.6" y2="245.5" stroke="#999" stroke-width="0.5"/><line x1="277.3" y1="244" x2="277.3" y2="245.5" stroke="#999" stroke-width="0.5"/><line x1="300.0" y1="244" x2="300.0" y2="245.5" stroke="#999" stroke-width="0.5"/><line x1="322.7" y1="244" x2="322.7" y2="245.5" stroke="#999" stroke-width="0.5"/><line x1="345.4" y1="244" x2="345.4" y2="245.5" stroke="#999" stroke-width="0.5"/><line x1="368.1" y1="244" x2="368.1" y2="245.5" stroke="#999" stroke-width="0.5"/><line x1="390.8" y1="244" x2="390.8" y2="245.5" stroke="#999" stroke-width="0.5"/><line x1="413.5" y1="244" x2="413.5" y2="245.5" stroke="#999" stroke-width="0.5"/><line x1="436.2" y1="244" x2="436.2" y2="245.5" stroke="#999" stroke-width="0.5"/><line x1="56.3" y1="533" x2="56.3" y2="534.5" stroke="#999" stroke-width="0.5"/><line x1="81.6" y1="533" x2="81.6" y2="534.5" stroke="#999" stroke-width="0.5"/><line x1="106.9" y1="533" x2="106.9" y2="534.5" stroke="#999" stroke-width="0.5"/><line x1="132.2" y1="533" x2="132.2" y2="534.5" stroke="#999" stroke-width="0.5"/><line x1="157.5" y1="533" x2="157.5" y2="534.5" stroke="#999" stroke-width="0.5"/><line x1="182.8" y1="533" x2="182.8" y2="534.5" stroke="#999" stroke-width="0.5"/><line x1="208.1" y1="533" x2="208.1" y2="534.5" stroke="#999" stroke-width="0.5"/><line x1="233.4" y1="533" x2="233.4" y2="534.5" stroke="#999" stroke-width="0.5"/><line x1="258.7" y1="533" x2="258.7" y2="534.5" stroke="#999" stroke-width="0.5"/><line x1="284.0" y1="533" x2="284.0" y2="534.5" stroke="#999" stroke-width="0.5"/><line x1="309.3" y1="533" x2="309.3" y2="534.5" stroke="#999" stroke-width="0.5"/><line x1="334.6" y1="533" x2="334.6" y2="534.5" stroke="#999" stroke-width="0.5"/><line x1="359.9" y1="533" x2="359.9" y2="534.5" stroke="#999" stroke-width="0.5"/><line x1="385.2" y1="533" x2="385.2" y2="534.5" stroke="#999" stroke-width="0.5"/><line x1="410.5" y1="533" x2="410.5" y2="534.5" stroke="#999" stroke-width="0.5"/><text filter="url(#gaa)" x="50.3" y="248.6" font-size="3.2" fill="#888" text-anchor="middle">0</text><text filter="url(#gaa)" x="73.0" y="248.6" font-size="3.2" fill="#888" text-anchor="middle">50</text><text filter="url(#gaa)" x="95.7" y="248.6" font-size="3.2" fill="#888" text-anchor="middle">100</text><text filter="url(#gaa)" x="118.4" y="248.6" font-size="3.2" fill="#888" text-anchor="middle">150</text><text filter="url(#gaa)" x="141.1" y="248.6" font-size="3.2" fill="#888" text-anchor="middle">200</text><text filter="url(#gaa)" x="163.8" y="248.6" font-size="3.2" fill="#888" text-anchor="middle">250</text><text filter="url(#gaa)" x="186.5" y="248.6" font-size="3.2" fill="#888" text-anchor="middle">300</text><text filter="url(#gaa)" x="209.2" y="248.6" font-size="3.2" fill="#888" text-anchor="middle">350</text><text filter="url(#gaa)" x="231.9" y="248.6" font-size="3.2" fill="#888" text-anchor="middle">400</text><text filter="url(#gaa)" x="254.6" y="248.6" font-size="3.2" fill="#888" text-anchor="middle">450</text><text filter="url(#gaa)" x="277.3" y="248.6" font-size="3.2" fill="#888" text-anchor="middle">500</text><text filter="url(#gaa)" x="300.0" y="248.6" font-size="3.2" fill="#888" text-anchor="middle">550</text><text filter="url(#gaa)" x="322.7" y="248.6" font-size="3.2" fill="#888" text-anchor="middle">600</text><text filter="url(#gaa)" x="345.4" y="248.6" font-size="3.2" fill="#888" text-anchor="middle">650</text><text filter="url(#gaa)" x="368.1" y="248.6" font-size="3.2" fill="#888" text-anchor="middle">700</text><text filter="url(#gaa)" x="390.8" y="248.6" font-size="3.2" fill="#888" text-anchor="middle">750</text><text filter="url(#gaa)" x="413.5" y="248.6" font-size="3.2" fill="#888" text-anchor="middle">800</text><text filter="url(#gaa)" x="436.2" y="248.6" font-size="3.2" fill="#888" text-anchor="middle">850</text><text filter="url(#gaa)" x="56.3" y="537.3" font-size="3.2" fill="#888" text-anchor="middle">0</text><text filter="url(#gaa)" x="81.6" y="537.3" font-size="3.2" fill="#888" text-anchor="middle">50</text><text filter="url(#gaa)" x="106.9" y="537.3" font-size="3.2" fill="#888" text-anchor="middle">100</text><text filter="url(#gaa)" x="132.2" y="537.3" font-size="3.2" fill="#888" text-anchor="middle">150</text><text filter="url(#gaa)" x="157.5" y="537.3" font-size="3.2" fill="#888" text-anchor="middle">200</text><text filter="url(#gaa)" x="182.8" y="537.3" font-size="3.2" fill="#888" text-anchor="middle">250</text><text filter="url(#gaa)" x="208.1" y="537.3" font-size="3.2" fill="#888" text-anchor="middle">300</text><text filter="url(#gaa)" x="233.4" y="537.3" font-size="3.2" fill="#888" text-anchor="middle">350</text><text filter="url(#gaa)" x="258.7" y="537.3" font-size="3.2" fill="#888" text-anchor="middle">400</text><text filter="url(#gaa)" x="284.0" y="537.3" font-size="3.2" fill="#888" text-anchor="middle">450</text><text filter="url(#gaa)" x="309.3" y="537.3" font-size="3.2" fill="#888" text-anchor="middle">500</text><text filter="url(#gaa)" x="334.6" y="537.3" font-size="3.2" fill="#888" text-anchor="middle">550</text><text filter="url(#gaa)" x="359.9" y="537.3" font-size="3.2" fill="#888" text-anchor="middle">600</text><text filter="url(#gaa)" x="385.2" y="537.3" font-size="3.2" fill="#888" text-anchor="middle">650</text><text filter="url(#gaa)" x="410.5" y="537.3" font-size="3.2" fill="#888" text-anchor="middle">700</text>
<g stroke="#3a3a3a" stroke-width="0.5">
<line x1="127.5" y1="37" x2="127.5" y2="133"/><line x1="241.3" y1="36" x2="241.3" y2="182"/><line x1="275.5" y1="35.5" x2="275.5" y2="176" stroke-dasharray="2,1"/><line x1="400.3" y1="33" x2="400.3" y2="137"/>
<line x1="117.4" y1="334" x2="117.4" y2="476"/><line x1="269.7" y1="332" x2="269.7" y2="420"/>
</g>
<line x1="446.5" y1="35" x2="468.4" y2="35" stroke="#a8a8a8" stroke-width="2.2"/><line x1="446.5" y1="67.4" x2="468.4" y2="67.4" stroke="#bdbdbd" stroke-width="0.6"/><line x1="446.5" y1="78" x2="468.4" y2="78" stroke="#bdbdbd" stroke-width="0.6"/><line x1="446.5" y1="95.2" x2="468.4" y2="95.2" stroke="#bdbdbd" stroke-width="0.6"/><line x1="446.5" y1="99.3" x2="468.4" y2="99.3" stroke="#bdbdbd" stroke-width="0.6"/><line x1="446.5" y1="103.4" x2="468.4" y2="103.4" stroke="#bdbdbd" stroke-width="0.6"/><line x1="446.5" y1="111.5" x2="468.4" y2="111.5" stroke="#bdbdbd" stroke-width="0.6"/><line x1="446.5" y1="124" x2="468.4" y2="124" stroke="#bdbdbd" stroke-width="0.6"/><line x1="446.5" y1="134.6" x2="468.4" y2="134.6" stroke="#bdbdbd" stroke-width="0.6"/><line x1="446.5" y1="138.7" x2="468.4" y2="138.7" stroke="#bdbdbd" stroke-width="0.6"/><line x1="446.5" y1="142.8" x2="468.4" y2="142.8" stroke="#bdbdbd" stroke-width="0.6"/><line x1="446.5" y1="146" x2="468.4" y2="146" stroke="#bdbdbd" stroke-width="0.6"/><text filter="url(#gaa)" x="450.6" y="70.8" font-size="3.2" fill="#777">100</text><text filter="url(#gaa)" x="450.6" y="76.6" font-size="3.2" fill="#777">105</text><text filter="url(#gaa)" x="450.6" y="81.5" font-size="3.2" fill="#777">110</text><text filter="url(#gaa)" x="450.6" y="90.5" font-size="3.2" fill="#777">125</text><text filter="url(#gaa)" x="450.6" y="98" font-size="3.2" fill="#777">140</text><text filter="url(#gaa)" x="450.6" y="103" font-size="3.2" fill="#777">150</text><text filter="url(#gaa)" x="450.6" y="119.2" font-size="3.2" fill="#777">215</text><text filter="url(#gaa)" x="450.6" y="128" font-size="3.2" fill="#777">250</text><text filter="url(#gaa)" x="450.6" y="137" font-size="3.2" fill="#777">260</text><text filter="url(#gaa)" x="450.6" y="145.5" font-size="3.2" fill="#777">300</text>
<line x1="367.3" y1="134" x2="345.2" y2="240" stroke="#f3c09c" stroke-width="3.6"/><line x1="367.3" y1="134" x2="345.2" y2="240" stroke="#3a2414" stroke-width="1.6" stroke-dasharray="4.6,2.6"/>
<line x1="164" y1="411" x2="178.8" y2="532" stroke="#f3c09c" stroke-width="3.6"/><line x1="164" y1="411" x2="178.8" y2="532" stroke="#3a2414" stroke-width="1.6" stroke-dasharray="4.6,2.6"/>
<line x1="144.4" y1="440" x2="146.6" y2="462" stroke="#333" stroke-width="1" stroke-dasharray="3,2"/>
<line x1="348.3" y1="196" x2="342.6" y2="218.5" stroke="#111" stroke-width="1.8"/><polygon points="349.3,194.3 342.6,199.9 347.6,200.6" fill="#111"/><polygon points="342.3,220.6 339.7,213.2 344.6,214.3" fill="#111"/>
<line x1="179.2" y1="505.5" x2="182" y2="530" stroke="#111" stroke-width="1.8"/><polygon points="178.5,503.8 183.6,509.8 179.6,510.6" fill="#111"/><polygon points="182.2,531.6 185.8,524.6 181.2,524" fill="#111"/>
<rect x="362.3" y="218.4" width="64.2" height="6" fill="#d8d8d8" stroke="#666" stroke-width="0.7"/>
<rect x="362.3" y="509.4" width="64.2" height="6.5" fill="#d8d8d8" stroke="#666" stroke-width="0.7"/>
<line x1="480.8" y1="44.8" x2="453.7" y2="48.2" stroke="#111" stroke-width="1.7"/><polygon points="448.5,48.8 453.3,45.2 454.0,51.2" fill="#111"/>
<line x1="480.8" y1="82" x2="453.7" y2="84.5" stroke="#111" stroke-width="1.7"/><polygon points="448.5,85 453.4,81.5 454.0,87.5" fill="#111"/>
<line x1="496" y1="105" x2="453.7" y2="109.3" stroke="#111" stroke-width="1.7"/><polygon points="448.5,109.8 453.4,106.3 454.0,112.3" fill="#111"/>
<line x1="496" y1="125.2" x2="453.7" y2="129.5" stroke="#111" stroke-width="1.7"/><polygon points="448.5,130 453.4,126.5 454.0,132.5" fill="#111"/>
<line x1="496" y1="135.8" x2="453.7" y2="140.4" stroke="#111" stroke-width="1.7"/><polygon points="448.5,141 453.3,137.4 454.0,143.4" fill="#111"/>
<line x1="467.9" y1="330.2" x2="440.7" y2="332.1" stroke="#111" stroke-width="1.7"/><polygon points="435.5,332.5 440.5,329.1 440.9,335.1" fill="#111"/>
<line x1="467.9" y1="351.2" x2="441.2" y2="354.1" stroke="#111" stroke-width="1.7"/><polygon points="436,354.7 440.8,351.1 441.5,357.1" fill="#111"/>
<line x1="483" y1="367.6" x2="440.7" y2="370.6" stroke="#111" stroke-width="1.7"/><polygon points="435.5,371 440.5,367.6 440.9,373.6" fill="#111"/>
<line x1="176" y1="29.2" x2="163.1" y2="37.8" stroke="#111" stroke-width="1.7"/><polygon points="158.8,40.7 161.4,35.3 164.8,40.3" fill="#111"/>
<line x1="133.2" y1="156.4" x2="153.0" y2="142.9" stroke="#111" stroke-width="1.7"/><polygon points="157.3,140 154.7,145.4 151.3,140.4" fill="#111"/>
<line x1="197.5" y1="208.3" x2="216.6" y2="191.4" stroke="#111" stroke-width="1.7"/><polygon points="220.5,187.9 218.6,193.6 214.6,189.1" fill="#111"/>
<line x1="156" y1="317.8" x2="142.2" y2="327.9" stroke="#111" stroke-width="1.7"/><polygon points="138,331 140.4,325.5 144.0,330.4" fill="#111"/>
<line x1="263.5" y1="439.3" x2="224.8" y2="432.5" stroke="#111" stroke-width="1.7"/><polygon points="219.7,431.6 225.3,429.5 224.3,435.5" fill="#111"/>
<line x1="261.3" y1="460" x2="236.8" y2="455.5" stroke="#111" stroke-width="1.7"/><polygon points="231.7,454.6 237.4,452.6 236.3,458.5" fill="#111"/>
<line x1="253.6" y1="483" x2="216.0" y2="494.7" stroke="#111" stroke-width="1.7"/><polygon points="211,496.2 215.1,491.8 216.9,497.5" fill="#111"/>
<filter id="gaa"><feOffset dx="0" dy="0"/></filter><g filter="url(#gaa)"><text x="11.9" y="36.8" font-size="15.5" fill="#111" font-weight="bold" font-style="normal" text-anchor="start" textLength="11.5" lengthAdjust="spacingAndGlyphs" >c)</text>
<text x="10.8" y="331.7" font-size="15.5" fill="#111" font-weight="bold" font-style="normal" text-anchor="start" textLength="13.9" lengthAdjust="spacingAndGlyphs" >d)</text>
<text x="63" y="27.6" font-size="10" fill="#111" font-weight="bold" font-style="normal" text-anchor="start" textLength="15.2" lengthAdjust="spacingAndGlyphs" >SW</text>
<text x="451" y="27.7" font-size="9.6" fill="#111" font-weight="bold" font-style="normal" text-anchor="start" textLength="12.5" lengthAdjust="spacingAndGlyphs" >NE</text>
<text x="53.2" y="322.7" font-size="10.5" fill="#111" font-weight="bold" font-style="normal" text-anchor="start" textLength="17.4" lengthAdjust="spacingAndGlyphs" >NW</text>
<text x="422.4" y="322.4" font-size="10.5" fill="#111" font-weight="bold" font-style="normal" text-anchor="start" textLength="11.7" lengthAdjust="spacingAndGlyphs" >SE</text>
<text x="226" y="13.2" font-size="11.5" fill="#2a2a2a" stroke="#2a2a2a" stroke-width="0.18" font-weight="normal" font-style="normal" text-anchor="start" textLength="91.4" lengthAdjust="spacingAndGlyphs" >Nappamerri Trough</text>
<text x="164.8" y="25.1" font-size="7.6" fill="#3a3a3a" font-weight="normal" font-style="normal" text-anchor="start" textLength="33.4" lengthAdjust="spacingAndGlyphs" >Cainozoic</text>
<text x="110.9" y="32" font-size="6.3" fill="#505050" font-weight="normal" font-style="normal" text-anchor="start" textLength="34.2" lengthAdjust="spacingAndGlyphs" >Daralingie-1</text>
<text x="229.4" y="30.6" font-size="6.3" fill="#505050" font-weight="normal" font-style="normal" text-anchor="start" textLength="23.9" lengthAdjust="spacingAndGlyphs" >Burley-2</text>
<text x="260" y="30.6" font-size="6.3" fill="#505050" font-weight="normal" font-style="normal" text-anchor="start" textLength="35.4" lengthAdjust="spacingAndGlyphs" >Encounter-1</text>
<text x="388.8" y="27.5" font-size="6.3" fill="#505050" font-weight="normal" font-style="normal" text-anchor="start" textLength="21.9" lengthAdjust="spacingAndGlyphs" >Keilor-1</text>
<text x="38.9" y="41.4" font-size="8.6" fill="#333" stroke="#333" stroke-width="0.12" font-weight="normal" font-style="normal" text-anchor="end" >0</text>
<line x1="42.2" y1="38.4" x2="45" y2="38.4" stroke="#555" stroke-width="0.8"/>
<text x="49.1" y="335.6" font-size="8.6" fill="#333" stroke="#333" stroke-width="0.12" font-weight="normal" font-style="normal" text-anchor="end" >0</text>
<line x1="52.4" y1="332.6" x2="54.9" y2="332.6" stroke="#555" stroke-width="0.8"/>
<text x="38.9" y="81.35" font-size="8.6" fill="#333" stroke="#333" stroke-width="0.12" font-weight="normal" font-style="normal" text-anchor="end" >1000</text>
<line x1="42.2" y1="78.3" x2="45" y2="78.3" stroke="#555" stroke-width="0.8"/>
<text x="49.1" y="375.55" font-size="8.6" fill="#333" stroke="#333" stroke-width="0.12" font-weight="normal" font-style="normal" text-anchor="end" >1000</text>
<line x1="52.4" y1="372.6" x2="54.9" y2="372.6" stroke="#555" stroke-width="0.8"/>
<text x="38.9" y="121.30000000000001" font-size="8.6" fill="#333" stroke="#333" stroke-width="0.12" font-weight="normal" font-style="normal" text-anchor="end" >2000</text>
<line x1="42.2" y1="118.3" x2="45" y2="118.3" stroke="#555" stroke-width="0.8"/>
<text x="49.1" y="415.5" font-size="8.6" fill="#333" stroke="#333" stroke-width="0.12" font-weight="normal" font-style="normal" text-anchor="end" >2000</text>
<line x1="52.4" y1="412.5" x2="54.9" y2="412.5" stroke="#555" stroke-width="0.8"/>
<text x="38.9" y="161.25" font-size="8.6" fill="#333" stroke="#333" stroke-width="0.12" font-weight="normal" font-style="normal" text-anchor="end" >3000</text>
<line x1="42.2" y1="158.2" x2="45" y2="158.2" stroke="#555" stroke-width="0.8"/>
<text x="49.1" y="455.45000000000005" font-size="8.6" fill="#333" stroke="#333" stroke-width="0.12" font-weight="normal" font-style="normal" text-anchor="end" >3000</text>
<line x1="52.4" y1="452.5" x2="54.9" y2="452.5" stroke="#555" stroke-width="0.8"/>
<text x="38.9" y="201.20000000000002" font-size="8.6" fill="#333" stroke="#333" stroke-width="0.12" font-weight="normal" font-style="normal" text-anchor="end" >4000</text>
<line x1="42.2" y1="198.2" x2="45" y2="198.2" stroke="#555" stroke-width="0.8"/>
<text x="49.1" y="495.40000000000003" font-size="8.6" fill="#333" stroke="#333" stroke-width="0.12" font-weight="normal" font-style="normal" text-anchor="end" >4000</text>
<line x1="52.4" y1="492.4" x2="54.9" y2="492.4" stroke="#555" stroke-width="0.8"/>
<text x="38.9" y="241.15" font-size="8.6" fill="#333" stroke="#333" stroke-width="0.12" font-weight="normal" font-style="normal" text-anchor="end" >5000</text>
<line x1="42.2" y1="238.2" x2="45" y2="238.2" stroke="#555" stroke-width="0.8"/>
<text x="49.1" y="535.35" font-size="8.6" fill="#333" stroke="#333" stroke-width="0.12" font-weight="normal" font-style="normal" text-anchor="end" >5000</text>
<line x1="52.4" y1="532.4" x2="54.9" y2="532.4" stroke="#555" stroke-width="0.8"/>
<text x="0" y="0" font-size="9.2" fill="#333" stroke="#333" stroke-width="0.15" font-weight="normal" font-style="normal" text-anchor="middle" textLength="41.0" lengthAdjust="spacingAndGlyphs" transform="translate(10.2,138) rotate(-90)">Depth [m]</text>
<text x="0" y="0" font-size="9.2" fill="#333" stroke="#333" stroke-width="0.15" font-weight="normal" font-style="normal" text-anchor="middle" textLength="40.3" lengthAdjust="spacingAndGlyphs" transform="translate(21,433.4) rotate(-90)">Depth [m]</text>
<text x="486" y="49.6" font-size="8" fill="#303030" stroke="#303030" stroke-width="0.15" font-weight="normal" font-style="normal" text-anchor="start" textLength="56.3" lengthAdjust="spacingAndGlyphs" >Late Cretaceous</text>
<text x="484.8" y="80.8" font-size="8" fill="#303030" stroke="#303030" stroke-width="0.15" font-weight="normal" font-style="normal" text-anchor="start" textLength="58.7" lengthAdjust="spacingAndGlyphs" >Early Cretaceous</text>
<text x="501" y="107.3" font-size="8" fill="#303030" stroke="#303030" stroke-width="0.15" font-weight="normal" font-style="normal" text-anchor="start" textLength="26.0" lengthAdjust="spacingAndGlyphs" >Jurassic</text>
<text x="502" y="126.9" font-size="8" fill="#303030" stroke="#303030" stroke-width="0.15" font-weight="normal" font-style="normal" text-anchor="start" textLength="25.0" lengthAdjust="spacingAndGlyphs" >Triassic</text>
<text x="499.7" y="138.7" font-size="8" fill="#303030" stroke="#303030" stroke-width="0.15" font-weight="normal" font-style="normal" text-anchor="start" textLength="28.3" lengthAdjust="spacingAndGlyphs" >Permian</text>
<text x="473.3" y="334.3" font-size="8" fill="#303030" stroke="#303030" stroke-width="0.15" font-weight="normal" font-style="normal" text-anchor="start" textLength="56.0" lengthAdjust="spacingAndGlyphs" >Late Cretaceous</text>
<text x="471.9" y="354.8" font-size="8" fill="#303030" stroke="#303030" stroke-width="0.15" font-weight="normal" font-style="normal" text-anchor="start" textLength="58.4" lengthAdjust="spacingAndGlyphs" >Early Cretaceous</text>
<text x="487.8" y="370.5" font-size="8" fill="#303030" stroke="#303030" stroke-width="0.15" font-weight="normal" font-style="normal" text-anchor="start" textLength="26.8" lengthAdjust="spacingAndGlyphs" >Jurassic</text>
<text x="283.5" y="65.5" font-size="10" fill="#26461a" font-weight="bold" font-style="italic" text-anchor="start" textLength="47.6" lengthAdjust="spacingAndGlyphs" >Eromanga</text>
<text x="295" y="79.2" font-size="10" fill="#26461a" font-weight="bold" font-style="italic" text-anchor="start" textLength="24.6" lengthAdjust="spacingAndGlyphs" >Basin</text>
<text x="365.2" y="48.8" font-size="8" fill="#234a18" stroke="#234a18" stroke-width="0.15" font-weight="normal" font-style="normal" text-anchor="start" textLength="12.8" lengthAdjust="spacingAndGlyphs" >JNP</text>
<text x="361.9" y="59.3" font-size="8" fill="#234a18" stroke="#234a18" stroke-width="0.15" font-weight="normal" font-style="normal" text-anchor="start" textLength="19.4" lengthAdjust="spacingAndGlyphs" >Ridge</text>
<text x="388.7" y="46.3" font-size="8" fill="#234a18" stroke="#234a18" stroke-width="0.15" font-weight="normal" font-style="normal" text-anchor="start" textLength="28.3" lengthAdjust="spacingAndGlyphs" >Durham</text>
<text x="386.2" y="57.3" font-size="8" fill="#234a18" stroke="#234a18" stroke-width="0.15" font-weight="normal" font-style="normal" text-anchor="start" textLength="30.4" lengthAdjust="spacingAndGlyphs" >Downs A.</text>
<text x="94.9" y="156" font-size="8" fill="#3a3a3a" stroke="#3a3a3a" stroke-width="0.15" font-weight="normal" font-style="normal" text-anchor="start" textLength="32.1" lengthAdjust="spacingAndGlyphs" >Moomba</text>
<text x="96" y="165" font-size="8" fill="#3a3a3a" stroke="#3a3a3a" stroke-width="0.15" font-weight="normal" font-style="normal" text-anchor="start" textLength="29.5" lengthAdjust="spacingAndGlyphs" >gas field</text>
<text x="160.5" y="171.5" font-size="10" fill="#2e2e2e" stroke="#2e2e2e" stroke-width="0.15" font-weight="normal" font-style="normal" text-anchor="start" textLength="15.4" lengthAdjust="spacingAndGlyphs" >BLS</text>
<text x="140.8" y="182.6" font-size="8" fill="#3a3a3a" stroke="#3a3a3a" stroke-width="0.15" font-weight="normal" font-style="normal" text-anchor="start" textLength="27.4" lengthAdjust="spacingAndGlyphs" >Wooloo</text>
<text x="143" y="191.3" font-size="8" fill="#3a3a3a" stroke="#3a3a3a" stroke-width="0.15" font-weight="normal" font-style="normal" text-anchor="start" textLength="24.1" lengthAdjust="spacingAndGlyphs" >Trough</text>
<text x="147.7" y="217.2" font-size="8" fill="#3a3a3a" stroke="#3a3a3a" stroke-width="0.15" font-weight="normal" font-style="normal" text-anchor="start" textLength="49.8" lengthAdjust="spacingAndGlyphs" >Carboniferous</text>
<text x="235" y="202.8" font-size="10" fill="#2e2e2e" stroke="#2e2e2e" stroke-width="0.15" font-weight="normal" font-style="normal" text-anchor="start" textLength="16.1" lengthAdjust="spacingAndGlyphs" >BLS</text>
<text x="286" y="161.6" font-size="10.5" fill="#3e1a14" stroke="#3e1a14" stroke-width="0.3" font-weight="normal" font-style="italic" text-anchor="start" textLength="31.8" lengthAdjust="spacingAndGlyphs" >Cooper</text>
<text x="290" y="174.9" font-size="10.5" fill="#3e1a14" stroke="#3e1a14" stroke-width="0.3" font-weight="normal" font-style="italic" text-anchor="start" textLength="23.7" lengthAdjust="spacingAndGlyphs" >Basin</text>
<text x="369.1" y="172.4" font-size="6.2" fill="#2a2a2a" stroke="#2a2a2a" stroke-width="0.1" font-weight="normal" font-style="normal" text-anchor="start" textLength="17.1" lengthAdjust="spacingAndGlyphs" >KNFZ</text>
<text x="379.2" y="209.6" font-size="11.5" fill="#222" font-weight="normal" font-style="normal" text-anchor="start" textLength="31.1" lengthAdjust="spacingAndGlyphs" >50 km</text>
<text x="88" y="302.6" font-size="11.5" fill="#2a2a2a" stroke="#2a2a2a" stroke-width="0.18" font-weight="normal" font-style="normal" text-anchor="start" textLength="56.5" lengthAdjust="spacingAndGlyphs" >Patchawarra</text>
<text x="100.9" y="315.6" font-size="11.5" fill="#2a2a2a" stroke="#2a2a2a" stroke-width="0.18" font-weight="normal" font-style="normal" text-anchor="start" textLength="32.1" lengthAdjust="spacingAndGlyphs" >Trough</text>
<text x="185.6" y="302.6" font-size="11.5" fill="#2a2a2a" stroke="#2a2a2a" stroke-width="0.18" font-weight="normal" font-style="normal" text-anchor="start" textLength="54.9" lengthAdjust="spacingAndGlyphs" >Nappamerri</text>
<text x="196.8" y="315.6" font-size="11.5" fill="#2a2a2a" stroke="#2a2a2a" stroke-width="0.18" font-weight="normal" font-style="normal" text-anchor="start" textLength="32.8" lengthAdjust="spacingAndGlyphs" >Trough</text>
<text x="322.7" y="302.6" font-size="11.5" fill="#2a2a2a" stroke="#2a2a2a" stroke-width="0.18" font-weight="normal" font-style="normal" text-anchor="start" textLength="49.0" lengthAdjust="spacingAndGlyphs" >Tenappera</text>
<text x="330.7" y="315.6" font-size="11.5" fill="#2a2a2a" stroke="#2a2a2a" stroke-width="0.18" font-weight="normal" font-style="normal" text-anchor="start" textLength="32.8" lengthAdjust="spacingAndGlyphs" >Trough</text>
<text x="143.6" y="315.3" font-size="7.4" fill="#3a3a3a" font-weight="normal" font-style="normal" text-anchor="start" textLength="33.8" lengthAdjust="spacingAndGlyphs" >Cainozoic</text>
<text x="100.2" y="328.8" font-size="6.3" fill="#505050" font-weight="normal" font-style="normal" text-anchor="start" textLength="34.5" lengthAdjust="spacingAndGlyphs" >Beanbush-1</text>
<text x="248.7" y="325" font-size="6.3" fill="#505050" font-weight="normal" font-style="normal" text-anchor="start" textLength="39.3" lengthAdjust="spacingAndGlyphs" >Warnie East-1</text>
<text x="184" y="350.5" font-size="10" fill="#26461a" font-weight="bold" font-style="italic" text-anchor="start" textLength="48.1" lengthAdjust="spacingAndGlyphs" >Eromanga</text>
<text x="195.5" y="365" font-size="10" fill="#26461a" font-weight="bold" font-style="italic" text-anchor="start" textLength="24.6" lengthAdjust="spacingAndGlyphs" >Basin</text>
<text x="184" y="456.2" font-size="10.5" fill="#3e1a14" stroke="#3e1a14" stroke-width="0.3" font-weight="normal" font-style="italic" text-anchor="start" textLength="31.8" lengthAdjust="spacingAndGlyphs" >Cooper</text>
<text x="188.4" y="469.9" font-size="10.5" fill="#3e1a14" stroke="#3e1a14" stroke-width="0.3" font-weight="normal" font-style="italic" text-anchor="start" textLength="24.1" lengthAdjust="spacingAndGlyphs" >Basin</text>
<text x="131.5" y="485.2" font-size="8" fill="#3a3a3a" stroke="#3a3a3a" stroke-width="0.15" font-weight="normal" font-style="normal" text-anchor="start" textLength="34.0" lengthAdjust="spacingAndGlyphs" >GMI Ridge</text>
<text x="272.3" y="442" font-size="8" fill="#303030" stroke="#303030" stroke-width="0.15" font-weight="normal" font-style="normal" text-anchor="start" textLength="25.1" lengthAdjust="spacingAndGlyphs" >Triassic</text>
<text x="270" y="462.7" font-size="8" fill="#303030" stroke="#303030" stroke-width="0.15" font-weight="normal" font-style="normal" text-anchor="start" textLength="29.6" lengthAdjust="spacingAndGlyphs" >Permian</text>
<text x="260.2" y="483.6" font-size="8" fill="#303030" stroke="#303030" stroke-width="0.15" font-weight="normal" font-style="normal" text-anchor="start" textLength="49.3" lengthAdjust="spacingAndGlyphs" >Carboniferous</text>
<text x="379.2" y="500.6" font-size="11.5" fill="#222" font-weight="normal" font-style="normal" text-anchor="start" textLength="31.1" lengthAdjust="spacingAndGlyphs" >50 km</text></g></svg></body></html>
